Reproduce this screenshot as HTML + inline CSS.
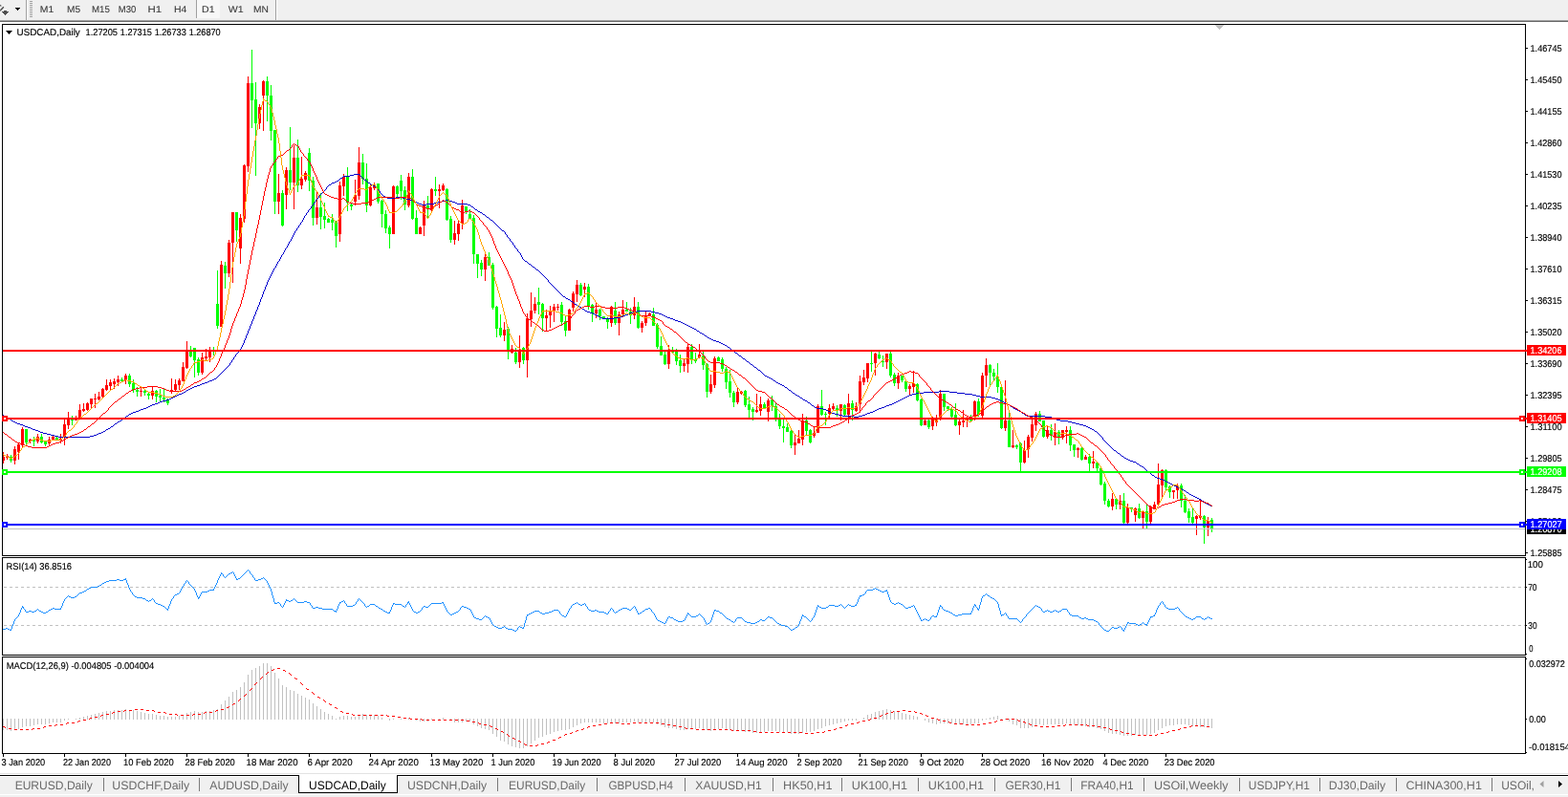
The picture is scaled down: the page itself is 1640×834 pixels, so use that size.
<!DOCTYPE html>
<html><head><meta charset="utf-8"><title>USDCAD,Daily</title>
<style>
html,body{margin:0;padding:0;background:#fff;overflow:hidden}
svg{display:block;font-family:"Liberation Sans", sans-serif;}
text{white-space:pre}
</style></head><body>
<svg width="1640" height="834" viewBox="0 0 1640 834" shape-rendering="crispEdges" text-rendering="geometricPrecision">
<rect x="0" y="0" width="1640" height="834" fill="#ffffff"/>
<rect x="0" y="0" width="1640" height="21" fill="#f0f0f0"/>
<rect x="0" y="21" width="1640" height="1" fill="#a0a0a0"/>
<rect x="0" y="22" width="1640" height="1" fill="#696969"/>
<rect x="27" y="0" width="1" height="21" fill="#a0a0a0"/>
<rect x="28" y="0" width="1" height="21" fill="#ffffff"/>
<rect x="288" y="0" width="1" height="21" fill="#a0a0a0"/>
<rect x="289" y="0" width="1" height="21" fill="#ffffff"/>
<rect x="31" y="1" width="3" height="1" fill="#a0a0a0"/>
<rect x="31" y="3" width="3" height="1" fill="#a0a0a0"/>
<rect x="31" y="5" width="3" height="1" fill="#a0a0a0"/>
<rect x="31" y="7" width="3" height="1" fill="#a0a0a0"/>
<rect x="31" y="9" width="3" height="1" fill="#a0a0a0"/>
<rect x="31" y="11" width="3" height="1" fill="#a0a0a0"/>
<rect x="31" y="13" width="3" height="1" fill="#a0a0a0"/>
<rect x="31" y="15" width="3" height="1" fill="#a0a0a0"/>
<rect x="31" y="17" width="3" height="1" fill="#a0a0a0"/>
<rect x="206" y="0" width="24" height="19" fill="#f8f8f8"/>
<rect x="205" y="0" width="1" height="19" fill="#a0a0a0"/>
<text x="41.89" y="13" font-size="9.9" fill="#3a3a3a" stroke="#3a3a3a" stroke-width="0.1" textLength="14.42" lengthAdjust="spacingAndGlyphs">M1</text>
<text x="70.11" y="13" font-size="9.9" fill="#3a3a3a" stroke="#3a3a3a" stroke-width="0.1" textLength="14.03" lengthAdjust="spacingAndGlyphs">M5</text>
<text x="96.02" y="13" font-size="9.9" fill="#3a3a3a" stroke="#3a3a3a" stroke-width="0.1" textLength="18.85" lengthAdjust="spacingAndGlyphs">M15</text>
<text x="123.83" y="13" font-size="9.9" fill="#3a3a3a" stroke="#3a3a3a" stroke-width="0.1" textLength="18.46" lengthAdjust="spacingAndGlyphs">M30</text>
<text x="154.58" y="13" font-size="9.9" fill="#3a3a3a" stroke="#3a3a3a" stroke-width="0.1" textLength="14.63" lengthAdjust="spacingAndGlyphs">H1</text>
<text x="181.96" y="13" font-size="9.9" fill="#3a3a3a" stroke="#3a3a3a" stroke-width="0.1" textLength="13.32" lengthAdjust="spacingAndGlyphs">H4</text>
<text x="211.05" y="13" font-size="9.9" fill="#3a3a3a" stroke="#3a3a3a" stroke-width="0.1" textLength="13.43" lengthAdjust="spacingAndGlyphs">D1</text>
<text x="238.69" y="13" font-size="9.9" fill="#3a3a3a" stroke="#3a3a3a" stroke-width="0.1" textLength="15.91" lengthAdjust="spacingAndGlyphs">W1</text>
<text x="265.03" y="13" font-size="9.9" fill="#3a3a3a" stroke="#3a3a3a" stroke-width="0.1" textLength="15.89" lengthAdjust="spacingAndGlyphs">MN</text>
<rect x="16" y="8" width="5" height="1" fill="#000"/>
<rect x="17" y="9" width="3" height="1" fill="#000"/>
<rect x="18" y="10" width="1" height="1" fill="#000"/>
<path d="M3.8 7.2 L0 11.2" fill="none" stroke="#484848" stroke-width="1.4" shape-rendering="auto"/>
<path d="M0 4.8 L2 6.2 L0 6.6z" fill="#484848" shape-rendering="auto"/>
<rect x="4" y="11" width="3" height="1" fill="#505050"/>
<rect x="2" y="12" width="7" height="1" fill="#505050"/>
<rect x="3" y="13" width="5" height="1" fill="#505050"/>
<rect x="4" y="14" width="3" height="1" fill="#505050"/>
<rect x="5" y="15" width="1" height="1" fill="#505050"/>
<rect x="1596" y="50" width="2" height="1" fill="#000"/>
<rect x="1596" y="83" width="2" height="1" fill="#000"/>
<rect x="1596" y="116" width="2" height="1" fill="#000"/>
<rect x="1596" y="149" width="2" height="1" fill="#000"/>
<rect x="1596" y="182" width="2" height="1" fill="#000"/>
<rect x="1596" y="215" width="2" height="1" fill="#000"/>
<rect x="1596" y="248" width="2" height="1" fill="#000"/>
<rect x="1596" y="281" width="2" height="1" fill="#000"/>
<rect x="1596" y="314" width="2" height="1" fill="#000"/>
<rect x="1596" y="347" width="2" height="1" fill="#000"/>
<rect x="1596" y="380" width="2" height="1" fill="#000"/>
<rect x="1596" y="413" width="2" height="1" fill="#000"/>
<rect x="1596" y="446" width="2" height="1" fill="#000"/>
<rect x="1596" y="479" width="2" height="1" fill="#000"/>
<rect x="1596" y="512" width="2" height="1" fill="#000"/>
<rect x="1596" y="545" width="2" height="1" fill="#000"/>
<rect x="1596" y="578" width="2" height="1" fill="#000"/>
<text x="1600.53" y="54" font-size="9.9" fill="#000" stroke="#000" stroke-width="0.15" textLength="33.11" lengthAdjust="spacingAndGlyphs">1.46745</text>
<text x="1600.54" y="87" font-size="9.9" fill="#000" stroke="#000" stroke-width="0.15" textLength="32.98" lengthAdjust="spacingAndGlyphs">1.45450</text>
<text x="1600.53" y="120" font-size="9.9" fill="#000" stroke="#000" stroke-width="0.15" textLength="33.11" lengthAdjust="spacingAndGlyphs">1.44155</text>
<text x="1600.54" y="153" font-size="9.9" fill="#000" stroke="#000" stroke-width="0.15" textLength="32.98" lengthAdjust="spacingAndGlyphs">1.42860</text>
<text x="1600.54" y="186" font-size="9.9" fill="#000" stroke="#000" stroke-width="0.15" textLength="32.98" lengthAdjust="spacingAndGlyphs">1.41530</text>
<text x="1600.53" y="219" font-size="9.9" fill="#000" stroke="#000" stroke-width="0.15" textLength="33.11" lengthAdjust="spacingAndGlyphs">1.40235</text>
<text x="1600.54" y="252" font-size="9.9" fill="#000" stroke="#000" stroke-width="0.15" textLength="32.98" lengthAdjust="spacingAndGlyphs">1.38940</text>
<text x="1600.54" y="285" font-size="9.9" fill="#000" stroke="#000" stroke-width="0.15" textLength="32.98" lengthAdjust="spacingAndGlyphs">1.37610</text>
<text x="1600.53" y="318" font-size="9.9" fill="#000" stroke="#000" stroke-width="0.15" textLength="33.11" lengthAdjust="spacingAndGlyphs">1.36315</text>
<text x="1600.54" y="351" font-size="9.9" fill="#000" stroke="#000" stroke-width="0.15" textLength="32.98" lengthAdjust="spacingAndGlyphs">1.35020</text>
<text x="1600.54" y="384" font-size="9.9" fill="#000" stroke="#000" stroke-width="0.15" textLength="32.98" lengthAdjust="spacingAndGlyphs">1.33690</text>
<text x="1600.53" y="417" font-size="9.9" fill="#000" stroke="#000" stroke-width="0.15" textLength="33.11" lengthAdjust="spacingAndGlyphs">1.32395</text>
<text x="1600.50" y="450" font-size="9.9" fill="#000" stroke="#000" stroke-width="0.15" textLength="33.29" lengthAdjust="spacingAndGlyphs">1.31100</text>
<text x="1600.53" y="483" font-size="9.9" fill="#000" stroke="#000" stroke-width="0.15" textLength="33.11" lengthAdjust="spacingAndGlyphs">1.29805</text>
<text x="1600.53" y="516" font-size="9.9" fill="#000" stroke="#000" stroke-width="0.15" textLength="33.11" lengthAdjust="spacingAndGlyphs">1.28475</text>
<text x="1600.54" y="549" font-size="9.9" fill="#000" stroke="#000" stroke-width="0.15" textLength="32.98" lengthAdjust="spacingAndGlyphs">1.27180</text>
<text x="1600.53" y="582" font-size="9.9" fill="#000" stroke="#000" stroke-width="0.15" textLength="33.11" lengthAdjust="spacingAndGlyphs">1.25885</text>
<path fill="#c0c0c0" d="M4 614h3v1h-3zM10 614h3v1h-3zM16 614h3v1h-3zM22 614h3v1h-3zM28 614h3v1h-3zM34 614h3v1h-3zM40 614h3v1h-3zM46 614h3v1h-3zM52 614h3v1h-3zM58 614h3v1h-3zM64 614h3v1h-3zM70 614h3v1h-3zM76 614h3v1h-3zM82 614h3v1h-3zM88 614h3v1h-3zM94 614h3v1h-3zM100 614h3v1h-3zM106 614h3v1h-3zM112 614h3v1h-3zM118 614h3v1h-3zM124 614h3v1h-3zM130 614h3v1h-3zM136 614h3v1h-3zM142 614h3v1h-3zM148 614h3v1h-3zM154 614h3v1h-3zM160 614h3v1h-3zM166 614h3v1h-3zM172 614h3v1h-3zM178 614h3v1h-3zM184 614h3v1h-3zM190 614h3v1h-3zM196 614h3v1h-3zM202 614h3v1h-3zM208 614h3v1h-3zM214 614h3v1h-3zM220 614h3v1h-3zM226 614h3v1h-3zM232 614h3v1h-3zM238 614h3v1h-3zM244 614h3v1h-3zM250 614h3v1h-3zM256 614h3v1h-3zM262 614h3v1h-3zM268 614h3v1h-3zM274 614h3v1h-3zM280 614h3v1h-3zM286 614h3v1h-3zM292 614h3v1h-3zM298 614h3v1h-3zM304 614h3v1h-3zM310 614h3v1h-3zM316 614h3v1h-3zM322 614h3v1h-3zM328 614h3v1h-3zM334 614h3v1h-3zM340 614h3v1h-3zM346 614h3v1h-3zM352 614h3v1h-3zM358 614h3v1h-3zM364 614h3v1h-3zM370 614h3v1h-3zM376 614h3v1h-3zM382 614h3v1h-3zM388 614h3v1h-3zM394 614h3v1h-3zM400 614h3v1h-3zM406 614h3v1h-3zM412 614h3v1h-3zM418 614h3v1h-3zM424 614h3v1h-3zM430 614h3v1h-3zM436 614h3v1h-3zM442 614h3v1h-3zM448 614h3v1h-3zM454 614h3v1h-3zM460 614h3v1h-3zM466 614h3v1h-3zM472 614h3v1h-3zM478 614h3v1h-3zM484 614h3v1h-3zM490 614h3v1h-3zM496 614h3v1h-3zM502 614h3v1h-3zM508 614h3v1h-3zM514 614h3v1h-3zM520 614h3v1h-3zM526 614h3v1h-3zM532 614h3v1h-3zM538 614h3v1h-3zM544 614h3v1h-3zM550 614h3v1h-3zM556 614h3v1h-3zM562 614h3v1h-3zM568 614h3v1h-3zM574 614h3v1h-3zM580 614h3v1h-3zM586 614h3v1h-3zM592 614h3v1h-3zM598 614h3v1h-3zM604 614h3v1h-3zM610 614h3v1h-3zM616 614h3v1h-3zM622 614h3v1h-3zM628 614h3v1h-3zM634 614h3v1h-3zM640 614h3v1h-3zM646 614h3v1h-3zM652 614h3v1h-3zM658 614h3v1h-3zM664 614h3v1h-3zM670 614h3v1h-3zM676 614h3v1h-3zM682 614h3v1h-3zM688 614h3v1h-3zM694 614h3v1h-3zM700 614h3v1h-3zM706 614h3v1h-3zM712 614h3v1h-3zM718 614h3v1h-3zM724 614h3v1h-3zM730 614h3v1h-3zM736 614h3v1h-3zM742 614h3v1h-3zM748 614h3v1h-3zM754 614h3v1h-3zM760 614h3v1h-3zM766 614h3v1h-3zM772 614h3v1h-3zM778 614h3v1h-3zM784 614h3v1h-3zM790 614h3v1h-3zM796 614h3v1h-3zM802 614h3v1h-3zM808 614h3v1h-3zM814 614h3v1h-3zM820 614h3v1h-3zM826 614h3v1h-3zM832 614h3v1h-3zM838 614h3v1h-3zM844 614h3v1h-3zM850 614h3v1h-3zM856 614h3v1h-3zM862 614h3v1h-3zM868 614h3v1h-3zM874 614h3v1h-3zM880 614h3v1h-3zM886 614h3v1h-3zM892 614h3v1h-3zM898 614h3v1h-3zM904 614h3v1h-3zM910 614h3v1h-3zM916 614h3v1h-3zM922 614h3v1h-3zM928 614h3v1h-3zM934 614h3v1h-3zM940 614h3v1h-3zM946 614h3v1h-3zM952 614h3v1h-3zM958 614h3v1h-3zM964 614h3v1h-3zM970 614h3v1h-3zM976 614h3v1h-3zM982 614h3v1h-3zM988 614h3v1h-3zM994 614h3v1h-3zM1000 614h3v1h-3zM1006 614h3v1h-3zM1012 614h3v1h-3zM1018 614h3v1h-3zM1024 614h3v1h-3zM1030 614h3v1h-3zM1036 614h3v1h-3zM1042 614h3v1h-3zM1048 614h3v1h-3zM1054 614h3v1h-3zM1060 614h3v1h-3zM1066 614h3v1h-3zM1072 614h3v1h-3zM1078 614h3v1h-3zM1084 614h3v1h-3zM1090 614h3v1h-3zM1096 614h3v1h-3zM1102 614h3v1h-3zM1108 614h3v1h-3zM1114 614h3v1h-3zM1120 614h3v1h-3zM1126 614h3v1h-3zM1132 614h3v1h-3zM1138 614h3v1h-3zM1144 614h3v1h-3zM1150 614h3v1h-3zM1156 614h3v1h-3zM1162 614h3v1h-3zM1168 614h3v1h-3zM1174 614h3v1h-3zM1180 614h3v1h-3zM1186 614h3v1h-3zM1192 614h3v1h-3zM1198 614h3v1h-3zM1204 614h3v1h-3zM1210 614h3v1h-3zM1216 614h3v1h-3zM1222 614h3v1h-3zM1228 614h3v1h-3zM1234 614h3v1h-3zM1240 614h3v1h-3zM1246 614h3v1h-3zM1252 614h3v1h-3zM1258 614h3v1h-3zM1264 614h3v1h-3zM1270 614h3v1h-3zM1276 614h3v1h-3zM1282 614h3v1h-3zM1288 614h3v1h-3zM1294 614h3v1h-3zM1300 614h3v1h-3zM1306 614h3v1h-3zM1312 614h3v1h-3zM1318 614h3v1h-3zM1324 614h3v1h-3zM1330 614h3v1h-3zM1336 614h3v1h-3zM1342 614h3v1h-3zM1348 614h3v1h-3zM1354 614h3v1h-3zM1360 614h3v1h-3zM1366 614h3v1h-3zM1372 614h3v1h-3zM1378 614h3v1h-3zM1384 614h3v1h-3zM1390 614h3v1h-3zM1396 614h3v1h-3zM1402 614h3v1h-3zM1408 614h3v1h-3zM1414 614h3v1h-3zM1420 614h3v1h-3zM1426 614h3v1h-3zM1432 614h3v1h-3zM1438 614h3v1h-3zM1444 614h3v1h-3zM1450 614h3v1h-3zM1456 614h3v1h-3zM1462 614h3v1h-3zM1468 614h3v1h-3zM1474 614h3v1h-3zM1480 614h3v1h-3zM1486 614h3v1h-3zM1492 614h3v1h-3zM1498 614h3v1h-3zM1504 614h3v1h-3zM1510 614h3v1h-3zM1516 614h3v1h-3zM1522 614h3v1h-3zM1528 614h3v1h-3zM1534 614h3v1h-3zM1540 614h3v1h-3zM1546 614h3v1h-3zM1552 614h3v1h-3zM1558 614h3v1h-3zM1564 614h3v1h-3zM1570 614h3v1h-3zM1576 614h3v1h-3zM1582 614h3v1h-3zM1588 614h3v1h-3zM1594 614h3v1h-3z"/>
<path fill="#c0c0c0" d="M4 654h3v1h-3zM10 654h3v1h-3zM16 654h3v1h-3zM22 654h3v1h-3zM28 654h3v1h-3zM34 654h3v1h-3zM40 654h3v1h-3zM46 654h3v1h-3zM52 654h3v1h-3zM58 654h3v1h-3zM64 654h3v1h-3zM70 654h3v1h-3zM76 654h3v1h-3zM82 654h3v1h-3zM88 654h3v1h-3zM94 654h3v1h-3zM100 654h3v1h-3zM106 654h3v1h-3zM112 654h3v1h-3zM118 654h3v1h-3zM124 654h3v1h-3zM130 654h3v1h-3zM136 654h3v1h-3zM142 654h3v1h-3zM148 654h3v1h-3zM154 654h3v1h-3zM160 654h3v1h-3zM166 654h3v1h-3zM172 654h3v1h-3zM178 654h3v1h-3zM184 654h3v1h-3zM190 654h3v1h-3zM196 654h3v1h-3zM202 654h3v1h-3zM208 654h3v1h-3zM214 654h3v1h-3zM220 654h3v1h-3zM226 654h3v1h-3zM232 654h3v1h-3zM238 654h3v1h-3zM244 654h3v1h-3zM250 654h3v1h-3zM256 654h3v1h-3zM262 654h3v1h-3zM268 654h3v1h-3zM274 654h3v1h-3zM280 654h3v1h-3zM286 654h3v1h-3zM292 654h3v1h-3zM298 654h3v1h-3zM304 654h3v1h-3zM310 654h3v1h-3zM316 654h3v1h-3zM322 654h3v1h-3zM328 654h3v1h-3zM334 654h3v1h-3zM340 654h3v1h-3zM346 654h3v1h-3zM352 654h3v1h-3zM358 654h3v1h-3zM364 654h3v1h-3zM370 654h3v1h-3zM376 654h3v1h-3zM382 654h3v1h-3zM388 654h3v1h-3zM394 654h3v1h-3zM400 654h3v1h-3zM406 654h3v1h-3zM412 654h3v1h-3zM418 654h3v1h-3zM424 654h3v1h-3zM430 654h3v1h-3zM436 654h3v1h-3zM442 654h3v1h-3zM448 654h3v1h-3zM454 654h3v1h-3zM460 654h3v1h-3zM466 654h3v1h-3zM472 654h3v1h-3zM478 654h3v1h-3zM484 654h3v1h-3zM490 654h3v1h-3zM496 654h3v1h-3zM502 654h3v1h-3zM508 654h3v1h-3zM514 654h3v1h-3zM520 654h3v1h-3zM526 654h3v1h-3zM532 654h3v1h-3zM538 654h3v1h-3zM544 654h3v1h-3zM550 654h3v1h-3zM556 654h3v1h-3zM562 654h3v1h-3zM568 654h3v1h-3zM574 654h3v1h-3zM580 654h3v1h-3zM586 654h3v1h-3zM592 654h3v1h-3zM598 654h3v1h-3zM604 654h3v1h-3zM610 654h3v1h-3zM616 654h3v1h-3zM622 654h3v1h-3zM628 654h3v1h-3zM634 654h3v1h-3zM640 654h3v1h-3zM646 654h3v1h-3zM652 654h3v1h-3zM658 654h3v1h-3zM664 654h3v1h-3zM670 654h3v1h-3zM676 654h3v1h-3zM682 654h3v1h-3zM688 654h3v1h-3zM694 654h3v1h-3zM700 654h3v1h-3zM706 654h3v1h-3zM712 654h3v1h-3zM718 654h3v1h-3zM724 654h3v1h-3zM730 654h3v1h-3zM736 654h3v1h-3zM742 654h3v1h-3zM748 654h3v1h-3zM754 654h3v1h-3zM760 654h3v1h-3zM766 654h3v1h-3zM772 654h3v1h-3zM778 654h3v1h-3zM784 654h3v1h-3zM790 654h3v1h-3zM796 654h3v1h-3zM802 654h3v1h-3zM808 654h3v1h-3zM814 654h3v1h-3zM820 654h3v1h-3zM826 654h3v1h-3zM832 654h3v1h-3zM838 654h3v1h-3zM844 654h3v1h-3zM850 654h3v1h-3zM856 654h3v1h-3zM862 654h3v1h-3zM868 654h3v1h-3zM874 654h3v1h-3zM880 654h3v1h-3zM886 654h3v1h-3zM892 654h3v1h-3zM898 654h3v1h-3zM904 654h3v1h-3zM910 654h3v1h-3zM916 654h3v1h-3zM922 654h3v1h-3zM928 654h3v1h-3zM934 654h3v1h-3zM940 654h3v1h-3zM946 654h3v1h-3zM952 654h3v1h-3zM958 654h3v1h-3zM964 654h3v1h-3zM970 654h3v1h-3zM976 654h3v1h-3zM982 654h3v1h-3zM988 654h3v1h-3zM994 654h3v1h-3zM1000 654h3v1h-3zM1006 654h3v1h-3zM1012 654h3v1h-3zM1018 654h3v1h-3zM1024 654h3v1h-3zM1030 654h3v1h-3zM1036 654h3v1h-3zM1042 654h3v1h-3zM1048 654h3v1h-3zM1054 654h3v1h-3zM1060 654h3v1h-3zM1066 654h3v1h-3zM1072 654h3v1h-3zM1078 654h3v1h-3zM1084 654h3v1h-3zM1090 654h3v1h-3zM1096 654h3v1h-3zM1102 654h3v1h-3zM1108 654h3v1h-3zM1114 654h3v1h-3zM1120 654h3v1h-3zM1126 654h3v1h-3zM1132 654h3v1h-3zM1138 654h3v1h-3zM1144 654h3v1h-3zM1150 654h3v1h-3zM1156 654h3v1h-3zM1162 654h3v1h-3zM1168 654h3v1h-3zM1174 654h3v1h-3zM1180 654h3v1h-3zM1186 654h3v1h-3zM1192 654h3v1h-3zM1198 654h3v1h-3zM1204 654h3v1h-3zM1210 654h3v1h-3zM1216 654h3v1h-3zM1222 654h3v1h-3zM1228 654h3v1h-3zM1234 654h3v1h-3zM1240 654h3v1h-3zM1246 654h3v1h-3zM1252 654h3v1h-3zM1258 654h3v1h-3zM1264 654h3v1h-3zM1270 654h3v1h-3zM1276 654h3v1h-3zM1282 654h3v1h-3zM1288 654h3v1h-3zM1294 654h3v1h-3zM1300 654h3v1h-3zM1306 654h3v1h-3zM1312 654h3v1h-3zM1318 654h3v1h-3zM1324 654h3v1h-3zM1330 654h3v1h-3zM1336 654h3v1h-3zM1342 654h3v1h-3zM1348 654h3v1h-3zM1354 654h3v1h-3zM1360 654h3v1h-3zM1366 654h3v1h-3zM1372 654h3v1h-3zM1378 654h3v1h-3zM1384 654h3v1h-3zM1390 654h3v1h-3zM1396 654h3v1h-3zM1402 654h3v1h-3zM1408 654h3v1h-3zM1414 654h3v1h-3zM1420 654h3v1h-3zM1426 654h3v1h-3zM1432 654h3v1h-3zM1438 654h3v1h-3zM1444 654h3v1h-3zM1450 654h3v1h-3zM1456 654h3v1h-3zM1462 654h3v1h-3zM1468 654h3v1h-3zM1474 654h3v1h-3zM1480 654h3v1h-3zM1486 654h3v1h-3zM1492 654h3v1h-3zM1498 654h3v1h-3zM1504 654h3v1h-3zM1510 654h3v1h-3zM1516 654h3v1h-3zM1522 654h3v1h-3zM1528 654h3v1h-3zM1534 654h3v1h-3zM1540 654h3v1h-3zM1546 654h3v1h-3zM1552 654h3v1h-3zM1558 654h3v1h-3zM1564 654h3v1h-3zM1570 654h3v1h-3zM1576 654h3v1h-3zM1582 654h3v1h-3zM1588 654h3v1h-3zM1594 654h3v1h-3z"/>
<rect x="1596" y="585" width="1" height="1" fill="#000"/>
<rect x="1596" y="614" width="1" height="1" fill="#000"/>
<rect x="1596" y="654" width="1" height="1" fill="#000"/>
<rect x="1596" y="684" width="1" height="1" fill="#000"/>
<rect x="1596" y="689" width="1" height="1" fill="#000"/>
<rect x="1596" y="752" width="1" height="1" fill="#000"/>
<rect x="1596" y="787" width="1" height="1" fill="#000"/>
<text x="1597.73" y="594" font-size="9.9" fill="#000" stroke="#000" stroke-width="0.15" textLength="16.22" lengthAdjust="spacingAndGlyphs">100</text>
<text x="1598.18" y="618" font-size="9.9" fill="#000" stroke="#000" stroke-width="0.15" textLength="9.32" lengthAdjust="spacingAndGlyphs">70</text>
<text x="1598.32" y="658" font-size="9.9" fill="#000" stroke="#000" stroke-width="0.15" textLength="9.17" lengthAdjust="spacingAndGlyphs">30</text>
<text x="1599.29" y="682" font-size="9.9" fill="#000" stroke="#000" stroke-width="0.15" textLength="4.24" lengthAdjust="spacingAndGlyphs">0</text>
<text x="1599.25" y="698" font-size="9.9" fill="#000" stroke="#000" stroke-width="0.15" textLength="37.51" lengthAdjust="spacingAndGlyphs">0.032972</text>
<text x="1599.25" y="756" font-size="9.9" fill="#000" stroke="#000" stroke-width="0.15" textLength="17.65" lengthAdjust="spacingAndGlyphs">0.00</text>
<text x="1599.04" y="785" font-size="9.9" fill="#000" stroke="#000" stroke-width="0.15" textLength="43.02" lengthAdjust="spacingAndGlyphs">-0.018154</text>
<rect x="1271" y="26" width="9" height="1" fill="#c0c0c0"/>
<rect x="1272" y="27" width="7" height="1" fill="#c0c0c0"/>
<rect x="1273" y="28" width="5" height="1" fill="#c0c0c0"/>
<rect x="1274" y="29" width="3" height="1" fill="#c0c0c0"/>
<rect x="1275" y="30" width="1" height="1" fill="#c0c0c0"/>
<path fill="#00ff00" d="M11 476h1v8h-1zM10 478h3v4h-3zM27 449h1v18h-1zM26 449h3v14h-3zM35 457h1v10h-1zM34 460h3v2h-3zM43 454h1v10h-1zM42 457h3v6h-3zM47 461h1v6h-1zM46 462h3v3h-3zM59 457h1v4h-1zM58 458h3v2h-3zM75 435h1v10h-1zM74 439h3v1h-3zM127 395h1v4h-1zM126 397h3v2h-3zM135 391h1v14h-1zM134 393h3v9h-3zM139 397h1v14h-1zM138 401h3v7h-3zM143 405h1v10h-1zM142 408h3v2h-3zM151 408h1v6h-1zM150 409h3v2h-3zM155 410h1v8h-1zM154 412h3v2h-3zM163 408h1v13h-1zM162 409h3v6h-3zM167 407h1v13h-1zM166 414h3v2h-3zM171 406h1v15h-1zM170 416h3v2h-3zM175 417h1v7h-1zM174 418h3v4h-3zM199 362h1v12h-1zM198 367h3v6h-3zM203 364h1v31h-1zM202 364h3v13h-3zM207 374h1v19h-1zM206 376h3v14h-3zM223 363h1v9h-1zM222 367h3v1h-3zM227 283h1v61h-1zM226 318h3v23h-3zM235 274h1v28h-1zM234 278h3v8h-3zM247 222h1v31h-1zM246 222h3v19h-3zM263 52h1v82h-1zM262 87h3v18h-3zM267 86h1v98h-1zM266 104h3v25h-3zM279 80h1v47h-1zM278 85h3v15h-3zM283 89h1v58h-1zM282 100h3v37h-3zM287 136h1v88h-1zM286 136h3v75h-3zM295 199h1v38h-1zM294 202h3v34h-3zM303 133h1v66h-1zM302 178h3v13h-3zM311 146h1v55h-1zM310 165h3v29h-3zM323 155h1v45h-1zM322 160h3v29h-3zM327 185h1v51h-1zM326 189h3v39h-3zM335 202h1v38h-1zM334 217h3v10h-3zM339 212h1v27h-1zM338 226h3v4h-3zM343 228h1v5h-1zM342 229h3v4h-3zM347 224h1v17h-1zM346 230h3v3h-3zM351 231h1v28h-1zM350 233h3v14h-3zM363 175h1v46h-1zM362 185h3v27h-3zM367 212h1v8h-1zM366 214h3v2h-3zM379 161h1v32h-1zM378 170h3v17h-3zM383 171h1v51h-1zM382 187h3v28h-3zM395 192h1v21h-1zM394 192h3v19h-3zM399 209h1v29h-1zM398 210h3v14h-3zM403 220h1v24h-1zM402 224h3v15h-3zM407 236h1v24h-1zM406 238h3v7h-3zM415 194h1v13h-1zM414 195h3v8h-3zM419 183h1v26h-1zM418 189h3v11h-3zM423 195h1v25h-1zM422 199h3v15h-3zM431 177h1v53h-1zM430 185h3v44h-3zM435 220h1v25h-1zM434 228h3v17h-3zM447 205h1v24h-1zM446 215h3v3h-3zM455 185h1v20h-1zM454 198h3v2h-3zM467 197h1v34h-1zM466 198h3v32h-3zM471 226h1v28h-1zM470 229h3v22h-3zM487 216h1v8h-1zM486 216h3v5h-3zM491 219h1v10h-1zM490 224h3v5h-3zM495 225h1v51h-1zM494 228h3v38h-3zM499 266h1v25h-1zM498 266h3v10h-3zM503 272h1v17h-1zM502 275h3v7h-3zM511 264h1v14h-1zM510 269h3v9h-3zM515 275h1v49h-1zM514 277h3v45h-3zM519 320h1v33h-1zM518 321h3v23h-3zM523 329h1v24h-1zM522 343h3v8h-3zM531 342h1v34h-1zM530 344h3v22h-3zM539 364h1v17h-1zM538 369h3v10h-3zM547 363h1v18h-1zM546 364h3v13h-3zM563 301h1v28h-1zM562 316h3v3h-3zM567 317h1v30h-1zM566 318h3v15h-3zM587 316h1v25h-1zM586 319h3v18h-3zM591 330h1v22h-1zM590 336h3v10h-3zM607 296h1v14h-1zM606 298h3v11h-3zM615 297h1v27h-1zM614 300h3v20h-3zM619 318h1v19h-1zM618 319h3v9h-3zM627 323h1v12h-1zM626 324h3v7h-3zM631 331h1v3h-1zM630 331h3v2h-3zM635 332h1v12h-1zM634 334h3v3h-3zM643 316h1v24h-1zM642 325h3v13h-3zM655 316h1v10h-1zM654 324h3v2h-3zM659 322h1v17h-1zM658 326h3v4h-3zM667 316h1v28h-1zM666 321h3v22h-3zM683 322h1v19h-1zM682 329h3v12h-3zM687 338h1v27h-1zM686 340h3v23h-3zM691 352h1v20h-1zM690 362h3v10h-3zM695 368h1v14h-1zM694 371h3v10h-3zM703 363h1v7h-1zM702 366h3v3h-3zM707 365h1v17h-1zM706 368h3v10h-3zM711 371h1v19h-1zM710 377h3v6h-3zM723 360h1v21h-1zM722 363h3v14h-3zM727 369h1v11h-1zM726 376h3v2h-3zM735 368h1v19h-1zM734 372h3v10h-3zM739 380h1v36h-1zM738 381h3v29h-3zM751 373h1v5h-1zM750 374h3v4h-3zM755 374h1v15h-1zM754 376h3v10h-3zM759 384h1v23h-1zM758 386h3v14h-3zM763 387h1v29h-1zM762 399h3v12h-3zM767 409h1v17h-1zM766 411h3v10h-3zM779 408h1v18h-1zM778 409h3v15h-3zM783 415h1v24h-1zM782 423h3v6h-3zM787 426h1v14h-1zM786 428h3v3h-3zM799 421h1v6h-1zM798 423h3v4h-3zM807 414h1v16h-1zM806 418h3v7h-3zM811 422h1v19h-1zM810 425h3v12h-3zM815 433h1v16h-1zM814 439h3v7h-3zM819 439h1v24h-1zM818 446h3v2h-3zM823 443h1v9h-1zM822 447h3v5h-3zM827 448h1v21h-1zM826 451h3v15h-3zM843 436h1v19h-1zM842 440h3v11h-3zM847 449h1v15h-1zM846 450h3v13h-3zM859 408h1v27h-1zM858 425h3v9h-3zM863 431h1v14h-1zM862 433h3v1h-3zM875 424h1v12h-1zM874 427h3v2h-3zM883 423h1v12h-1zM882 424h3v10h-3zM891 419h1v21h-1zM890 422h3v7h-3zM911 368h1v21h-1zM910 380h3v1h-3zM919 368h1v8h-1zM918 371h3v4h-3zM923 372h1v12h-1zM922 378h3v1h-3zM931 368h1v27h-1zM930 370h3v23h-3zM935 390h1v14h-1zM934 392h3v9h-3zM943 393h1v7h-1zM942 393h3v5h-3zM947 399h1v11h-1zM946 399h3v8h-3zM959 401h1v19h-1zM958 402h3v17h-3zM963 417h1v29h-1zM962 418h3v27h-3zM971 439h1v10h-1zM970 440h3v7h-3zM987 412h1v18h-1zM986 412h3v14h-3zM991 425h1v5h-1zM990 425h3v3h-3zM995 426h1v11h-1zM994 428h3v8h-3zM999 422h1v24h-1zM998 434h3v11h-3zM1015 434h1v7h-1zM1014 436h3v4h-3zM1023 417h1v19h-1zM1022 420h3v14h-3zM1035 381h1v23h-1zM1034 382h3v8h-3zM1039 386h1v12h-1zM1038 390h3v4h-3zM1043 380h1v31h-1zM1042 394h3v11h-3zM1047 404h1v45h-1zM1046 405h3v43h-3zM1055 432h1v36h-1zM1054 440h3v28h-3zM1063 465h1v5h-1zM1062 466h3v2h-3zM1067 463h1v31h-1zM1066 464h3v20h-3zM1087 430h1v11h-1zM1086 433h3v8h-3zM1091 440h1v18h-1zM1090 440h3v17h-3zM1099 444h1v17h-1zM1098 450h3v6h-3zM1107 450h1v15h-1zM1106 452h3v5h-3zM1119 446h1v26h-1zM1118 450h3v16h-3zM1123 465h1v13h-1zM1122 465h3v6h-3zM1131 468h1v14h-1zM1130 469h3v12h-3zM1139 475h1v18h-1zM1138 478h3v7h-3zM1147 484h1v11h-1zM1146 484h3v6h-3zM1151 489h1v19h-1zM1150 490h3v17h-3zM1155 504h1v24h-1zM1154 506h3v18h-3zM1159 522h1v9h-1zM1158 524h3v6h-3zM1167 522h1v11h-1zM1166 522h3v6h-3zM1175 516h1v32h-1zM1174 524h3v23h-3zM1183 531h1v5h-1zM1182 531h3v2h-3zM1191 527h1v16h-1zM1190 532h3v10h-3zM1199 528h1v26h-1zM1198 535h3v11h-3zM1219 491h1v22h-1zM1218 492h3v18h-3zM1223 508h1v13h-1zM1222 509h3v6h-3zM1235 506h1v25h-1zM1234 508h3v16h-3zM1239 518h1v19h-1zM1238 524h3v12h-3zM1243 532h1v15h-1zM1242 535h3v7h-3zM1247 532h1v16h-1zM1246 541h3v6h-3zM1259 539h1v30h-1zM1258 540h3v12h-3zM1267 542h1v15h-1zM1266 544h3v9h-3z"/>
<path fill="#ff0000" d="M3 473h1v12h-1zM2 478h3v4h-3zM7 475h1v6h-1zM6 477h3v2h-3zM15 467h1v19h-1zM14 470h3v12h-3zM19 463h1v18h-1zM18 465h3v8h-3zM23 447h1v22h-1zM22 449h3v17h-3zM31 459h1v5h-1zM30 460h3v2h-3zM39 454h1v10h-1zM38 457h3v5h-3zM51 457h1v9h-1zM50 460h3v4h-3zM55 455h1v5h-1zM54 457h3v3h-3zM63 454h1v10h-1zM62 459h3v2h-3zM67 439h1v27h-1zM66 444h3v14h-3zM71 431h1v18h-1zM70 437h3v8h-3zM79 435h1v5h-1zM78 438h3v2h-3zM83 423h1v15h-1zM82 429h3v9h-3zM87 422h1v9h-1zM86 428h3v2h-3zM91 421h1v9h-1zM90 422h3v7h-3zM95 417h1v10h-1zM94 417h3v6h-3zM99 412h1v15h-1zM98 417h3v1h-3zM103 410h1v9h-1zM102 415h3v3h-3zM107 406h1v10h-1zM106 407h3v8h-3zM111 397h1v12h-1zM110 403h3v5h-3zM115 397h1v11h-1zM114 400h3v4h-3zM119 396h1v11h-1zM118 399h3v3h-3zM123 393h1v11h-1zM122 397h3v3h-3zM131 391h1v11h-1zM130 393h3v5h-3zM147 405h1v10h-1zM146 409h3v1h-3zM159 404h1v14h-1zM158 409h3v5h-3zM179 396h1v16h-1zM178 408h3v2h-3zM183 397h1v13h-1zM182 402h3v6h-3zM187 396h1v12h-1zM186 398h3v5h-3zM191 379h1v20h-1zM190 384h3v15h-3zM195 357h1v29h-1zM194 367h3v18h-3zM211 369h1v23h-1zM210 374h3v16h-3zM215 365h1v12h-1zM214 373h3v2h-3zM219 363h1v16h-1zM218 368h3v6h-3zM231 273h1v69h-1zM230 277h3v65h-3zM239 251h1v39h-1zM238 254h3v32h-3zM243 222h1v74h-1zM242 222h3v32h-3zM251 224h1v52h-1zM250 228h3v32h-3zM255 172h1v61h-1zM254 173h3v56h-3zM259 80h1v100h-1zM258 87h3v87h-3zM271 109h1v26h-1zM270 112h3v17h-3zM275 84h1v53h-1zM274 85h3v15h-3zM291 182h1v42h-1zM290 202h3v9h-3zM299 175h1v44h-1zM298 178h3v26h-3zM307 152h1v67h-1zM306 165h3v26h-3zM315 164h1v34h-1zM314 187h3v7h-3zM319 179h1v11h-1zM318 181h3v7h-3zM331 200h1v35h-1zM330 217h3v11h-3zM355 190h1v63h-1zM354 194h3v51h-3zM359 182h1v23h-1zM358 185h3v10h-3zM371 188h1v27h-1zM370 204h3v7h-3zM375 154h1v55h-1zM374 170h3v35h-3zM387 192h1v24h-1zM386 196h3v19h-3zM391 191h1v8h-1zM390 194h3v3h-3zM411 194h1v51h-1zM410 195h3v50h-3zM427 181h1v36h-1zM426 185h3v30h-3zM439 237h1v8h-1zM438 238h3v7h-3zM443 210h1v37h-1zM442 214h3v22h-3zM451 197h1v24h-1zM450 198h3v22h-3zM459 193h1v25h-1zM458 198h3v2h-3zM463 192h1v8h-1zM462 194h3v5h-3zM475 231h1v25h-1zM474 244h3v7h-3zM479 230h1v22h-1zM478 234h3v11h-3zM483 209h1v31h-1zM482 215h3v19h-3zM507 266h1v28h-1zM506 269h3v13h-3zM527 337h1v20h-1zM526 345h3v6h-3zM535 361h1v9h-1zM534 365h3v4h-3zM543 351h1v34h-1zM542 366h3v13h-3zM551 328h1v67h-1zM550 333h3v44h-3zM555 306h1v36h-1zM554 325h3v9h-3zM559 311h1v17h-1zM558 318h3v7h-3zM571 324h1v22h-1zM570 330h3v3h-3zM575 320h1v23h-1zM574 325h3v5h-3zM579 318h1v19h-1zM578 321h3v4h-3zM583 318h1v7h-1zM582 321h3v1h-3zM595 323h1v23h-1zM594 324h3v22h-3zM599 305h1v21h-1zM598 307h3v15h-3zM603 293h1v23h-1zM602 298h3v10h-3zM611 296h1v15h-1zM610 300h3v3h-3zM623 317h1v16h-1zM622 324h3v4h-3zM639 320h1v22h-1zM638 321h3v17h-3zM647 326h1v25h-1zM646 329h3v9h-3zM651 314h1v18h-1zM650 324h3v5h-3zM663 311h1v23h-1zM662 321h3v9h-3zM671 336h1v12h-1zM670 338h3v5h-3zM675 326h1v15h-1zM674 330h3v8h-3zM679 327h1v4h-1zM678 328h3v2h-3zM699 361h1v25h-1zM698 366h3v15h-3zM715 376h1v13h-1zM714 380h3v3h-3zM719 359h1v31h-1zM718 363h3v18h-3zM731 360h1v15h-1zM730 371h3v3h-3zM743 392h1v20h-1zM742 402h3v8h-3zM747 373h1v33h-1zM746 375h3v28h-3zM771 406h1v17h-1zM770 410h3v11h-3zM775 409h1v4h-1zM774 410h3v2h-3zM791 412h1v20h-1zM790 429h3v2h-3zM795 415h1v20h-1zM794 423h3v7h-3zM803 417h1v24h-1zM802 419h3v12h-3zM831 455h1v21h-1zM830 463h3v3h-3zM835 450h1v14h-1zM834 459h3v5h-3zM839 433h1v33h-1zM838 440h3v20h-3zM851 446h1v12h-1zM850 453h3v3h-3zM855 423h1v30h-1zM854 425h3v28h-3zM867 423h1v14h-1zM866 427h3v6h-3zM871 422h1v7h-1zM870 425h3v3h-3zM879 423h1v17h-1zM878 423h3v7h-3zM887 412h1v31h-1zM886 422h3v12h-3zM895 421h1v10h-1zM894 425h3v5h-3zM899 393h1v39h-1zM898 399h3v24h-3zM903 387h1v16h-1zM902 395h3v5h-3zM907 380h1v20h-1zM906 380h3v16h-3zM915 369h1v24h-1zM914 370h3v10h-3zM927 370h1v16h-1zM926 370h3v9h-3zM939 390h1v17h-1zM938 393h3v8h-3zM951 402h1v12h-1zM950 404h3v3h-3zM955 388h1v23h-1zM954 401h3v4h-3zM967 439h1v6h-1zM966 440h3v5h-3zM975 436h1v14h-1zM974 437h3v9h-3zM979 434h1v12h-1zM978 438h3v4h-3zM983 408h1v32h-1zM982 412h3v27h-3zM1003 439h1v16h-1zM1002 441h3v4h-3zM1007 429h1v18h-1zM1006 440h3v2h-3zM1011 435h1v12h-1zM1010 439h3v1h-3zM1019 419h1v21h-1zM1018 420h3v16h-3zM1027 390h1v47h-1zM1026 393h3v42h-3zM1031 375h1v30h-1zM1030 382h3v11h-3zM1051 398h1v53h-1zM1050 440h3v8h-3zM1059 450h1v19h-1zM1058 466h3v2h-3zM1071 461h1v24h-1zM1070 471h3v13h-3zM1075 455h1v24h-1zM1074 457h3v13h-3zM1079 439h1v23h-1zM1078 444h3v14h-3zM1083 431h1v20h-1zM1082 433h3v12h-3zM1095 446h1v13h-1zM1094 450h3v7h-3zM1103 443h1v23h-1zM1102 452h3v6h-3zM1111 450h1v10h-1zM1110 450h3v8h-3zM1115 446h1v18h-1zM1114 450h3v2h-3zM1127 468h1v11h-1zM1126 469h3v2h-3zM1135 476h1v5h-1zM1134 478h3v3h-3zM1143 472h1v18h-1zM1142 483h3v2h-3zM1163 516h1v18h-1zM1162 522h3v8h-3zM1171 518h1v15h-1zM1170 524h3v4h-3zM1179 527h1v21h-1zM1178 531h3v16h-3zM1187 531h1v15h-1zM1186 532h3v7h-3zM1195 534h1v20h-1zM1194 535h3v7h-3zM1203 529h1v19h-1zM1202 530h3v16h-3zM1207 525h1v8h-1zM1206 528h3v4h-3zM1211 485h1v43h-1zM1210 507h3v21h-3zM1215 491h1v29h-1zM1214 492h3v16h-3zM1227 513h1v9h-1zM1226 513h3v2h-3zM1231 506h1v16h-1zM1230 508h3v5h-3zM1251 539h1v21h-1zM1250 540h3v3h-3zM1255 524h1v20h-1zM1254 540h3v2h-3zM1263 541h1v20h-1zM1262 545h3v7h-3z"/>
<path fill="#0000cd" d="M3 434h1v1h-1zM4 435h1v1h-1zM5 435h1v1h-1zM6 436h1v1h-1zM7 436h1v1h-1zM8 437h1v1h-1zM9 438h1v1h-1zM10 438h1v1h-1zM11 439h1v1h-1zM12 440h1v1h-1zM13 440h1v1h-1zM14 441h1v1h-1zM15 441h1v1h-1zM16 442h1v1h-1zM17 442h1v1h-1zM18 443h1v1h-1zM19 443h1v1h-1zM20 443h1v1h-1zM21 444h1v1h-1zM22 444h1v1h-1zM23 444h1v1h-1zM24 445h1v1h-1zM25 445h1v1h-1zM26 446h1v1h-1zM27 446h1v1h-1zM28 446h1v1h-1zM29 447h1v1h-1zM30 447h1v1h-1zM31 447h1v1h-1zM32 448h1v1h-1zM33 448h1v1h-1zM34 449h1v1h-1zM35 449h1v1h-1zM36 449h1v1h-1zM37 450h1v1h-1zM38 450h1v1h-1zM39 450h1v1h-1zM40 451h1v1h-1zM41 451h1v1h-1zM42 452h1v1h-1zM43 452h1v1h-1zM44 452h1v1h-1zM45 453h1v1h-1zM46 453h1v1h-1zM47 453h1v1h-1zM48 453h1v1h-1zM49 454h1v1h-1zM50 454h1v1h-1zM51 454h1v1h-1zM52 454h1v1h-1zM53 455h1v1h-1zM54 455h1v1h-1zM55 455h1v1h-1zM56 455h1v1h-1zM57 456h1v1h-1zM58 456h1v1h-1zM59 456h1v1h-1zM60 456h1v1h-1zM61 457h1v1h-1zM62 457h1v1h-1zM63 457h1v1h-1zM64 457h1v1h-1zM65 457h1v1h-1zM66 457h1v1h-1zM67 457h1v1h-1zM68 457h1v1h-1zM69 457h1v1h-1zM70 457h1v1h-1zM71 457h1v1h-1zM72 457h1v1h-1zM73 457h1v1h-1zM74 457h1v1h-1zM75 457h1v1h-1zM76 457h1v1h-1zM77 457h1v1h-1zM78 457h1v1h-1zM79 457h1v1h-1zM80 457h1v1h-1zM81 457h1v1h-1zM82 457h1v1h-1zM83 457h1v1h-1zM84 457h1v1h-1zM85 457h1v1h-1zM86 457h1v1h-1zM87 457h1v1h-1zM88 457h1v1h-1zM89 457h1v1h-1zM90 457h1v1h-1zM91 457h1v1h-1zM92 457h1v1h-1zM93 457h1v1h-1zM94 456h1v1h-1zM95 456h1v1h-1zM96 456h1v1h-1zM97 456h1v1h-1zM98 455h1v1h-1zM99 455h1v1h-1zM100 455h1v1h-1zM101 454h1v1h-1zM102 454h1v1h-1zM103 453h1v1h-1zM104 453h1v1h-1zM105 453h1v1h-1zM106 452h1v1h-1zM107 452h1v1h-1zM108 451h1v1h-1zM109 451h1v1h-1zM110 450h1v1h-1zM111 449h1v1h-1zM112 449h1v1h-1zM113 448h1v1h-1zM114 448h1v1h-1zM115 447h1v1h-1zM116 446h1v1h-1zM117 446h1v1h-1zM118 445h1v1h-1zM119 444h1v1h-1zM120 443h1v1h-1zM121 443h1v1h-1zM122 442h1v1h-1zM123 441h1v1h-1zM124 441h1v1h-1zM125 440h1v1h-1zM126 440h1v1h-1zM127 439h1v1h-1zM128 438h1v1h-1zM129 438h1v1h-1zM130 437h1v1h-1zM131 436h1v1h-1zM132 435h1v1h-1zM133 435h1v1h-1zM134 434h1v1h-1zM135 433h1v1h-1zM136 433h1v1h-1zM137 432h1v1h-1zM138 432h1v1h-1zM139 431h1v1h-1zM140 431h1v1h-1zM141 431h1v1h-1zM142 430h1v1h-1zM143 430h1v1h-1zM144 430h1v1h-1zM145 429h1v1h-1zM146 429h1v1h-1zM147 428h1v1h-1zM148 428h1v1h-1zM149 428h1v1h-1zM150 427h1v1h-1zM151 427h1v1h-1zM152 427h1v1h-1zM153 426h1v1h-1zM154 426h1v1h-1zM155 425h1v1h-1zM156 425h1v1h-1zM157 424h1v1h-1zM158 424h1v1h-1zM159 423h1v1h-1zM160 423h1v1h-1zM161 423h1v1h-1zM162 422h1v1h-1zM163 422h1v1h-1zM164 422h1v1h-1zM165 421h1v1h-1zM166 421h1v1h-1zM167 420h1v1h-1zM168 420h1v1h-1zM169 420h1v1h-1zM170 419h1v1h-1zM171 419h1v1h-1zM172 419h1v1h-1zM173 419h1v1h-1zM174 418h1v1h-1zM175 418h1v1h-1zM176 418h1v1h-1zM177 417h1v1h-1zM178 417h1v1h-1zM179 416h1v1h-1zM180 416h1v1h-1zM181 415h1v1h-1zM182 415h1v1h-1zM183 414h1v1h-1zM184 414h1v1h-1zM185 413h1v1h-1zM186 413h1v1h-1zM187 412h1v1h-1zM188 412h1v1h-1zM189 412h1v1h-1zM190 411h1v1h-1zM191 411h1v1h-1zM192 410h1v1h-1zM193 410h1v1h-1zM194 409h1v1h-1zM195 408h1v1h-1zM196 408h1v1h-1zM197 407h1v1h-1zM198 407h1v1h-1zM199 406h1v1h-1zM200 406h1v1h-1zM201 405h1v1h-1zM202 405h1v1h-1zM203 404h1v1h-1zM204 404h1v1h-1zM205 404h1v1h-1zM206 403h1v1h-1zM207 403h1v1h-1zM208 403h1v1h-1zM209 402h1v1h-1zM210 402h1v1h-1zM211 401h1v1h-1zM212 401h1v1h-1zM213 401h1v1h-1zM214 400h1v1h-1zM215 400h1v1h-1zM216 400h1v1h-1zM217 399h1v1h-1zM218 399h1v1h-1zM219 398h1v1h-1zM220 398h1v1h-1zM221 398h1v1h-1zM222 397h1v1h-1zM223 397h1v1h-1zM224 396h1v1h-1zM225 396h1v1h-1zM226 395h1v1h-1zM227 394h1v1h-1zM228 393h1v1h-1zM229 392h1v1h-1zM230 391h1v1h-1zM231 390h1v1h-1zM232 389h1v1h-1zM233 388h1v1h-1zM234 387h1v1h-1zM235 386h1v1h-1zM236 385h1v1h-1zM237 384h1v1h-1zM238 383h1v1h-1zM239 382h1v1h-1zM240 380h1v2h-1zM241 379h1v1h-1zM242 377h1v2h-1zM243 376h1v1h-1zM244 374h1v2h-1zM245 373h1v1h-1zM246 371h1v2h-1zM247 370h1v1h-1zM248 369h1v1h-1zM249 367h1v2h-1zM250 366h1v1h-1zM251 365h1v1h-1zM252 363h1v2h-1zM253 361h1v2h-1zM254 359h1v2h-1zM255 356h1v3h-1zM256 354h1v2h-1zM257 351h1v3h-1zM258 349h1v2h-1zM259 346h1v3h-1zM260 344h1v2h-1zM261 341h1v3h-1zM262 339h1v2h-1zM263 336h1v3h-1zM264 334h1v2h-1zM265 331h1v3h-1zM266 329h1v2h-1zM267 326h1v3h-1zM268 324h1v2h-1zM269 321h1v3h-1zM270 319h1v2h-1zM271 316h1v3h-1zM272 313h1v3h-1zM273 311h1v2h-1zM274 308h1v3h-1zM275 305h1v3h-1zM276 303h1v2h-1zM277 300h1v3h-1zM278 298h1v2h-1zM279 295h1v3h-1zM280 293h1v2h-1zM281 291h1v2h-1zM282 289h1v2h-1zM283 287h1v2h-1zM284 285h1v2h-1zM285 283h1v2h-1zM286 281h1v2h-1zM287 280h1v1h-1zM288 278h1v2h-1zM289 276h1v2h-1zM290 274h1v2h-1zM291 273h1v1h-1zM292 271h1v2h-1zM293 269h1v2h-1zM294 267h1v2h-1zM295 266h1v1h-1zM296 264h1v2h-1zM297 262h1v2h-1zM298 260h1v2h-1zM299 259h1v1h-1zM300 257h1v2h-1zM301 255h1v2h-1zM302 253h1v2h-1zM303 252h1v1h-1zM304 250h1v2h-1zM305 248h1v2h-1zM306 246h1v2h-1zM307 244h1v2h-1zM308 242h1v2h-1zM309 241h1v1h-1zM310 239h1v2h-1zM311 238h1v1h-1zM312 236h1v2h-1zM313 235h1v1h-1zM314 233h1v2h-1zM315 232h1v1h-1zM316 230h1v2h-1zM317 228h1v2h-1zM318 226h1v2h-1zM319 225h1v1h-1zM320 223h1v2h-1zM321 222h1v1h-1zM322 220h1v2h-1zM323 219h1v1h-1zM324 218h1v1h-1zM325 216h1v2h-1zM326 215h1v1h-1zM327 214h1v1h-1zM328 212h1v2h-1zM329 211h1v1h-1zM330 209h1v2h-1zM331 208h1v1h-1zM332 207h1v1h-1zM333 205h1v2h-1zM334 204h1v1h-1zM335 203h1v1h-1zM336 202h1v1h-1zM337 201h1v1h-1zM338 200h1v1h-1zM339 199h1v1h-1zM340 198h1v1h-1zM341 196h1v2h-1zM342 195h1v1h-1zM343 194h1v1h-1zM344 193h1v1h-1zM345 193h1v1h-1zM346 192h1v1h-1zM347 191h1v1h-1zM348 191h1v1h-1zM349 191h1v1h-1zM350 190h1v1h-1zM351 190h1v1h-1zM352 189h1v1h-1zM353 189h1v1h-1zM354 188h1v1h-1zM355 187h1v1h-1zM356 186h1v1h-1zM357 186h1v1h-1zM358 185h1v1h-1zM359 184h1v1h-1zM360 184h1v1h-1zM361 184h1v1h-1zM362 184h1v1h-1zM363 184h1v1h-1zM364 184h1v1h-1zM365 184h1v1h-1zM366 183h1v1h-1zM367 183h1v1h-1zM368 183h1v1h-1zM369 183h1v1h-1zM370 182h1v1h-1zM371 182h1v1h-1zM372 182h1v1h-1zM373 182h1v1h-1zM374 182h1v1h-1zM375 182h1v1h-1zM376 183h1v1h-1zM377 184h1v1h-1zM378 185h1v1h-1zM379 186h1v1h-1zM380 187h1v1h-1zM381 188h1v1h-1zM382 188h1v1h-1zM383 189h1v1h-1zM384 190h1v1h-1zM385 191h1v1h-1zM386 191h1v1h-1zM387 192h1v1h-1zM388 193h1v1h-1zM389 193h1v1h-1zM390 194h1v1h-1zM391 194h1v1h-1zM392 195h1v1h-1zM393 196h1v1h-1zM394 197h1v1h-1zM395 198h1v1h-1zM396 199h1v1h-1zM397 200h1v2h-1zM398 202h1v1h-1zM399 203h1v1h-1zM400 204h1v1h-1zM401 205h1v1h-1zM402 205h1v1h-1zM403 206h1v1h-1zM404 206h1v1h-1zM405 207h1v1h-1zM406 207h1v1h-1zM407 207h1v1h-1zM408 207h1v1h-1zM409 207h1v1h-1zM410 207h1v1h-1zM411 207h1v1h-1zM412 207h1v1h-1zM413 207h1v1h-1zM414 206h1v1h-1zM415 206h1v1h-1zM416 206h1v1h-1zM417 206h1v1h-1zM418 206h1v1h-1zM419 206h1v1h-1zM420 206h1v1h-1zM421 207h1v1h-1zM422 207h1v1h-1zM423 207h1v1h-1zM424 207h1v1h-1zM425 208h1v1h-1zM426 208h1v1h-1zM427 208h1v1h-1zM428 208h1v1h-1zM429 209h1v1h-1zM430 209h1v1h-1zM431 209h1v1h-1zM432 210h1v1h-1zM433 210h1v1h-1zM434 211h1v1h-1zM435 211h1v1h-1zM436 212h1v1h-1zM437 212h1v1h-1zM438 213h1v1h-1zM439 213h1v1h-1zM440 213h1v1h-1zM441 214h1v1h-1zM442 214h1v1h-1zM443 214h1v1h-1zM444 214h1v1h-1zM445 214h1v1h-1zM446 213h1v1h-1zM447 213h1v1h-1zM448 213h1v1h-1zM449 213h1v1h-1zM450 213h1v1h-1zM451 213h1v1h-1zM452 213h1v1h-1zM453 213h1v1h-1zM454 212h1v1h-1zM455 212h1v1h-1zM456 212h1v1h-1zM457 212h1v1h-1zM458 211h1v1h-1zM459 211h1v1h-1zM460 211h1v1h-1zM461 211h1v1h-1zM462 210h1v1h-1zM463 210h1v1h-1zM464 210h1v1h-1zM465 210h1v1h-1zM466 209h1v1h-1zM467 209h1v1h-1zM468 209h1v1h-1zM469 210h1v1h-1zM470 210h1v1h-1zM471 210h1v1h-1zM472 210h1v1h-1zM473 211h1v1h-1zM474 211h1v1h-1zM475 211h1v1h-1zM476 212h1v1h-1zM477 212h1v1h-1zM478 213h1v1h-1zM479 213h1v1h-1zM480 213h1v1h-1zM481 213h1v1h-1zM482 213h1v1h-1zM483 213h1v1h-1zM484 213h1v1h-1zM485 213h1v1h-1zM486 213h1v1h-1zM487 213h1v1h-1zM488 213h1v1h-1zM489 214h1v1h-1zM490 214h1v1h-1zM491 214h1v1h-1zM492 215h1v1h-1zM493 216h1v1h-1zM494 216h1v1h-1zM495 217h1v1h-1zM496 218h1v1h-1zM497 219h1v1h-1zM498 219h1v1h-1zM499 220h1v1h-1zM500 221h1v1h-1zM501 221h1v1h-1zM502 222h1v1h-1zM503 222h1v1h-1zM504 223h1v1h-1zM505 224h1v1h-1zM506 224h1v1h-1zM507 225h1v1h-1zM508 226h1v1h-1zM509 227h1v1h-1zM510 227h1v1h-1zM511 228h1v1h-1zM512 229h1v1h-1zM513 230h1v1h-1zM514 230h1v1h-1zM515 231h1v1h-1zM516 232h1v1h-1zM517 233h1v1h-1zM518 234h1v1h-1zM519 235h1v1h-1zM520 236h1v1h-1zM521 237h1v1h-1zM522 238h1v1h-1zM523 239h1v1h-1zM524 240h1v1h-1zM525 241h1v1h-1zM526 241h1v1h-1zM527 242h1v1h-1zM528 243h1v2h-1zM529 245h1v1h-1zM530 246h1v2h-1zM531 248h1v1h-1zM532 249h1v1h-1zM533 250h1v2h-1zM534 252h1v1h-1zM535 253h1v1h-1zM536 254h1v2h-1zM537 256h1v1h-1zM538 257h1v2h-1zM539 259h1v1h-1zM540 260h1v1h-1zM541 261h1v2h-1zM542 263h1v1h-1zM543 264h1v1h-1zM544 265h1v2h-1zM545 267h1v2h-1zM546 269h1v2h-1zM547 271h1v1h-1zM548 272h1v1h-1zM549 273h1v1h-1zM550 273h1v1h-1zM551 274h1v1h-1zM552 275h1v1h-1zM553 276h1v1h-1zM554 276h1v1h-1zM555 277h1v1h-1zM556 278h1v1h-1zM557 279h1v1h-1zM558 279h1v1h-1zM559 280h1v1h-1zM560 281h1v1h-1zM561 282h1v1h-1zM562 282h1v1h-1zM563 283h1v1h-1zM564 284h1v1h-1zM565 285h1v1h-1zM566 286h1v1h-1zM567 287h1v1h-1zM568 288h1v1h-1zM569 289h1v1h-1zM570 290h1v1h-1zM571 291h1v1h-1zM572 292h1v1h-1zM573 293h1v2h-1zM574 295h1v1h-1zM575 296h1v1h-1zM576 297h1v1h-1zM577 298h1v1h-1zM578 299h1v1h-1zM579 300h1v1h-1zM580 301h1v1h-1zM581 302h1v1h-1zM582 303h1v1h-1zM583 304h1v1h-1zM584 305h1v1h-1zM585 306h1v1h-1zM586 307h1v1h-1zM587 308h1v1h-1zM588 309h1v1h-1zM589 310h1v1h-1zM590 310h1v1h-1zM591 311h1v1h-1zM592 312h1v1h-1zM593 312h1v1h-1zM594 313h1v1h-1zM595 313h1v1h-1zM596 314h1v1h-1zM597 315h1v1h-1zM598 315h1v1h-1zM599 316h1v1h-1zM600 317h1v1h-1zM601 318h1v1h-1zM602 318h1v1h-1zM603 319h1v1h-1zM604 320h1v1h-1zM605 320h1v1h-1zM606 321h1v1h-1zM607 321h1v1h-1zM608 322h1v1h-1zM609 323h1v1h-1zM610 323h1v1h-1zM611 324h1v1h-1zM612 325h1v1h-1zM613 325h1v1h-1zM614 326h1v1h-1zM615 326h1v1h-1zM616 326h1v1h-1zM617 327h1v1h-1zM618 327h1v1h-1zM619 327h1v1h-1zM620 328h1v1h-1zM621 328h1v1h-1zM622 329h1v1h-1zM623 329h1v1h-1zM624 330h1v1h-1zM625 330h1v1h-1zM626 331h1v1h-1zM627 331h1v1h-1zM628 332h1v1h-1zM629 332h1v1h-1zM630 333h1v1h-1zM631 333h1v1h-1zM632 333h1v1h-1zM633 333h1v1h-1zM634 333h1v1h-1zM635 333h1v1h-1zM636 333h1v1h-1zM637 333h1v1h-1zM638 333h1v1h-1zM639 333h1v1h-1zM640 333h1v1h-1zM641 333h1v1h-1zM642 332h1v1h-1zM643 332h1v1h-1zM644 332h1v1h-1zM645 332h1v1h-1zM646 332h1v1h-1zM647 332h1v1h-1zM648 332h1v1h-1zM649 331h1v1h-1zM650 331h1v1h-1zM651 330h1v1h-1zM652 330h1v1h-1zM653 330h1v1h-1zM654 329h1v1h-1zM655 329h1v1h-1zM656 329h1v1h-1zM657 328h1v1h-1zM658 328h1v1h-1zM659 327h1v1h-1zM660 327h1v1h-1zM661 327h1v1h-1zM662 326h1v1h-1zM663 326h1v1h-1zM664 326h1v1h-1zM665 326h1v1h-1zM666 325h1v1h-1zM667 325h1v1h-1zM668 325h1v1h-1zM669 325h1v1h-1zM670 325h1v1h-1zM671 325h1v1h-1zM672 325h1v1h-1zM673 325h1v1h-1zM674 325h1v1h-1zM675 325h1v1h-1zM676 325h1v1h-1zM677 325h1v1h-1zM678 325h1v1h-1zM679 325h1v1h-1zM680 325h1v1h-1zM681 326h1v1h-1zM682 326h1v1h-1zM683 326h1v1h-1zM684 326h1v1h-1zM685 327h1v1h-1zM686 327h1v1h-1zM687 327h1v1h-1zM688 327h1v1h-1zM689 328h1v1h-1zM690 328h1v1h-1zM691 328h1v1h-1zM692 329h1v1h-1zM693 329h1v1h-1zM694 330h1v1h-1zM695 330h1v1h-1zM696 331h1v1h-1zM697 331h1v1h-1zM698 332h1v1h-1zM699 332h1v1h-1zM700 332h1v1h-1zM701 333h1v1h-1zM702 333h1v1h-1zM703 333h1v1h-1zM704 334h1v1h-1zM705 334h1v1h-1zM706 335h1v1h-1zM707 335h1v1h-1zM708 335h1v1h-1zM709 336h1v1h-1zM710 336h1v1h-1zM711 336h1v1h-1zM712 337h1v1h-1zM713 337h1v1h-1zM714 338h1v1h-1zM715 338h1v1h-1zM716 339h1v1h-1zM717 339h1v1h-1zM718 340h1v1h-1zM719 340h1v1h-1zM720 341h1v1h-1zM721 341h1v1h-1zM722 342h1v1h-1zM723 342h1v1h-1zM724 343h1v1h-1zM725 343h1v1h-1zM726 344h1v1h-1zM727 344h1v1h-1zM728 345h1v1h-1zM729 346h1v1h-1zM730 346h1v1h-1zM731 347h1v1h-1zM732 348h1v1h-1zM733 348h1v1h-1zM734 349h1v1h-1zM735 349h1v1h-1zM736 350h1v1h-1zM737 351h1v1h-1zM738 351h1v1h-1zM739 352h1v1h-1zM740 353h1v1h-1zM741 353h1v1h-1zM742 354h1v1h-1zM743 354h1v1h-1zM744 355h1v1h-1zM745 355h1v1h-1zM746 356h1v1h-1zM747 356h1v1h-1zM748 356h1v1h-1zM749 357h1v1h-1zM750 357h1v1h-1zM751 357h1v1h-1zM752 358h1v1h-1zM753 358h1v1h-1zM754 359h1v1h-1zM755 359h1v1h-1zM756 360h1v1h-1zM757 360h1v1h-1zM758 361h1v1h-1zM759 361h1v1h-1zM760 362h1v1h-1zM761 363h1v1h-1zM762 363h1v1h-1zM763 364h1v1h-1zM764 365h1v1h-1zM765 366h1v1h-1zM766 366h1v1h-1zM767 367h1v1h-1zM768 368h1v1h-1zM769 369h1v1h-1zM770 369h1v1h-1zM771 370h1v1h-1zM772 371h1v1h-1zM773 372h1v1h-1zM774 372h1v1h-1zM775 373h1v1h-1zM776 374h1v1h-1zM777 375h1v1h-1zM778 375h1v1h-1zM779 376h1v1h-1zM780 377h1v1h-1zM781 378h1v1h-1zM782 378h1v1h-1zM783 379h1v1h-1zM784 380h1v1h-1zM785 381h1v1h-1zM786 381h1v1h-1zM787 382h1v1h-1zM788 383h1v1h-1zM789 384h1v1h-1zM790 384h1v1h-1zM791 385h1v1h-1zM792 386h1v1h-1zM793 387h1v1h-1zM794 387h1v1h-1zM795 388h1v1h-1zM796 389h1v1h-1zM797 390h1v1h-1zM798 391h1v1h-1zM799 392h1v1h-1zM800 393h1v1h-1zM801 393h1v1h-1zM802 394h1v1h-1zM803 394h1v1h-1zM804 395h1v1h-1zM805 395h1v1h-1zM806 396h1v1h-1zM807 396h1v1h-1zM808 397h1v1h-1zM809 398h1v1h-1zM810 398h1v1h-1zM811 399h1v1h-1zM812 400h1v1h-1zM813 400h1v1h-1zM814 401h1v1h-1zM815 401h1v1h-1zM816 402h1v1h-1zM817 402h1v1h-1zM818 403h1v1h-1zM819 403h1v1h-1zM820 404h1v1h-1zM821 405h1v1h-1zM822 405h1v1h-1zM823 406h1v1h-1zM824 407h1v1h-1zM825 408h1v1h-1zM826 408h1v1h-1zM827 409h1v1h-1zM828 410h1v1h-1zM829 411h1v1h-1zM830 411h1v1h-1zM831 412h1v1h-1zM832 413h1v1h-1zM833 413h1v1h-1zM834 414h1v1h-1zM835 414h1v1h-1zM836 415h1v1h-1zM837 416h1v1h-1zM838 416h1v1h-1zM839 417h1v1h-1zM840 418h1v1h-1zM841 418h1v1h-1zM842 419h1v1h-1zM843 419h1v1h-1zM844 420h1v1h-1zM845 421h1v1h-1zM846 421h1v1h-1zM847 422h1v1h-1zM848 423h1v1h-1zM849 424h1v1h-1zM850 424h1v1h-1zM851 425h1v1h-1zM852 426h1v1h-1zM853 426h1v1h-1zM854 427h1v1h-1zM855 427h1v1h-1zM856 427h1v1h-1zM857 427h1v1h-1zM858 427h1v1h-1zM859 427h1v1h-1zM860 427h1v1h-1zM861 428h1v1h-1zM862 428h1v1h-1zM863 428h1v1h-1zM864 429h1v1h-1zM865 429h1v1h-1zM866 430h1v1h-1zM867 430h1v1h-1zM868 431h1v1h-1zM869 431h1v1h-1zM870 432h1v1h-1zM871 432h1v1h-1zM872 432h1v1h-1zM873 433h1v1h-1zM874 433h1v1h-1zM875 433h1v1h-1zM876 433h1v1h-1zM877 434h1v1h-1zM878 434h1v1h-1zM879 434h1v1h-1zM880 434h1v1h-1zM881 435h1v1h-1zM882 435h1v1h-1zM883 435h1v1h-1zM884 435h1v1h-1zM885 435h1v1h-1zM886 435h1v1h-1zM887 435h1v1h-1zM888 435h1v1h-1zM889 435h1v1h-1zM890 435h1v1h-1zM891 435h1v1h-1zM892 435h1v1h-1zM893 436h1v1h-1zM894 436h1v1h-1zM895 436h1v1h-1zM896 436h1v1h-1zM897 436h1v1h-1zM898 435h1v1h-1zM899 435h1v1h-1zM900 435h1v1h-1zM901 435h1v1h-1zM902 434h1v1h-1zM903 434h1v1h-1zM904 434h1v1h-1zM905 433h1v1h-1zM906 433h1v1h-1zM907 432h1v1h-1zM908 432h1v1h-1zM909 432h1v1h-1zM910 431h1v1h-1zM911 431h1v1h-1zM912 431h1v1h-1zM913 430h1v1h-1zM914 430h1v1h-1zM915 429h1v1h-1zM916 429h1v1h-1zM917 428h1v1h-1zM918 428h1v1h-1zM919 427h1v1h-1zM920 427h1v1h-1zM921 427h1v1h-1zM922 426h1v1h-1zM923 426h1v1h-1zM924 426h1v1h-1zM925 425h1v1h-1zM926 425h1v1h-1zM927 424h1v1h-1zM928 424h1v1h-1zM929 424h1v1h-1zM930 423h1v1h-1zM931 423h1v1h-1zM932 423h1v1h-1zM933 422h1v1h-1zM934 422h1v1h-1zM935 421h1v1h-1zM936 421h1v1h-1zM937 420h1v1h-1zM938 420h1v1h-1zM939 419h1v1h-1zM940 419h1v1h-1zM941 418h1v1h-1zM942 418h1v1h-1zM943 417h1v1h-1zM944 417h1v1h-1zM945 416h1v1h-1zM946 416h1v1h-1zM947 415h1v1h-1zM948 415h1v1h-1zM949 414h1v1h-1zM950 414h1v1h-1zM951 413h1v1h-1zM952 413h1v1h-1zM953 413h1v1h-1zM954 412h1v1h-1zM955 412h1v1h-1zM956 412h1v1h-1zM957 412h1v1h-1zM958 411h1v1h-1zM959 411h1v1h-1zM960 411h1v1h-1zM961 411h1v1h-1zM962 411h1v1h-1zM963 411h1v1h-1zM964 411h1v1h-1zM965 411h1v1h-1zM966 410h1v1h-1zM967 410h1v1h-1zM968 410h1v1h-1zM969 410h1v1h-1zM970 410h1v1h-1zM971 410h1v1h-1zM972 410h1v1h-1zM973 410h1v1h-1zM974 410h1v1h-1zM975 410h1v1h-1zM976 410h1v1h-1zM977 410h1v1h-1zM978 410h1v1h-1zM979 410h1v1h-1zM980 410h1v1h-1zM981 410h1v1h-1zM982 409h1v1h-1zM983 409h1v1h-1zM984 409h1v1h-1zM985 409h1v1h-1zM986 409h1v1h-1zM987 409h1v1h-1zM988 409h1v1h-1zM989 409h1v1h-1zM990 409h1v1h-1zM991 409h1v1h-1zM992 409h1v1h-1zM993 410h1v1h-1zM994 410h1v1h-1zM995 410h1v1h-1zM996 410h1v1h-1zM997 410h1v1h-1zM998 410h1v1h-1zM999 410h1v1h-1zM1000 410h1v1h-1zM1001 411h1v1h-1zM1002 411h1v1h-1zM1003 411h1v1h-1zM1004 411h1v1h-1zM1005 411h1v1h-1zM1006 411h1v1h-1zM1007 411h1v1h-1zM1008 411h1v1h-1zM1009 412h1v1h-1zM1010 412h1v1h-1zM1011 412h1v1h-1zM1012 412h1v1h-1zM1013 412h1v1h-1zM1014 412h1v1h-1zM1015 412h1v1h-1zM1016 412h1v1h-1zM1017 413h1v1h-1zM1018 413h1v1h-1zM1019 413h1v1h-1zM1020 413h1v1h-1zM1021 414h1v1h-1zM1022 414h1v1h-1zM1023 414h1v1h-1zM1024 414h1v1h-1zM1025 415h1v1h-1zM1026 415h1v1h-1zM1027 415h1v1h-1zM1028 415h1v1h-1zM1029 415h1v1h-1zM1030 415h1v1h-1zM1031 415h1v1h-1zM1032 415h1v1h-1zM1033 415h1v1h-1zM1034 415h1v1h-1zM1035 415h1v1h-1zM1036 415h1v1h-1zM1037 416h1v1h-1zM1038 416h1v1h-1zM1039 416h1v1h-1zM1040 416h1v1h-1zM1041 417h1v1h-1zM1042 417h1v1h-1zM1043 417h1v1h-1zM1044 418h1v1h-1zM1045 418h1v1h-1zM1046 419h1v1h-1zM1047 419h1v1h-1zM1048 420h1v1h-1zM1049 420h1v1h-1zM1050 421h1v1h-1zM1051 421h1v1h-1zM1052 422h1v1h-1zM1053 422h1v1h-1zM1054 423h1v1h-1zM1055 423h1v1h-1zM1056 424h1v1h-1zM1057 425h1v1h-1zM1058 425h1v1h-1zM1059 426h1v1h-1zM1060 427h1v1h-1zM1061 427h1v1h-1zM1062 428h1v1h-1zM1063 428h1v1h-1zM1064 429h1v1h-1zM1065 429h1v1h-1zM1066 430h1v1h-1zM1067 430h1v1h-1zM1068 431h1v1h-1zM1069 432h1v1h-1zM1070 432h1v1h-1zM1071 433h1v1h-1zM1072 434h1v1h-1zM1073 434h1v1h-1zM1074 435h1v1h-1zM1075 435h1v1h-1zM1076 435h1v1h-1zM1077 435h1v1h-1zM1078 435h1v1h-1zM1079 435h1v1h-1zM1080 435h1v1h-1zM1081 435h1v1h-1zM1082 435h1v1h-1zM1083 435h1v1h-1zM1084 435h1v1h-1zM1085 435h1v1h-1zM1086 435h1v1h-1zM1087 435h1v1h-1zM1088 435h1v1h-1zM1089 435h1v1h-1zM1090 435h1v1h-1zM1091 435h1v1h-1zM1092 435h1v1h-1zM1093 436h1v1h-1zM1094 436h1v1h-1zM1095 436h1v1h-1zM1096 436h1v1h-1zM1097 436h1v1h-1zM1098 436h1v1h-1zM1099 436h1v1h-1zM1100 437h1v1h-1zM1101 437h1v1h-1zM1102 438h1v1h-1zM1103 438h1v1h-1zM1104 438h1v1h-1zM1105 439h1v1h-1zM1106 439h1v1h-1zM1107 439h1v1h-1zM1108 439h1v1h-1zM1109 440h1v1h-1zM1110 440h1v1h-1zM1111 440h1v1h-1zM1112 440h1v1h-1zM1113 440h1v1h-1zM1114 440h1v1h-1zM1115 440h1v1h-1zM1116 440h1v1h-1zM1117 441h1v1h-1zM1118 441h1v1h-1zM1119 441h1v1h-1zM1120 441h1v1h-1zM1121 442h1v1h-1zM1122 442h1v1h-1zM1123 442h1v1h-1zM1124 442h1v1h-1zM1125 443h1v1h-1zM1126 443h1v1h-1zM1127 443h1v1h-1zM1128 443h1v1h-1zM1129 444h1v1h-1zM1130 444h1v1h-1zM1131 444h1v1h-1zM1132 444h1v1h-1zM1133 445h1v1h-1zM1134 445h1v1h-1zM1135 445h1v1h-1zM1136 446h1v1h-1zM1137 446h1v1h-1zM1138 447h1v1h-1zM1139 447h1v1h-1zM1140 448h1v1h-1zM1141 448h1v1h-1zM1142 449h1v1h-1zM1143 449h1v1h-1zM1144 450h1v1h-1zM1145 451h1v1h-1zM1146 451h1v1h-1zM1147 452h1v1h-1zM1148 453h1v1h-1zM1149 454h1v1h-1zM1150 455h1v1h-1zM1151 456h1v1h-1zM1152 457h1v1h-1zM1153 458h1v2h-1zM1154 460h1v1h-1zM1155 461h1v1h-1zM1156 462h1v1h-1zM1157 463h1v1h-1zM1158 464h1v1h-1zM1159 465h1v1h-1zM1160 466h1v1h-1zM1161 467h1v1h-1zM1162 468h1v1h-1zM1163 469h1v1h-1zM1164 470h1v1h-1zM1165 471h1v1h-1zM1166 471h1v1h-1zM1167 472h1v1h-1zM1168 473h1v1h-1zM1169 474h1v1h-1zM1170 474h1v1h-1zM1171 475h1v1h-1zM1172 476h1v1h-1zM1173 477h1v1h-1zM1174 477h1v1h-1zM1175 478h1v1h-1zM1176 479h1v1h-1zM1177 479h1v1h-1zM1178 480h1v1h-1zM1179 480h1v1h-1zM1180 481h1v1h-1zM1181 481h1v1h-1zM1182 482h1v1h-1zM1183 482h1v1h-1zM1184 482h1v1h-1zM1185 483h1v1h-1zM1186 483h1v1h-1zM1187 483h1v1h-1zM1188 484h1v1h-1zM1189 485h1v1h-1zM1190 485h1v1h-1zM1191 486h1v1h-1zM1192 487h1v1h-1zM1193 487h1v1h-1zM1194 488h1v1h-1zM1195 488h1v1h-1zM1196 489h1v1h-1zM1197 490h1v1h-1zM1198 491h1v1h-1zM1199 492h1v1h-1zM1200 493h1v1h-1zM1201 494h1v1h-1zM1202 494h1v1h-1zM1203 495h1v1h-1zM1204 496h1v1h-1zM1205 497h1v1h-1zM1206 497h1v1h-1zM1207 498h1v1h-1zM1208 499h1v1h-1zM1209 499h1v1h-1zM1210 500h1v1h-1zM1211 500h1v1h-1zM1212 500h1v1h-1zM1213 501h1v1h-1zM1214 501h1v1h-1zM1215 501h1v1h-1zM1216 502h1v1h-1zM1217 502h1v1h-1zM1218 503h1v1h-1zM1219 503h1v1h-1zM1220 504h1v1h-1zM1221 504h1v1h-1zM1222 505h1v1h-1zM1223 505h1v1h-1zM1224 506h1v1h-1zM1225 506h1v1h-1zM1226 507h1v1h-1zM1227 507h1v1h-1zM1228 508h1v1h-1zM1229 508h1v1h-1zM1230 509h1v1h-1zM1231 509h1v1h-1zM1232 510h1v1h-1zM1233 510h1v1h-1zM1234 511h1v1h-1zM1235 511h1v1h-1zM1236 512h1v1h-1zM1237 512h1v1h-1zM1238 513h1v1h-1zM1239 513h1v1h-1zM1240 514h1v1h-1zM1241 515h1v1h-1zM1242 515h1v1h-1zM1243 516h1v1h-1zM1244 517h1v1h-1zM1245 517h1v1h-1zM1246 518h1v1h-1zM1247 518h1v1h-1zM1248 519h1v1h-1zM1249 519h1v1h-1zM1250 520h1v1h-1zM1251 520h1v1h-1zM1252 521h1v1h-1zM1253 521h1v1h-1zM1254 522h1v1h-1zM1255 522h1v1h-1zM1256 523h1v1h-1zM1257 524h1v1h-1zM1258 524h1v1h-1zM1259 525h1v1h-1zM1260 526h1v1h-1zM1261 526h1v1h-1zM1262 527h1v1h-1zM1263 527h1v1h-1zM1264 528h1v1h-1zM1265 528h1v1h-1zM1266 529h1v1h-1zM1267 529h1v1h-1z"/>
<path fill="#ff0000" d="M3 452h1v1h-1zM4 453h1v1h-1zM5 454h1v1h-1zM6 454h1v1h-1zM7 455h1v1h-1zM8 456h1v1h-1zM9 457h1v1h-1zM10 457h1v1h-1zM11 458h1v1h-1zM12 459h1v1h-1zM13 460h1v1h-1zM14 460h1v1h-1zM15 461h1v1h-1zM16 462h1v1h-1zM17 462h1v1h-1zM18 463h1v1h-1zM19 463h1v1h-1zM20 463h1v1h-1zM21 464h1v1h-1zM22 464h1v1h-1zM23 464h1v1h-1zM24 465h1v1h-1zM25 465h1v1h-1zM26 466h1v1h-1zM27 466h1v1h-1zM28 466h1v1h-1zM29 467h1v1h-1zM30 467h1v1h-1zM31 467h1v1h-1zM32 467h1v1h-1zM33 468h1v1h-1zM34 468h1v1h-1zM35 468h1v1h-1zM36 468h1v1h-1zM37 468h1v1h-1zM38 468h1v1h-1zM39 468h1v1h-1zM40 468h1v1h-1zM41 468h1v1h-1zM42 468h1v1h-1zM43 468h1v1h-1zM44 468h1v1h-1zM45 468h1v1h-1zM46 468h1v1h-1zM47 468h1v1h-1zM48 468h1v1h-1zM49 467h1v1h-1zM50 467h1v1h-1zM51 466h1v1h-1zM52 466h1v1h-1zM53 465h1v1h-1zM54 465h1v1h-1zM55 464h1v1h-1zM56 464h1v1h-1zM57 464h1v1h-1zM58 463h1v1h-1zM59 463h1v1h-1zM60 463h1v1h-1zM61 463h1v1h-1zM62 462h1v1h-1zM63 462h1v1h-1zM64 461h1v1h-1zM65 461h1v1h-1zM66 460h1v1h-1zM67 459h1v1h-1zM68 459h1v1h-1zM69 458h1v1h-1zM70 458h1v1h-1zM71 457h1v1h-1zM72 457h1v1h-1zM73 456h1v1h-1zM74 456h1v1h-1zM75 455h1v1h-1zM76 455h1v1h-1zM77 455h1v1h-1zM78 454h1v1h-1zM79 454h1v1h-1zM80 454h1v1h-1zM81 453h1v1h-1zM82 453h1v1h-1zM83 452h1v1h-1zM84 452h1v1h-1zM85 451h1v1h-1zM86 451h1v1h-1zM87 450h1v1h-1zM88 449h1v1h-1zM89 449h1v1h-1zM90 448h1v1h-1zM91 447h1v1h-1zM92 446h1v1h-1zM93 446h1v1h-1zM94 445h1v1h-1zM95 444h1v1h-1zM96 443h1v1h-1zM97 443h1v1h-1zM98 442h1v1h-1zM99 441h1v1h-1zM100 440h1v1h-1zM101 439h1v1h-1zM102 438h1v1h-1zM103 437h1v1h-1zM104 436h1v1h-1zM105 435h1v1h-1zM106 434h1v1h-1zM107 433h1v1h-1zM108 432h1v1h-1zM109 432h1v1h-1zM110 431h1v1h-1zM111 430h1v1h-1zM112 429h1v1h-1zM113 427h1v2h-1zM114 426h1v1h-1zM115 425h1v1h-1zM116 424h1v1h-1zM117 423h1v1h-1zM118 422h1v1h-1zM119 421h1v1h-1zM120 420h1v1h-1zM121 420h1v1h-1zM122 419h1v1h-1zM123 418h1v1h-1zM124 417h1v1h-1zM125 417h1v1h-1zM126 416h1v1h-1zM127 415h1v1h-1zM128 414h1v1h-1zM129 414h1v1h-1zM130 413h1v1h-1zM131 412h1v1h-1zM132 411h1v1h-1zM133 411h1v1h-1zM134 410h1v1h-1zM135 409h1v1h-1zM136 409h1v1h-1zM137 408h1v1h-1zM138 408h1v1h-1zM139 407h1v1h-1zM140 407h1v1h-1zM141 407h1v1h-1zM142 406h1v1h-1zM143 406h1v1h-1zM144 406h1v1h-1zM145 406h1v1h-1zM146 405h1v1h-1zM147 405h1v1h-1zM148 405h1v1h-1zM149 405h1v1h-1zM150 405h1v1h-1zM151 405h1v1h-1zM152 405h1v1h-1zM153 405h1v1h-1zM154 404h1v1h-1zM155 404h1v1h-1zM156 404h1v1h-1zM157 404h1v1h-1zM158 404h1v1h-1zM159 404h1v1h-1zM160 404h1v1h-1zM161 404h1v1h-1zM162 404h1v1h-1zM163 404h1v1h-1zM164 404h1v1h-1zM165 405h1v1h-1zM166 405h1v1h-1zM167 405h1v1h-1zM168 405h1v1h-1zM169 406h1v1h-1zM170 406h1v1h-1zM171 406h1v1h-1zM172 407h1v1h-1zM173 407h1v1h-1zM174 408h1v1h-1zM175 408h1v1h-1zM176 408h1v1h-1zM177 409h1v1h-1zM178 409h1v1h-1zM179 409h1v1h-1zM180 409h1v1h-1zM181 409h1v1h-1zM182 409h1v1h-1zM183 409h1v1h-1zM184 409h1v1h-1zM185 409h1v1h-1zM186 409h1v1h-1zM187 409h1v1h-1zM188 409h1v1h-1zM189 409h1v1h-1zM190 408h1v1h-1zM191 408h1v1h-1zM192 407h1v1h-1zM193 407h1v1h-1zM194 406h1v1h-1zM195 405h1v1h-1zM196 405h1v1h-1zM197 404h1v1h-1zM198 404h1v1h-1zM199 403h1v1h-1zM200 402h1v1h-1zM201 402h1v1h-1zM202 401h1v1h-1zM203 400h1v1h-1zM204 400h1v1h-1zM205 400h1v1h-1zM206 399h1v1h-1zM207 399h1v1h-1zM208 398h1v1h-1zM209 398h1v1h-1zM210 397h1v1h-1zM211 396h1v1h-1zM212 396h1v1h-1zM213 395h1v1h-1zM214 395h1v1h-1zM215 394h1v1h-1zM216 393h1v1h-1zM217 392h1v1h-1zM218 391h1v1h-1zM219 390h1v1h-1zM220 389h1v1h-1zM221 389h1v1h-1zM222 388h1v1h-1zM223 387h1v1h-1zM224 385h1v2h-1zM225 384h1v1h-1zM226 382h1v2h-1zM227 380h1v2h-1zM228 378h1v2h-1zM229 375h1v3h-1zM230 373h1v2h-1zM231 370h1v3h-1zM232 368h1v2h-1zM233 366h1v2h-1zM234 364h1v2h-1zM235 361h1v3h-1zM236 359h1v2h-1zM237 356h1v3h-1zM238 354h1v2h-1zM239 351h1v3h-1zM240 348h1v3h-1zM241 344h1v4h-1zM242 341h1v3h-1zM243 338h1v3h-1zM244 336h1v2h-1zM245 333h1v3h-1zM246 331h1v2h-1zM247 328h1v3h-1zM248 326h1v2h-1zM249 323h1v3h-1zM250 321h1v2h-1zM251 318h1v3h-1zM252 314h1v4h-1zM253 311h1v3h-1zM254 307h1v4h-1zM255 303h1v4h-1zM256 298h1v5h-1zM257 292h1v6h-1zM258 287h1v5h-1zM259 282h1v5h-1zM260 277h1v5h-1zM261 272h1v5h-1zM262 267h1v5h-1zM263 262h1v5h-1zM264 258h1v4h-1zM265 253h1v5h-1zM266 249h1v4h-1zM267 244h1v5h-1zM268 239h1v5h-1zM269 235h1v4h-1zM270 230h1v5h-1zM271 225h1v5h-1zM272 220h1v5h-1zM273 215h1v5h-1zM274 210h1v5h-1zM275 205h1v5h-1zM276 200h1v5h-1zM277 196h1v4h-1zM278 191h1v5h-1zM279 187h1v4h-1zM280 183h1v4h-1zM281 180h1v3h-1zM282 176h1v4h-1zM283 174h1v2h-1zM284 173h1v1h-1zM285 171h1v2h-1zM286 170h1v1h-1zM287 169h1v1h-1zM288 167h1v2h-1zM289 166h1v1h-1zM290 164h1v2h-1zM291 163h1v1h-1zM292 163h1v1h-1zM293 163h1v1h-1zM294 162h1v1h-1zM295 162h1v1h-1zM296 161h1v1h-1zM297 160h1v1h-1zM298 159h1v1h-1zM299 158h1v1h-1zM300 157h1v1h-1zM301 157h1v1h-1zM302 156h1v1h-1zM303 155h1v1h-1zM304 154h1v1h-1zM305 152h1v2h-1zM306 151h1v1h-1zM307 150h1v1h-1zM308 151h1v1h-1zM309 151h1v1h-1zM310 152h1v1h-1zM311 152h1v1h-1zM312 153h1v2h-1zM313 155h1v2h-1zM314 157h1v2h-1zM315 159h1v1h-1zM316 160h1v1h-1zM317 161h1v2h-1zM318 163h1v1h-1zM319 164h1v1h-1zM320 165h1v1h-1zM321 166h1v2h-1zM322 168h1v1h-1zM323 169h1v1h-1zM324 170h1v2h-1zM325 172h1v2h-1zM326 174h1v2h-1zM327 176h1v3h-1zM328 179h1v2h-1zM329 181h1v2h-1zM330 183h1v2h-1zM331 185h1v3h-1zM332 188h1v2h-1zM333 190h1v2h-1zM334 192h1v2h-1zM335 194h1v2h-1zM336 196h1v2h-1zM337 198h1v2h-1zM338 200h1v2h-1zM339 202h1v1h-1zM340 203h1v1h-1zM341 203h1v1h-1zM342 204h1v1h-1zM343 204h1v1h-1zM344 205h1v1h-1zM345 205h1v1h-1zM346 206h1v1h-1zM347 206h1v1h-1zM348 206h1v1h-1zM349 207h1v1h-1zM350 207h1v1h-1zM351 207h1v1h-1zM352 207h1v1h-1zM353 208h1v1h-1zM354 208h1v1h-1zM355 208h1v1h-1zM356 208h1v1h-1zM357 208h1v1h-1zM358 207h1v1h-1zM359 207h1v1h-1zM360 208h1v1h-1zM361 209h1v1h-1zM362 210h1v1h-1zM363 211h1v1h-1zM364 211h1v1h-1zM365 212h1v1h-1zM366 212h1v1h-1zM367 212h1v1h-1zM368 212h1v1h-1zM369 213h1v1h-1zM370 213h1v1h-1zM371 213h1v1h-1zM372 213h1v1h-1zM373 213h1v1h-1zM374 213h1v1h-1zM375 213h1v1h-1zM376 213h1v1h-1zM377 213h1v1h-1zM378 212h1v1h-1zM379 212h1v1h-1zM380 212h1v1h-1zM381 212h1v1h-1zM382 212h1v1h-1zM383 212h1v1h-1zM384 212h1v1h-1zM385 211h1v1h-1zM386 211h1v1h-1zM387 210h1v1h-1zM388 210h1v1h-1zM389 209h1v1h-1zM390 209h1v1h-1zM391 208h1v1h-1zM392 208h1v1h-1zM393 207h1v1h-1zM394 207h1v1h-1zM395 206h1v1h-1zM396 206h1v1h-1zM397 206h1v1h-1zM398 206h1v1h-1zM399 206h1v1h-1zM400 206h1v1h-1zM401 206h1v1h-1zM402 206h1v1h-1zM403 206h1v1h-1zM404 206h1v1h-1zM405 206h1v1h-1zM406 206h1v1h-1zM407 206h1v1h-1zM408 206h1v1h-1zM409 206h1v1h-1zM410 206h1v1h-1zM411 206h1v1h-1zM412 206h1v1h-1zM413 207h1v1h-1zM414 207h1v1h-1zM415 207h1v1h-1zM416 207h1v1h-1zM417 207h1v1h-1zM418 206h1v1h-1zM419 206h1v1h-1zM420 206h1v1h-1zM421 206h1v1h-1zM422 206h1v1h-1zM423 206h1v1h-1zM424 206h1v1h-1zM425 206h1v1h-1zM426 205h1v1h-1zM427 205h1v1h-1zM428 206h1v1h-1zM429 207h1v1h-1zM430 208h1v1h-1zM431 209h1v1h-1zM432 210h1v1h-1zM433 211h1v1h-1zM434 212h1v1h-1zM435 213h1v1h-1zM436 214h1v1h-1zM437 214h1v1h-1zM438 215h1v1h-1zM439 215h1v1h-1zM440 215h1v1h-1zM441 216h1v1h-1zM442 216h1v1h-1zM443 216h1v1h-1zM444 217h1v1h-1zM445 217h1v1h-1zM446 218h1v1h-1zM447 218h1v1h-1zM448 218h1v1h-1zM449 218h1v1h-1zM450 217h1v1h-1zM451 217h1v1h-1zM452 217h1v1h-1zM453 216h1v1h-1zM454 216h1v1h-1zM455 215h1v1h-1zM456 214h1v1h-1zM457 214h1v1h-1zM458 213h1v1h-1zM459 212h1v1h-1zM460 211h1v1h-1zM461 211h1v1h-1zM462 210h1v1h-1zM463 209h1v1h-1zM464 210h1v1h-1zM465 210h1v1h-1zM466 211h1v1h-1zM467 211h1v1h-1zM468 212h1v1h-1zM469 213h1v1h-1zM470 214h1v1h-1zM471 215h1v1h-1zM472 216h1v1h-1zM473 217h1v1h-1zM474 217h1v1h-1zM475 218h1v1h-1zM476 218h1v1h-1zM477 219h1v1h-1zM478 219h1v1h-1zM479 219h1v1h-1zM480 220h1v1h-1zM481 221h1v1h-1zM482 221h1v1h-1zM483 222h1v1h-1zM484 222h1v1h-1zM485 222h1v1h-1zM486 221h1v1h-1zM487 221h1v1h-1zM488 221h1v1h-1zM489 221h1v1h-1zM490 220h1v1h-1zM491 220h1v1h-1zM492 221h1v1h-1zM493 221h1v1h-1zM494 222h1v1h-1zM495 222h1v1h-1zM496 223h1v1h-1zM497 224h1v1h-1zM498 225h1v1h-1zM499 226h1v1h-1zM500 227h1v1h-1zM501 228h1v2h-1zM502 230h1v1h-1zM503 231h1v1h-1zM504 232h1v1h-1zM505 233h1v2h-1zM506 235h1v1h-1zM507 236h1v1h-1zM508 237h1v1h-1zM509 238h1v2h-1zM510 240h1v1h-1zM511 241h1v2h-1zM512 243h1v2h-1zM513 245h1v2h-1zM514 247h1v2h-1zM515 249h1v3h-1zM516 252h1v3h-1zM517 255h1v2h-1zM518 257h1v3h-1zM519 260h1v2h-1zM520 262h1v2h-1zM521 264h1v2h-1zM522 266h1v2h-1zM523 268h1v2h-1zM524 270h1v2h-1zM525 272h1v2h-1zM526 274h1v2h-1zM527 276h1v2h-1zM528 278h1v2h-1zM529 280h1v2h-1zM530 282h1v2h-1zM531 284h1v3h-1zM532 287h1v2h-1zM533 289h1v2h-1zM534 291h1v2h-1zM535 293h1v3h-1zM536 296h1v3h-1zM537 299h1v3h-1zM538 302h1v3h-1zM539 305h1v3h-1zM540 308h1v2h-1zM541 310h1v3h-1zM542 313h1v2h-1zM543 315h1v3h-1zM544 318h1v3h-1zM545 321h1v2h-1zM546 323h1v3h-1zM547 326h1v2h-1zM548 328h1v1h-1zM549 329h1v2h-1zM550 331h1v1h-1zM551 332h1v1h-1zM552 333h1v1h-1zM553 334h1v1h-1zM554 334h1v1h-1zM555 335h1v1h-1zM556 336h1v1h-1zM557 337h1v1h-1zM558 337h1v1h-1zM559 338h1v1h-1zM560 339h1v1h-1zM561 340h1v1h-1zM562 340h1v1h-1zM563 341h1v1h-1zM564 342h1v1h-1zM565 343h1v1h-1zM566 344h1v1h-1zM567 345h1v1h-1zM568 345h1v1h-1zM569 346h1v1h-1zM570 346h1v1h-1zM571 346h1v1h-1zM572 346h1v1h-1zM573 346h1v1h-1zM574 345h1v1h-1zM575 345h1v1h-1zM576 345h1v1h-1zM577 344h1v1h-1zM578 344h1v1h-1zM579 343h1v1h-1zM580 343h1v1h-1zM581 342h1v1h-1zM582 342h1v1h-1zM583 341h1v1h-1zM584 341h1v1h-1zM585 340h1v1h-1zM586 340h1v1h-1zM587 339h1v1h-1zM588 339h1v1h-1zM589 338h1v1h-1zM590 338h1v1h-1zM591 337h1v1h-1zM592 336h1v1h-1zM593 336h1v1h-1zM594 335h1v1h-1zM595 334h1v1h-1zM596 333h1v1h-1zM597 331h1v2h-1zM598 330h1v1h-1zM599 329h1v1h-1zM600 328h1v1h-1zM601 326h1v2h-1zM602 325h1v1h-1zM603 324h1v1h-1zM604 324h1v1h-1zM605 323h1v1h-1zM606 323h1v1h-1zM607 322h1v1h-1zM608 322h1v1h-1zM609 321h1v1h-1zM610 321h1v1h-1zM611 320h1v1h-1zM612 320h1v1h-1zM613 320h1v1h-1zM614 320h1v1h-1zM615 320h1v1h-1zM616 320h1v1h-1zM617 321h1v1h-1zM618 321h1v1h-1zM619 321h1v1h-1zM620 321h1v1h-1zM621 321h1v1h-1zM622 320h1v1h-1zM623 320h1v1h-1zM624 320h1v1h-1zM625 320h1v1h-1zM626 320h1v1h-1zM627 320h1v1h-1zM628 320h1v1h-1zM629 321h1v1h-1zM630 321h1v1h-1zM631 321h1v1h-1zM632 321h1v1h-1zM633 322h1v1h-1zM634 322h1v1h-1zM635 322h1v1h-1zM636 322h1v1h-1zM637 322h1v1h-1zM638 322h1v1h-1zM639 322h1v1h-1zM640 322h1v1h-1zM641 322h1v1h-1zM642 322h1v1h-1zM643 322h1v1h-1zM644 322h1v1h-1zM645 322h1v1h-1zM646 321h1v1h-1zM647 321h1v1h-1zM648 321h1v1h-1zM649 321h1v1h-1zM650 321h1v1h-1zM651 321h1v1h-1zM652 321h1v1h-1zM653 322h1v1h-1zM654 322h1v1h-1zM655 322h1v1h-1zM656 323h1v1h-1zM657 323h1v1h-1zM658 324h1v1h-1zM659 324h1v1h-1zM660 324h1v1h-1zM661 325h1v1h-1zM662 325h1v1h-1zM663 325h1v1h-1zM664 326h1v1h-1zM665 327h1v1h-1zM666 327h1v1h-1zM667 328h1v1h-1zM668 329h1v1h-1zM669 329h1v1h-1zM670 330h1v1h-1zM671 330h1v1h-1zM672 330h1v1h-1zM673 330h1v1h-1zM674 330h1v1h-1zM675 330h1v1h-1zM676 330h1v1h-1zM677 330h1v1h-1zM678 330h1v1h-1zM679 330h1v1h-1zM680 330h1v1h-1zM681 331h1v1h-1zM682 331h1v1h-1zM683 331h1v1h-1zM684 332h1v1h-1zM685 332h1v1h-1zM686 333h1v1h-1zM687 333h1v1h-1zM688 334h1v1h-1zM689 334h1v1h-1zM690 335h1v1h-1zM691 335h1v1h-1zM692 336h1v1h-1zM693 337h1v2h-1zM694 339h1v1h-1zM695 340h1v1h-1zM696 341h1v1h-1zM697 341h1v1h-1zM698 342h1v1h-1zM699 342h1v1h-1zM700 343h1v1h-1zM701 344h1v1h-1zM702 344h1v1h-1zM703 345h1v1h-1zM704 346h1v1h-1zM705 347h1v1h-1zM706 347h1v1h-1zM707 348h1v1h-1zM708 349h1v1h-1zM709 350h1v1h-1zM710 351h1v1h-1zM711 352h1v1h-1zM712 353h1v1h-1zM713 354h1v1h-1zM714 355h1v1h-1zM715 356h1v1h-1zM716 357h1v1h-1zM717 358h1v1h-1zM718 358h1v1h-1zM719 359h1v1h-1zM720 360h1v1h-1zM721 360h1v1h-1zM722 361h1v1h-1zM723 361h1v1h-1zM724 362h1v1h-1zM725 363h1v1h-1zM726 363h1v1h-1zM727 364h1v1h-1zM728 365h1v1h-1zM729 366h1v1h-1zM730 366h1v1h-1zM731 367h1v1h-1zM732 368h1v1h-1zM733 369h1v1h-1zM734 370h1v1h-1zM735 371h1v1h-1zM736 372h1v1h-1zM737 373h1v2h-1zM738 375h1v1h-1zM739 376h1v1h-1zM740 377h1v1h-1zM741 378h1v1h-1zM742 378h1v1h-1zM743 379h1v1h-1zM744 379h1v1h-1zM745 379h1v1h-1zM746 379h1v1h-1zM747 379h1v1h-1zM748 379h1v1h-1zM749 379h1v1h-1zM750 379h1v1h-1zM751 379h1v1h-1zM752 379h1v1h-1zM753 380h1v1h-1zM754 380h1v1h-1zM755 380h1v1h-1zM756 381h1v1h-1zM757 381h1v1h-1zM758 382h1v1h-1zM759 382h1v1h-1zM760 383h1v1h-1zM761 384h1v1h-1zM762 384h1v1h-1zM763 385h1v1h-1zM764 386h1v1h-1zM765 386h1v1h-1zM766 387h1v1h-1zM767 387h1v1h-1zM768 388h1v1h-1zM769 389h1v1h-1zM770 389h1v1h-1zM771 390h1v1h-1zM772 391h1v1h-1zM773 392h1v1h-1zM774 392h1v1h-1zM775 393h1v1h-1zM776 394h1v1h-1zM777 395h1v1h-1zM778 395h1v1h-1zM779 396h1v1h-1zM780 397h1v1h-1zM781 398h1v1h-1zM782 399h1v1h-1zM783 400h1v1h-1zM784 401h1v1h-1zM785 402h1v1h-1zM786 403h1v1h-1zM787 404h1v1h-1zM788 405h1v1h-1zM789 406h1v1h-1zM790 407h1v1h-1zM791 408h1v1h-1zM792 408h1v1h-1zM793 409h1v1h-1zM794 409h1v1h-1zM795 409h1v1h-1zM796 409h1v1h-1zM797 410h1v1h-1zM798 410h1v1h-1zM799 410h1v1h-1zM800 411h1v1h-1zM801 412h1v1h-1zM802 413h1v1h-1zM803 414h1v1h-1zM804 415h1v1h-1zM805 416h1v1h-1zM806 416h1v1h-1zM807 417h1v1h-1zM808 418h1v1h-1zM809 419h1v1h-1zM810 420h1v1h-1zM811 421h1v1h-1zM812 422h1v1h-1zM813 423h1v1h-1zM814 423h1v1h-1zM815 424h1v1h-1zM816 425h1v1h-1zM817 425h1v1h-1zM818 426h1v1h-1zM819 426h1v1h-1zM820 427h1v1h-1zM821 428h1v1h-1zM822 428h1v1h-1zM823 429h1v1h-1zM824 430h1v1h-1zM825 431h1v1h-1zM826 432h1v1h-1zM827 433h1v1h-1zM828 434h1v1h-1zM829 435h1v1h-1zM830 435h1v1h-1zM831 436h1v1h-1zM832 437h1v1h-1zM833 438h1v1h-1zM834 438h1v1h-1zM835 439h1v1h-1zM836 439h1v1h-1zM837 440h1v1h-1zM838 440h1v1h-1zM839 440h1v1h-1zM840 440h1v1h-1zM841 441h1v1h-1zM842 441h1v1h-1zM843 441h1v1h-1zM844 442h1v1h-1zM845 443h1v1h-1zM846 443h1v1h-1zM847 444h1v1h-1zM848 445h1v1h-1zM849 445h1v1h-1zM850 446h1v1h-1zM851 446h1v1h-1zM852 446h1v1h-1zM853 446h1v1h-1zM854 446h1v1h-1zM855 446h1v1h-1zM856 446h1v1h-1zM857 447h1v1h-1zM858 447h1v1h-1zM859 447h1v1h-1zM860 447h1v1h-1zM861 447h1v1h-1zM862 447h1v1h-1zM863 447h1v1h-1zM864 447h1v1h-1zM865 447h1v1h-1zM866 447h1v1h-1zM867 447h1v1h-1zM868 447h1v1h-1zM869 446h1v1h-1zM870 446h1v1h-1zM871 445h1v1h-1zM872 445h1v1h-1zM873 445h1v1h-1zM874 444h1v1h-1zM875 444h1v1h-1zM876 444h1v1h-1zM877 443h1v1h-1zM878 443h1v1h-1zM879 442h1v1h-1zM880 442h1v1h-1zM881 441h1v1h-1zM882 441h1v1h-1zM883 440h1v1h-1zM884 439h1v1h-1zM885 439h1v1h-1zM886 438h1v1h-1zM887 437h1v1h-1zM888 436h1v1h-1zM889 436h1v1h-1zM890 435h1v1h-1zM891 434h1v1h-1zM892 434h1v1h-1zM893 434h1v1h-1zM894 433h1v1h-1zM895 433h1v1h-1zM896 432h1v1h-1zM897 432h1v1h-1zM898 431h1v1h-1zM899 430h1v1h-1zM900 429h1v1h-1zM901 427h1v2h-1zM902 426h1v1h-1zM903 425h1v1h-1zM904 424h1v1h-1zM905 422h1v2h-1zM906 421h1v1h-1zM907 420h1v1h-1zM908 419h1v1h-1zM909 419h1v1h-1zM910 418h1v1h-1zM911 417h1v1h-1zM912 416h1v1h-1zM913 414h1v2h-1zM914 413h1v1h-1zM915 412h1v1h-1zM916 411h1v1h-1zM917 410h1v1h-1zM918 409h1v1h-1zM919 408h1v1h-1zM920 407h1v1h-1zM921 406h1v1h-1zM922 405h1v1h-1zM923 404h1v1h-1zM924 403h1v1h-1zM925 402h1v1h-1zM926 401h1v1h-1zM927 400h1v1h-1zM928 400h1v1h-1zM929 399h1v1h-1zM930 399h1v1h-1zM931 398h1v1h-1zM932 398h1v1h-1zM933 397h1v1h-1zM934 397h1v1h-1zM935 396h1v1h-1zM936 395h1v1h-1zM937 395h1v1h-1zM938 394h1v1h-1zM939 393h1v1h-1zM940 393h1v1h-1zM941 392h1v1h-1zM942 392h1v1h-1zM943 391h1v1h-1zM944 391h1v1h-1zM945 391h1v1h-1zM946 390h1v1h-1zM947 390h1v1h-1zM948 390h1v1h-1zM949 389h1v1h-1zM950 389h1v1h-1zM951 388h1v1h-1zM952 388h1v1h-1zM953 389h1v1h-1zM954 389h1v1h-1zM955 389h1v1h-1zM956 389h1v1h-1zM957 390h1v1h-1zM958 390h1v1h-1zM959 390h1v1h-1zM960 391h1v1h-1zM961 392h1v2h-1zM962 394h1v1h-1zM963 395h1v1h-1zM964 396h1v1h-1zM965 397h1v1h-1zM966 398h1v1h-1zM967 399h1v1h-1zM968 400h1v1h-1zM969 401h1v2h-1zM970 403h1v1h-1zM971 404h1v1h-1zM972 405h1v1h-1zM973 406h1v2h-1zM974 408h1v1h-1zM975 409h1v1h-1zM976 410h1v1h-1zM977 411h1v1h-1zM978 412h1v1h-1zM979 413h1v1h-1zM980 414h1v1h-1zM981 415h1v1h-1zM982 415h1v1h-1zM983 416h1v1h-1zM984 417h1v1h-1zM985 418h1v1h-1zM986 418h1v1h-1zM987 419h1v1h-1zM988 420h1v1h-1zM989 420h1v1h-1zM990 421h1v1h-1zM991 421h1v1h-1zM992 422h1v1h-1zM993 423h1v1h-1zM994 423h1v1h-1zM995 424h1v1h-1zM996 425h1v1h-1zM997 426h1v1h-1zM998 426h1v1h-1zM999 427h1v1h-1zM1000 428h1v1h-1zM1001 428h1v1h-1zM1002 429h1v1h-1zM1003 429h1v1h-1zM1004 430h1v1h-1zM1005 431h1v1h-1zM1006 431h1v1h-1zM1007 432h1v1h-1zM1008 433h1v1h-1zM1009 434h1v1h-1zM1010 434h1v1h-1zM1011 435h1v1h-1zM1012 435h1v1h-1zM1013 436h1v1h-1zM1014 436h1v1h-1zM1015 436h1v1h-1zM1016 436h1v1h-1zM1017 435h1v1h-1zM1018 435h1v1h-1zM1019 434h1v1h-1zM1020 434h1v1h-1zM1021 434h1v1h-1zM1022 434h1v1h-1zM1023 434h1v1h-1zM1024 433h1v1h-1zM1025 432h1v1h-1zM1026 431h1v1h-1zM1027 430h1v1h-1zM1028 429h1v1h-1zM1029 428h1v1h-1zM1030 427h1v1h-1zM1031 426h1v1h-1zM1032 425h1v1h-1zM1033 425h1v1h-1zM1034 424h1v1h-1zM1035 423h1v1h-1zM1036 423h1v1h-1zM1037 422h1v1h-1zM1038 422h1v1h-1zM1039 421h1v1h-1zM1040 421h1v1h-1zM1041 421h1v1h-1zM1042 420h1v1h-1zM1043 420h1v1h-1zM1044 420h1v1h-1zM1045 421h1v1h-1zM1046 421h1v1h-1zM1047 421h1v1h-1zM1048 421h1v1h-1zM1049 422h1v1h-1zM1050 422h1v1h-1zM1051 422h1v1h-1zM1052 422h1v1h-1zM1053 423h1v1h-1zM1054 423h1v1h-1zM1055 423h1v1h-1zM1056 424h1v1h-1zM1057 424h1v1h-1zM1058 425h1v1h-1zM1059 425h1v1h-1zM1060 426h1v1h-1zM1061 426h1v1h-1zM1062 427h1v1h-1zM1063 427h1v1h-1zM1064 428h1v1h-1zM1065 429h1v1h-1zM1066 429h1v1h-1zM1067 430h1v1h-1zM1068 431h1v1h-1zM1069 431h1v1h-1zM1070 432h1v1h-1zM1071 432h1v1h-1zM1072 433h1v1h-1zM1073 434h1v1h-1zM1074 434h1v1h-1zM1075 435h1v1h-1zM1076 435h1v1h-1zM1077 436h1v1h-1zM1078 436h1v1h-1zM1079 436h1v1h-1zM1080 437h1v1h-1zM1081 438h1v1h-1zM1082 438h1v1h-1zM1083 439h1v1h-1zM1084 440h1v1h-1zM1085 441h1v1h-1zM1086 442h1v1h-1zM1087 443h1v1h-1zM1088 444h1v1h-1zM1089 445h1v2h-1zM1090 447h1v1h-1zM1091 448h1v1h-1zM1092 449h1v1h-1zM1093 450h1v1h-1zM1094 451h1v1h-1zM1095 452h1v1h-1zM1096 453h1v1h-1zM1097 454h1v1h-1zM1098 454h1v1h-1zM1099 455h1v1h-1zM1100 455h1v1h-1zM1101 456h1v1h-1zM1102 456h1v1h-1zM1103 456h1v1h-1zM1104 456h1v1h-1zM1105 457h1v1h-1zM1106 457h1v1h-1zM1107 457h1v1h-1zM1108 457h1v1h-1zM1109 457h1v1h-1zM1110 456h1v1h-1zM1111 456h1v1h-1zM1112 456h1v1h-1zM1113 456h1v1h-1zM1114 455h1v1h-1zM1115 455h1v1h-1zM1116 455h1v1h-1zM1117 455h1v1h-1zM1118 454h1v1h-1zM1119 454h1v1h-1zM1120 454h1v1h-1zM1121 454h1v1h-1zM1122 454h1v1h-1zM1123 454h1v1h-1zM1124 454h1v1h-1zM1125 454h1v1h-1zM1126 453h1v1h-1zM1127 453h1v1h-1zM1128 454h1v1h-1zM1129 454h1v1h-1zM1130 455h1v1h-1zM1131 455h1v1h-1zM1132 456h1v1h-1zM1133 456h1v1h-1zM1134 457h1v1h-1zM1135 457h1v1h-1zM1136 458h1v1h-1zM1137 459h1v1h-1zM1138 460h1v1h-1zM1139 461h1v1h-1zM1140 462h1v1h-1zM1141 463h1v1h-1zM1142 463h1v1h-1zM1143 464h1v1h-1zM1144 465h1v1h-1zM1145 466h1v1h-1zM1146 466h1v1h-1zM1147 467h1v1h-1zM1148 468h1v1h-1zM1149 469h1v1h-1zM1150 470h1v1h-1zM1151 471h1v1h-1zM1152 472h1v1h-1zM1153 473h1v1h-1zM1154 474h1v1h-1zM1155 475h1v1h-1zM1156 476h1v2h-1zM1157 478h1v1h-1zM1158 479h1v2h-1zM1159 481h1v1h-1zM1160 482h1v1h-1zM1161 483h1v2h-1zM1162 485h1v1h-1zM1163 486h1v1h-1zM1164 487h1v1h-1zM1165 488h1v2h-1zM1166 490h1v1h-1zM1167 491h1v1h-1zM1168 492h1v1h-1zM1169 493h1v2h-1zM1170 495h1v1h-1zM1171 496h1v1h-1zM1172 497h1v2h-1zM1173 499h1v1h-1zM1174 500h1v2h-1zM1175 502h1v1h-1zM1176 503h1v1h-1zM1177 504h1v2h-1zM1178 506h1v1h-1zM1179 507h1v1h-1zM1180 508h1v1h-1zM1181 509h1v1h-1zM1182 510h1v1h-1zM1183 511h1v1h-1zM1184 512h1v1h-1zM1185 513h1v1h-1zM1186 514h1v1h-1zM1187 515h1v1h-1zM1188 516h1v1h-1zM1189 517h1v1h-1zM1190 518h1v1h-1zM1191 519h1v1h-1zM1192 520h1v1h-1zM1193 521h1v1h-1zM1194 522h1v1h-1zM1195 523h1v1h-1zM1196 524h1v1h-1zM1197 525h1v1h-1zM1198 526h1v1h-1zM1199 527h1v1h-1zM1200 528h1v1h-1zM1201 529h1v1h-1zM1202 529h1v1h-1zM1203 530h1v1h-1zM1204 531h1v1h-1zM1205 531h1v1h-1zM1206 532h1v1h-1zM1207 532h1v1h-1zM1208 532h1v1h-1zM1209 532h1v1h-1zM1210 531h1v1h-1zM1211 531h1v1h-1zM1212 530h1v1h-1zM1213 530h1v1h-1zM1214 529h1v1h-1zM1215 528h1v1h-1zM1216 528h1v1h-1zM1217 528h1v1h-1zM1218 527h1v1h-1zM1219 527h1v1h-1zM1220 527h1v1h-1zM1221 527h1v1h-1zM1222 526h1v1h-1zM1223 526h1v1h-1zM1224 526h1v1h-1zM1225 526h1v1h-1zM1226 525h1v1h-1zM1227 525h1v1h-1zM1228 525h1v1h-1zM1229 524h1v1h-1zM1230 524h1v1h-1zM1231 523h1v1h-1zM1232 523h1v1h-1zM1233 523h1v1h-1zM1234 522h1v1h-1zM1235 522h1v1h-1zM1236 522h1v1h-1zM1237 522h1v1h-1zM1238 522h1v1h-1zM1239 522h1v1h-1zM1240 522h1v1h-1zM1241 523h1v1h-1zM1242 523h1v1h-1zM1243 523h1v1h-1zM1244 523h1v1h-1zM1245 523h1v1h-1zM1246 523h1v1h-1zM1247 523h1v1h-1zM1248 523h1v1h-1zM1249 524h1v1h-1zM1250 524h1v1h-1zM1251 524h1v1h-1zM1252 524h1v1h-1zM1253 524h1v1h-1zM1254 523h1v1h-1zM1255 523h1v1h-1zM1256 524h1v1h-1zM1257 524h1v1h-1zM1258 525h1v1h-1zM1259 525h1v1h-1zM1260 525h1v1h-1zM1261 526h1v1h-1zM1262 526h1v1h-1zM1263 526h1v1h-1zM1264 527h1v1h-1zM1265 528h1v1h-1zM1266 528h1v1h-1zM1267 529h1v1h-1z"/>
<path fill="#ffa500" d="M3 475h1v1h-1zM4 476h1v1h-1zM5 476h1v1h-1zM6 477h1v1h-1zM7 477h1v1h-1zM8 478h1v1h-1zM9 478h1v1h-1zM10 479h1v1h-1zM11 479h1v1h-1zM12 479h1v1h-1zM13 478h1v1h-1zM14 478h1v1h-1zM15 477h1v1h-1zM16 476h1v1h-1zM17 476h1v1h-1zM18 475h1v1h-1zM19 474h1v1h-1zM20 472h1v2h-1zM21 471h1v1h-1zM22 469h1v2h-1zM23 468h1v1h-1zM24 467h1v1h-1zM25 467h1v1h-1zM26 466h1v1h-1zM27 465h1v1h-1zM28 464h1v1h-1zM29 463h1v1h-1zM30 462h1v1h-1zM31 461h1v1h-1zM32 461h1v1h-1zM33 460h1v1h-1zM34 460h1v1h-1zM35 459h1v1h-1zM36 459h1v1h-1zM37 459h1v1h-1zM38 458h1v1h-1zM39 458h1v1h-1zM40 459h1v1h-1zM41 459h1v1h-1zM42 460h1v1h-1zM43 460h1v1h-1zM44 460h1v1h-1zM45 461h1v1h-1zM46 461h1v1h-1zM47 461h1v1h-1zM48 461h1v1h-1zM49 461h1v1h-1zM50 461h1v1h-1zM51 461h1v1h-1zM52 461h1v1h-1zM53 461h1v1h-1zM54 460h1v1h-1zM55 460h1v1h-1zM56 460h1v1h-1zM57 460h1v1h-1zM58 460h1v1h-1zM59 460h1v1h-1zM60 460h1v1h-1zM61 460h1v1h-1zM62 460h1v1h-1zM63 460h1v1h-1zM64 459h1v1h-1zM65 458h1v1h-1zM66 457h1v1h-1zM67 456h1v1h-1zM68 455h1v1h-1zM69 453h1v2h-1zM70 452h1v1h-1zM71 451h1v1h-1zM72 450h1v1h-1zM73 450h1v1h-1zM74 449h1v1h-1zM75 448h1v1h-1zM76 447h1v1h-1zM77 445h1v2h-1zM78 444h1v1h-1zM79 443h1v1h-1zM80 441h1v2h-1zM81 440h1v1h-1zM82 438h1v2h-1zM83 437h1v1h-1zM84 436h1v1h-1zM85 436h1v1h-1zM86 435h1v1h-1zM87 434h1v1h-1zM88 433h1v1h-1zM89 433h1v1h-1zM90 432h1v1h-1zM91 431h1v1h-1zM92 430h1v1h-1zM93 429h1v1h-1zM94 428h1v1h-1zM95 427h1v1h-1zM96 426h1v1h-1zM97 425h1v1h-1zM98 424h1v1h-1zM99 423h1v1h-1zM100 422h1v1h-1zM101 422h1v1h-1zM102 421h1v1h-1zM103 420h1v1h-1zM104 419h1v1h-1zM105 418h1v1h-1zM106 417h1v1h-1zM107 416h1v1h-1zM108 415h1v1h-1zM109 414h1v1h-1zM110 413h1v1h-1zM111 412h1v1h-1zM112 411h1v1h-1zM113 410h1v1h-1zM114 409h1v1h-1zM115 408h1v1h-1zM116 407h1v1h-1zM117 407h1v1h-1zM118 406h1v1h-1zM119 405h1v1h-1zM120 404h1v1h-1zM121 403h1v1h-1zM122 402h1v1h-1zM123 401h1v1h-1zM124 401h1v1h-1zM125 400h1v1h-1zM126 400h1v1h-1zM127 399h1v1h-1zM128 399h1v1h-1zM129 398h1v1h-1zM130 398h1v1h-1zM131 397h1v1h-1zM132 397h1v1h-1zM133 398h1v1h-1zM134 398h1v1h-1zM135 398h1v1h-1zM136 398h1v1h-1zM137 399h1v1h-1zM138 399h1v1h-1zM139 399h1v1h-1zM140 400h1v1h-1zM141 401h1v1h-1zM142 401h1v1h-1zM143 402h1v1h-1zM144 403h1v1h-1zM145 403h1v1h-1zM146 404h1v1h-1zM147 404h1v1h-1zM148 405h1v1h-1zM149 406h1v1h-1zM150 406h1v1h-1zM151 407h1v1h-1zM152 408h1v1h-1zM153 409h1v1h-1zM154 409h1v1h-1zM155 410h1v1h-1zM156 410h1v1h-1zM157 410h1v1h-1zM158 410h1v1h-1zM159 410h1v1h-1zM160 410h1v1h-1zM161 411h1v1h-1zM162 411h1v1h-1zM163 411h1v1h-1zM164 411h1v1h-1zM165 412h1v1h-1zM166 412h1v1h-1zM167 412h1v1h-1zM168 413h1v1h-1zM169 413h1v1h-1zM170 414h1v1h-1zM171 414h1v1h-1zM172 414h1v1h-1zM173 415h1v1h-1zM174 415h1v1h-1zM175 415h1v1h-1zM176 415h1v1h-1zM177 415h1v1h-1zM178 415h1v1h-1zM179 415h1v1h-1zM180 415h1v1h-1zM181 414h1v1h-1zM182 414h1v1h-1zM183 413h1v1h-1zM184 412h1v1h-1zM185 411h1v1h-1zM186 410h1v1h-1zM187 409h1v1h-1zM188 407h1v2h-1zM189 406h1v1h-1zM190 404h1v2h-1zM191 402h1v2h-1zM192 399h1v3h-1zM193 397h1v2h-1zM194 394h1v3h-1zM195 392h1v2h-1zM196 390h1v2h-1zM197 388h1v2h-1zM198 386h1v2h-1zM199 385h1v1h-1zM200 383h1v2h-1zM201 382h1v1h-1zM202 380h1v2h-1zM203 379h1v1h-1zM204 379h1v1h-1zM205 379h1v1h-1zM206 378h1v1h-1zM207 378h1v1h-1zM208 378h1v1h-1zM209 377h1v1h-1zM210 377h1v1h-1zM211 376h1v1h-1zM212 376h1v1h-1zM213 377h1v1h-1zM214 377h1v1h-1zM215 377h1v1h-1zM216 377h1v1h-1zM217 377h1v1h-1zM218 376h1v1h-1zM219 376h1v1h-1zM220 376h1v1h-1zM221 375h1v1h-1zM222 375h1v1h-1zM223 373h1v2h-1zM224 371h1v2h-1zM225 368h1v3h-1zM226 366h1v2h-1zM227 362h1v4h-1zM228 357h1v5h-1zM229 353h1v4h-1zM230 348h1v5h-1zM231 343h1v5h-1zM232 339h1v4h-1zM233 334h1v5h-1zM234 330h1v4h-1zM235 325h1v5h-1zM236 319h1v6h-1zM237 314h1v5h-1zM238 308h1v6h-1zM239 302h1v6h-1zM240 295h1v7h-1zM241 287h1v8h-1zM242 280h1v7h-1zM243 274h1v6h-1zM244 269h1v5h-1zM245 264h1v5h-1zM246 259h1v5h-1zM247 255h1v4h-1zM248 253h1v2h-1zM249 250h1v3h-1zM250 248h1v2h-1zM251 244h1v4h-1zM252 238h1v6h-1zM253 232h1v6h-1zM254 226h1v6h-1zM255 219h1v7h-1zM256 211h1v8h-1zM257 203h1v8h-1zM258 195h1v8h-1zM259 188h1v7h-1zM260 182h1v6h-1zM261 176h1v6h-1zM262 170h1v6h-1zM263 164h1v6h-1zM264 158h1v6h-1zM265 153h1v5h-1zM266 147h1v6h-1zM267 142h1v5h-1zM268 136h1v6h-1zM269 130h1v6h-1zM270 124h1v6h-1zM271 119h1v5h-1zM272 115h1v4h-1zM273 110h1v5h-1zM274 106h1v4h-1zM275 103h1v3h-1zM276 104h1v1h-1zM277 105h1v1h-1zM278 105h1v1h-1zM279 106h1v1h-1zM280 107h1v2h-1zM281 109h1v1h-1zM282 110h1v2h-1zM283 112h1v2h-1zM284 114h1v4h-1zM285 118h1v4h-1zM286 122h1v4h-1zM287 126h1v5h-1zM288 131h1v4h-1zM289 135h1v5h-1zM290 140h1v4h-1zM291 144h1v6h-1zM292 150h1v8h-1zM293 158h1v7h-1zM294 165h1v8h-1zM295 173h1v5h-1zM296 178h1v4h-1zM297 182h1v4h-1zM298 186h1v4h-1zM299 190h1v4h-1zM300 194h1v3h-1zM301 197h1v2h-1zM302 199h1v3h-1zM303 202h1v2h-1zM304 200h1v2h-1zM305 198h1v2h-1zM306 196h1v2h-1zM307 194h1v2h-1zM308 194h1v1h-1zM309 193h1v1h-1zM310 193h1v1h-1zM311 191h1v2h-1zM312 189h1v2h-1zM313 187h1v2h-1zM314 185h1v2h-1zM315 183h1v2h-1zM316 183h1v1h-1zM317 183h1v1h-1zM318 183h1v1h-1zM319 183h1v1h-1zM320 183h1v1h-1zM321 183h1v1h-1zM322 183h1v1h-1zM323 183h1v2h-1zM324 185h1v3h-1zM325 188h1v3h-1zM326 191h1v3h-1zM327 194h1v2h-1zM328 196h1v1h-1zM329 197h1v2h-1zM330 199h1v1h-1zM331 200h1v1h-1zM332 201h1v2h-1zM333 203h1v2h-1zM334 205h1v2h-1zM335 207h1v3h-1zM336 210h1v2h-1zM337 212h1v2h-1zM338 214h1v2h-1zM339 216h1v3h-1zM340 219h1v2h-1zM341 221h1v2h-1zM342 223h1v2h-1zM343 225h1v2h-1zM344 226h1v1h-1zM345 227h1v1h-1zM346 227h1v1h-1zM347 227h1v1h-1zM348 228h1v2h-1zM349 230h1v1h-1zM350 231h1v2h-1zM351 233h1v1h-1zM352 231h1v2h-1zM353 230h1v1h-1zM354 228h1v2h-1zM355 226h1v2h-1zM356 224h1v2h-1zM357 222h1v2h-1zM358 220h1v2h-1zM359 218h1v2h-1zM360 217h1v1h-1zM361 216h1v1h-1zM362 215h1v1h-1zM363 214h1v1h-1zM364 213h1v1h-1zM365 212h1v1h-1zM366 211h1v1h-1zM367 210h1v1h-1zM368 208h1v2h-1zM369 206h1v2h-1zM370 204h1v2h-1zM371 202h1v2h-1zM372 201h1v1h-1zM373 199h1v2h-1zM374 198h1v1h-1zM375 197h1v1h-1zM376 197h1v1h-1zM377 197h1v1h-1zM378 197h1v1h-1zM379 197h1v1h-1zM380 197h1v1h-1zM381 198h1v1h-1zM382 198h1v1h-1zM383 198h1v1h-1zM384 197h1v1h-1zM385 196h1v1h-1zM386 195h1v1h-1zM387 194h1v1h-1zM388 194h1v1h-1zM389 193h1v1h-1zM390 193h1v1h-1zM391 192h1v1h-1zM392 193h1v2h-1zM393 195h1v2h-1zM394 197h1v2h-1zM395 199h1v2h-1zM396 201h1v2h-1zM397 203h1v2h-1zM398 205h1v2h-1zM399 207h1v1h-1zM400 208h1v1h-1zM401 209h1v2h-1zM402 211h1v1h-1zM403 212h1v2h-1zM404 214h1v2h-1zM405 216h1v3h-1zM406 219h1v2h-1zM407 221h1v2h-1zM408 222h1v1h-1zM409 222h1v1h-1zM410 222h1v1h-1zM411 222h1v1h-1zM412 222h1v1h-1zM413 221h1v1h-1zM414 221h1v1h-1zM415 220h1v1h-1zM416 219h1v1h-1zM417 218h1v1h-1zM418 217h1v1h-1zM419 216h1v1h-1zM420 215h1v1h-1zM421 213h1v2h-1zM422 212h1v1h-1zM423 210h1v2h-1zM424 207h1v3h-1zM425 204h1v3h-1zM426 201h1v3h-1zM427 199h1v2h-1zM428 200h1v2h-1zM429 202h1v1h-1zM430 203h1v2h-1zM431 205h1v2h-1zM432 207h1v2h-1zM433 209h1v2h-1zM434 211h1v2h-1zM435 213h1v2h-1zM436 215h1v2h-1zM437 217h1v2h-1zM438 219h1v2h-1zM439 221h1v2h-1zM440 222h1v1h-1zM441 222h1v1h-1zM442 222h1v1h-1zM443 222h1v1h-1zM444 223h1v2h-1zM445 225h1v1h-1zM446 226h1v2h-1zM447 228h1v1h-1zM448 226h1v2h-1zM449 225h1v1h-1zM450 223h1v2h-1zM451 221h1v2h-1zM452 219h1v2h-1zM453 217h1v2h-1zM454 215h1v2h-1zM455 213h1v2h-1zM456 211h1v2h-1zM457 209h1v2h-1zM458 207h1v2h-1zM459 205h1v2h-1zM460 204h1v1h-1zM461 203h1v1h-1zM462 202h1v1h-1zM463 201h1v1h-1zM464 202h1v1h-1zM465 203h1v1h-1zM466 203h1v1h-1zM467 204h1v2h-1zM468 206h1v2h-1zM469 208h1v3h-1zM470 211h1v2h-1zM471 213h1v3h-1zM472 216h1v2h-1zM473 218h1v2h-1zM474 220h1v2h-1zM475 222h1v2h-1zM476 224h1v2h-1zM477 226h1v2h-1zM478 228h1v2h-1zM479 230h1v1h-1zM480 231h1v1h-1zM481 232h1v1h-1zM482 233h1v1h-1zM483 234h1v1h-1zM484 234h1v1h-1zM485 234h1v1h-1zM486 233h1v1h-1zM487 233h1v1h-1zM488 232h1v1h-1zM489 230h1v2h-1zM490 229h1v1h-1zM491 228h1v1h-1zM492 229h1v1h-1zM493 230h1v1h-1zM494 231h1v1h-1zM495 232h1v2h-1zM496 234h1v2h-1zM497 236h1v2h-1zM498 238h1v2h-1zM499 240h1v3h-1zM500 243h1v3h-1zM501 246h1v4h-1zM502 250h1v3h-1zM503 253h1v3h-1zM504 256h1v2h-1zM505 258h1v3h-1zM506 261h1v2h-1zM507 263h1v3h-1zM508 266h1v2h-1zM509 268h1v2h-1zM510 270h1v2h-1zM511 272h1v3h-1zM512 275h1v3h-1zM513 278h1v3h-1zM514 281h1v3h-1zM515 284h1v3h-1zM516 287h1v3h-1zM517 290h1v4h-1zM518 294h1v3h-1zM519 297h1v3h-1zM520 300h1v4h-1zM521 304h1v3h-1zM522 307h1v4h-1zM523 311h1v3h-1zM524 314h1v4h-1zM525 318h1v4h-1zM526 322h1v4h-1zM527 326h1v4h-1zM528 330h1v4h-1zM529 334h1v5h-1zM530 339h1v4h-1zM531 343h1v4h-1zM532 347h1v2h-1zM533 349h1v2h-1zM534 351h1v2h-1zM535 353h1v2h-1zM536 355h1v2h-1zM537 357h1v2h-1zM538 359h1v2h-1zM539 361h1v1h-1zM540 362h1v1h-1zM541 363h1v1h-1zM542 363h1v1h-1zM543 364h1v1h-1zM544 365h1v2h-1zM545 367h1v1h-1zM546 368h1v2h-1zM547 370h1v1h-1zM548 368h1v2h-1zM549 367h1v1h-1zM550 365h1v2h-1zM551 364h1v1h-1zM552 362h1v2h-1zM553 360h1v2h-1zM554 358h1v2h-1zM555 355h1v3h-1zM556 352h1v3h-1zM557 349h1v3h-1zM558 346h1v3h-1zM559 343h1v3h-1zM560 341h1v2h-1zM561 338h1v3h-1zM562 336h1v2h-1zM563 333h1v3h-1zM564 331h1v2h-1zM565 329h1v2h-1zM566 327h1v2h-1zM567 325h1v2h-1zM568 325h1v1h-1zM569 325h1v1h-1zM570 325h1v1h-1zM571 325h1v1h-1zM572 325h1v1h-1zM573 325h1v1h-1zM574 325h1v1h-1zM575 325h1v1h-1zM576 325h1v1h-1zM577 325h1v1h-1zM578 325h1v1h-1zM579 325h1v1h-1zM580 325h1v1h-1zM581 326h1v1h-1zM582 326h1v1h-1zM583 326h1v1h-1zM584 326h1v1h-1zM585 327h1v1h-1zM586 327h1v1h-1zM587 327h1v1h-1zM588 328h1v1h-1zM589 329h1v1h-1zM590 329h1v1h-1zM591 330h1v1h-1zM592 330h1v1h-1zM593 330h1v1h-1zM594 329h1v1h-1zM595 329h1v1h-1zM596 329h1v1h-1zM597 328h1v1h-1zM598 328h1v1h-1zM599 327h1v1h-1zM600 326h1v1h-1zM601 324h1v2h-1zM602 323h1v1h-1zM603 322h1v1h-1zM604 320h1v2h-1zM605 319h1v1h-1zM606 317h1v2h-1zM607 315h1v2h-1zM608 313h1v2h-1zM609 311h1v2h-1zM610 309h1v2h-1zM611 307h1v2h-1zM612 307h1v1h-1zM613 307h1v1h-1zM614 306h1v1h-1zM615 306h1v1h-1zM616 307h1v1h-1zM617 308h1v1h-1zM618 309h1v1h-1zM619 310h1v1h-1zM620 311h1v2h-1zM621 313h1v1h-1zM622 314h1v2h-1zM623 316h1v1h-1zM624 317h1v1h-1zM625 318h1v1h-1zM626 319h1v1h-1zM627 320h1v1h-1zM628 321h1v2h-1zM629 323h1v1h-1zM630 324h1v2h-1zM631 326h1v1h-1zM632 327h1v1h-1zM633 328h1v1h-1zM634 329h1v1h-1zM635 330h1v1h-1zM636 330h1v1h-1zM637 330h1v1h-1zM638 329h1v1h-1zM639 329h1v1h-1zM640 330h1v1h-1zM641 330h1v1h-1zM642 331h1v1h-1zM643 331h1v1h-1zM644 331h1v1h-1zM645 331h1v1h-1zM646 331h1v1h-1zM647 331h1v1h-1zM648 331h1v1h-1zM649 330h1v1h-1zM650 330h1v1h-1zM651 329h1v1h-1zM652 329h1v1h-1zM653 328h1v1h-1zM654 328h1v1h-1zM655 327h1v1h-1zM656 328h1v1h-1zM657 328h1v1h-1zM658 329h1v1h-1zM659 329h1v1h-1zM660 328h1v1h-1zM661 328h1v1h-1zM662 327h1v1h-1zM663 326h1v1h-1zM664 327h1v1h-1zM665 327h1v1h-1zM666 328h1v1h-1zM667 328h1v1h-1zM668 329h1v1h-1zM669 330h1v1h-1zM670 330h1v1h-1zM671 331h1v1h-1zM672 331h1v1h-1zM673 332h1v1h-1zM674 332h1v1h-1zM675 332h1v1h-1zM676 332h1v1h-1zM677 332h1v1h-1zM678 332h1v1h-1zM679 332h1v1h-1zM680 333h1v1h-1zM681 334h1v1h-1zM682 335h1v1h-1zM683 336h1v1h-1zM684 337h1v1h-1zM685 338h1v1h-1zM686 339h1v1h-1zM687 340h1v1h-1zM688 341h1v2h-1zM689 343h1v1h-1zM690 344h1v2h-1zM691 346h1v2h-1zM692 348h1v2h-1zM693 350h1v3h-1zM694 353h1v2h-1zM695 355h1v2h-1zM696 357h1v2h-1zM697 359h1v2h-1zM698 361h1v2h-1zM699 363h1v2h-1zM700 365h1v1h-1zM701 366h1v2h-1zM702 368h1v1h-1zM703 369h1v1h-1zM704 370h1v1h-1zM705 371h1v1h-1zM706 371h1v1h-1zM707 372h1v1h-1zM708 373h1v1h-1zM709 374h1v1h-1zM710 374h1v1h-1zM711 375h1v1h-1zM712 375h1v1h-1zM713 375h1v1h-1zM714 375h1v1h-1zM715 375h1v1h-1zM716 375h1v1h-1zM717 375h1v1h-1zM718 374h1v1h-1zM719 374h1v1h-1zM720 375h1v1h-1zM721 375h1v1h-1zM722 376h1v1h-1zM723 376h1v1h-1zM724 376h1v1h-1zM725 376h1v1h-1zM726 376h1v1h-1zM727 376h1v1h-1zM728 375h1v1h-1zM729 375h1v1h-1zM730 374h1v1h-1zM731 373h1v1h-1zM732 373h1v1h-1zM733 374h1v1h-1zM734 374h1v1h-1zM735 374h1v2h-1zM736 376h1v2h-1zM737 378h1v2h-1zM738 380h1v2h-1zM739 382h1v2h-1zM740 384h1v1h-1zM741 385h1v2h-1zM742 387h1v1h-1zM743 388h1v1h-1zM744 388h1v1h-1zM745 388h1v1h-1zM746 388h1v1h-1zM747 388h1v1h-1zM748 388h1v1h-1zM749 389h1v1h-1zM750 389h1v1h-1zM751 389h1v1h-1zM752 389h1v1h-1zM753 390h1v1h-1zM754 390h1v1h-1zM755 390h1v1h-1zM756 390h1v1h-1zM757 389h1v1h-1zM758 389h1v1h-1zM759 388h1v1h-1zM760 388h1v1h-1zM761 389h1v1h-1zM762 389h1v1h-1zM763 389h1v2h-1zM764 391h1v2h-1zM765 393h1v2h-1zM766 395h1v2h-1zM767 397h1v2h-1zM768 399h1v2h-1zM769 401h1v2h-1zM770 403h1v2h-1zM771 405h1v1h-1zM772 406h1v1h-1zM773 407h1v2h-1zM774 409h1v1h-1zM775 410h1v1h-1zM776 411h1v1h-1zM777 412h1v2h-1zM778 414h1v1h-1zM779 415h1v1h-1zM780 416h1v1h-1zM781 417h1v1h-1zM782 417h1v1h-1zM783 418h1v1h-1zM784 419h1v1h-1zM785 419h1v1h-1zM786 420h1v1h-1zM787 420h1v1h-1zM788 421h1v1h-1zM789 422h1v1h-1zM790 423h1v1h-1zM791 424h1v1h-1zM792 425h1v1h-1zM793 426h1v1h-1zM794 426h1v1h-1zM795 427h1v1h-1zM796 427h1v1h-1zM797 427h1v1h-1zM798 427h1v1h-1zM799 427h1v1h-1zM800 427h1v1h-1zM801 426h1v1h-1zM802 426h1v1h-1zM803 425h1v1h-1zM804 425h1v1h-1zM805 425h1v1h-1zM806 424h1v1h-1zM807 424h1v1h-1zM808 425h1v1h-1zM809 425h1v1h-1zM810 426h1v1h-1zM811 426h1v1h-1zM812 427h1v1h-1zM813 428h1v1h-1zM814 429h1v1h-1zM815 430h1v1h-1zM816 431h1v1h-1zM817 432h1v1h-1zM818 433h1v1h-1zM819 434h1v1h-1zM820 435h1v2h-1zM821 437h1v2h-1zM822 439h1v2h-1zM823 441h1v1h-1zM824 442h1v2h-1zM825 444h1v2h-1zM826 446h1v2h-1zM827 448h1v2h-1zM828 450h1v1h-1zM829 451h1v2h-1zM830 453h1v1h-1zM831 454h1v1h-1zM832 455h1v1h-1zM833 456h1v1h-1zM834 456h1v1h-1zM835 457h1v1h-1zM836 457h1v1h-1zM837 457h1v1h-1zM838 456h1v1h-1zM839 456h1v1h-1zM840 456h1v1h-1zM841 456h1v1h-1zM842 455h1v1h-1zM843 455h1v1h-1zM844 455h1v1h-1zM845 455h1v1h-1zM846 455h1v1h-1zM847 455h1v1h-1zM848 455h1v1h-1zM849 454h1v1h-1zM850 454h1v1h-1zM851 453h1v1h-1zM852 451h1v2h-1zM853 449h1v2h-1zM854 447h1v2h-1zM855 446h1v1h-1zM856 446h1v1h-1zM857 446h1v1h-1zM858 445h1v1h-1zM859 445h1v1h-1zM860 444h1v1h-1zM861 443h1v1h-1zM862 442h1v1h-1zM863 441h1v1h-1zM864 439h1v2h-1zM865 437h1v2h-1zM866 435h1v2h-1zM867 434h1v1h-1zM868 433h1v1h-1zM869 431h1v2h-1zM870 430h1v1h-1zM871 429h1v1h-1zM872 429h1v1h-1zM873 429h1v1h-1zM874 429h1v1h-1zM875 429h1v1h-1zM876 429h1v1h-1zM877 428h1v1h-1zM878 428h1v1h-1zM879 427h1v1h-1zM880 427h1v1h-1zM881 427h1v1h-1zM882 427h1v1h-1zM883 427h1v1h-1zM884 427h1v1h-1zM885 427h1v1h-1zM886 426h1v1h-1zM887 426h1v1h-1zM888 426h1v1h-1zM889 427h1v1h-1zM890 427h1v1h-1zM891 427h1v1h-1zM892 427h1v1h-1zM893 427h1v1h-1zM894 426h1v1h-1zM895 426h1v1h-1zM896 425h1v1h-1zM897 423h1v2h-1zM898 422h1v1h-1zM899 421h1v1h-1zM900 419h1v2h-1zM901 417h1v2h-1zM902 415h1v2h-1zM903 413h1v2h-1zM904 411h1v2h-1zM905 409h1v2h-1zM906 407h1v2h-1zM907 404h1v3h-1zM908 402h1v2h-1zM909 400h1v2h-1zM910 398h1v2h-1zM911 395h1v3h-1zM912 392h1v3h-1zM913 390h1v2h-1zM914 387h1v3h-1zM915 385h1v2h-1zM916 384h1v1h-1zM917 382h1v2h-1zM918 381h1v1h-1zM919 380h1v1h-1zM920 379h1v1h-1zM921 378h1v1h-1zM922 377h1v1h-1zM923 376h1v1h-1zM924 376h1v1h-1zM925 375h1v1h-1zM926 375h1v1h-1zM927 374h1v1h-1zM928 375h1v1h-1zM929 376h1v1h-1zM930 376h1v1h-1zM931 377h1v1h-1zM932 378h1v2h-1zM933 380h1v1h-1zM934 381h1v2h-1zM935 383h1v1h-1zM936 384h1v1h-1zM937 385h1v1h-1zM938 386h1v1h-1zM939 387h1v1h-1zM940 388h1v1h-1zM941 389h1v1h-1zM942 389h1v1h-1zM943 390h1v1h-1zM944 391h1v2h-1zM945 393h1v2h-1zM946 395h1v2h-1zM947 397h1v2h-1zM948 399h1v1h-1zM949 399h1v1h-1zM950 400h1v1h-1zM951 400h1v1h-1zM952 400h1v1h-1zM953 400h1v1h-1zM954 400h1v1h-1zM955 400h1v1h-1zM956 401h1v1h-1zM957 402h1v2h-1zM958 404h1v1h-1zM959 405h1v2h-1zM960 407h1v2h-1zM961 409h1v3h-1zM962 412h1v2h-1zM963 414h1v2h-1zM964 416h1v2h-1zM965 418h1v1h-1zM966 419h1v2h-1zM967 421h1v2h-1zM968 423h1v2h-1zM969 425h1v2h-1zM970 427h1v2h-1zM971 429h1v2h-1zM972 431h1v2h-1zM973 433h1v2h-1zM974 435h1v2h-1zM975 437h1v1h-1zM976 438h1v1h-1zM977 439h1v1h-1zM978 440h1v1h-1zM979 441h1v1h-1zM980 439h1v2h-1zM981 438h1v1h-1zM982 436h1v2h-1zM983 435h1v1h-1zM984 434h1v1h-1zM985 434h1v1h-1zM986 433h1v1h-1zM987 432h1v1h-1zM988 431h1v1h-1zM989 430h1v1h-1zM990 429h1v1h-1zM991 428h1v1h-1zM992 428h1v1h-1zM993 428h1v1h-1zM994 427h1v1h-1zM995 427h1v1h-1zM996 428h1v1h-1zM997 428h1v1h-1zM998 429h1v1h-1zM999 429h1v1h-1zM1000 430h1v1h-1zM1001 431h1v2h-1zM1002 433h1v1h-1zM1003 434h1v1h-1zM1004 435h1v1h-1zM1005 436h1v1h-1zM1006 436h1v1h-1zM1007 437h1v1h-1zM1008 438h1v1h-1zM1009 439h1v1h-1zM1010 439h1v1h-1zM1011 440h1v1h-1zM1012 440h1v1h-1zM1013 441h1v1h-1zM1014 441h1v1h-1zM1015 441h1v1h-1zM1016 440h1v1h-1zM1017 438h1v2h-1zM1018 437h1v1h-1zM1019 436h1v1h-1zM1020 436h1v1h-1zM1021 435h1v1h-1zM1022 435h1v1h-1zM1023 433h1v2h-1zM1024 431h1v2h-1zM1025 429h1v2h-1zM1026 427h1v2h-1zM1027 424h1v3h-1zM1028 421h1v3h-1zM1029 418h1v3h-1zM1030 415h1v3h-1zM1031 412h1v3h-1zM1032 410h1v2h-1zM1033 407h1v3h-1zM1034 405h1v2h-1zM1035 403h1v2h-1zM1036 402h1v1h-1zM1037 400h1v2h-1zM1038 399h1v1h-1zM1039 398h1v1h-1zM1040 396h1v2h-1zM1041 395h1v1h-1zM1042 393h1v2h-1zM1043 392h1v2h-1zM1044 394h1v3h-1zM1045 397h1v2h-1zM1046 399h1v3h-1zM1047 402h1v3h-1zM1048 405h1v3h-1zM1049 408h1v3h-1zM1050 411h1v3h-1zM1051 414h1v3h-1zM1052 417h1v4h-1zM1053 421h1v4h-1zM1054 425h1v4h-1zM1055 429h1v3h-1zM1056 432h1v4h-1zM1057 436h1v4h-1zM1058 440h1v4h-1zM1059 444h1v3h-1zM1060 447h1v3h-1zM1061 450h1v3h-1zM1062 453h1v3h-1zM1063 456h1v2h-1zM1064 458h1v2h-1zM1065 460h1v2h-1zM1066 462h1v2h-1zM1067 464h1v2h-1zM1068 466h1v2h-1zM1069 468h1v1h-1zM1070 469h1v2h-1zM1071 471h1v1h-1zM1072 471h1v1h-1zM1073 470h1v1h-1zM1074 470h1v1h-1zM1075 469h1v1h-1zM1076 468h1v1h-1zM1077 466h1v2h-1zM1078 465h1v1h-1zM1079 464h1v1h-1zM1080 462h1v2h-1zM1081 461h1v1h-1zM1082 459h1v2h-1zM1083 457h1v2h-1zM1084 455h1v2h-1zM1085 453h1v2h-1zM1086 451h1v2h-1zM1087 449h1v2h-1zM1088 448h1v1h-1zM1089 448h1v1h-1zM1090 447h1v1h-1zM1091 446h1v1h-1zM1092 446h1v1h-1zM1093 446h1v1h-1zM1094 445h1v1h-1zM1095 445h1v1h-1zM1096 446h1v1h-1zM1097 446h1v1h-1zM1098 447h1v1h-1zM1099 447h1v1h-1zM1100 448h1v1h-1zM1101 449h1v1h-1zM1102 450h1v1h-1zM1103 451h1v1h-1zM1104 452h1v1h-1zM1105 453h1v1h-1zM1106 453h1v1h-1zM1107 454h1v1h-1zM1108 454h1v1h-1zM1109 454h1v1h-1zM1110 453h1v1h-1zM1111 453h1v1h-1zM1112 453h1v1h-1zM1113 453h1v1h-1zM1114 453h1v1h-1zM1115 453h1v1h-1zM1116 454h1v1h-1zM1117 454h1v1h-1zM1118 455h1v1h-1zM1119 455h1v1h-1zM1120 456h1v1h-1zM1121 457h1v1h-1zM1122 457h1v1h-1zM1123 458h1v1h-1zM1124 459h1v1h-1zM1125 460h1v1h-1zM1126 460h1v1h-1zM1127 461h1v1h-1zM1128 462h1v2h-1zM1129 464h1v1h-1zM1130 465h1v2h-1zM1131 467h1v1h-1zM1132 468h1v1h-1zM1133 469h1v2h-1zM1134 471h1v1h-1zM1135 472h1v1h-1zM1136 473h1v1h-1zM1137 474h1v1h-1zM1138 475h1v1h-1zM1139 476h1v1h-1zM1140 477h1v1h-1zM1141 478h1v1h-1zM1142 478h1v1h-1zM1143 479h1v1h-1zM1144 480h1v1h-1zM1145 481h1v1h-1zM1146 482h1v1h-1zM1147 483h1v1h-1zM1148 484h1v1h-1zM1149 485h1v2h-1zM1150 487h1v1h-1zM1151 488h1v2h-1zM1152 490h1v2h-1zM1153 492h1v2h-1zM1154 494h1v2h-1zM1155 496h1v3h-1zM1156 499h1v2h-1zM1157 501h1v2h-1zM1158 503h1v2h-1zM1159 505h1v2h-1zM1160 507h1v2h-1zM1161 509h1v2h-1zM1162 511h1v2h-1zM1163 513h1v2h-1zM1164 515h1v2h-1zM1165 517h1v2h-1zM1166 519h1v2h-1zM1167 521h1v1h-1zM1168 522h1v1h-1zM1169 523h1v1h-1zM1170 524h1v1h-1zM1171 525h1v1h-1zM1172 526h1v1h-1zM1173 527h1v2h-1zM1174 529h1v1h-1zM1175 530h1v1h-1zM1176 530h1v1h-1zM1177 530h1v1h-1zM1178 530h1v1h-1zM1179 530h1v1h-1zM1180 531h1v1h-1zM1181 531h1v1h-1zM1182 532h1v1h-1zM1183 532h1v1h-1zM1184 532h1v1h-1zM1185 533h1v1h-1zM1186 533h1v1h-1zM1187 533h1v1h-1zM1188 534h1v1h-1zM1189 535h1v1h-1zM1190 535h1v1h-1zM1191 536h1v1h-1zM1192 536h1v1h-1zM1193 535h1v1h-1zM1194 535h1v1h-1zM1195 534h1v1h-1zM1196 535h1v1h-1zM1197 536h1v1h-1zM1198 536h1v1h-1zM1199 537h1v1h-1zM1200 537h1v1h-1zM1201 537h1v1h-1zM1202 537h1v1h-1zM1203 537h1v1h-1zM1204 537h1v1h-1zM1205 537h1v1h-1zM1206 536h1v1h-1zM1207 536h1v1h-1zM1208 534h1v2h-1zM1209 532h1v2h-1zM1210 530h1v2h-1zM1211 528h1v2h-1zM1212 526h1v2h-1zM1213 524h1v2h-1zM1214 522h1v2h-1zM1215 520h1v2h-1zM1216 518h1v2h-1zM1217 516h1v2h-1zM1218 514h1v2h-1zM1219 513h1v1h-1zM1220 512h1v1h-1zM1221 512h1v1h-1zM1222 511h1v1h-1zM1223 510h1v1h-1zM1224 509h1v1h-1zM1225 509h1v1h-1zM1226 508h1v1h-1zM1227 507h1v1h-1zM1228 507h1v1h-1zM1229 507h1v1h-1zM1230 507h1v1h-1zM1231 507h1v1h-1zM1232 508h1v2h-1zM1233 510h1v1h-1zM1234 511h1v2h-1zM1235 513h1v1h-1zM1236 514h1v2h-1zM1237 516h1v1h-1zM1238 517h1v2h-1zM1239 519h1v1h-1zM1240 520h1v1h-1zM1241 521h1v2h-1zM1242 523h1v1h-1zM1243 524h1v1h-1zM1244 525h1v2h-1zM1245 527h1v2h-1zM1246 529h1v2h-1zM1247 531h1v1h-1zM1248 532h1v2h-1zM1249 534h1v1h-1zM1250 535h1v2h-1zM1251 537h1v1h-1zM1252 538h1v1h-1zM1253 539h1v1h-1zM1254 539h1v1h-1zM1255 540h1v1h-1zM1256 541h1v1h-1zM1257 542h1v1h-1zM1258 543h1v1h-1zM1259 544h1v1h-1zM1260 544h1v1h-1zM1261 544h1v1h-1zM1262 544h1v1h-1zM1263 544h1v1h-1zM1264 545h1v1h-1zM1265 545h1v1h-1zM1266 546h1v1h-1zM1267 546h1v1h-1z"/>
<path fill="#1e90ff" d="M3 658h1v1h-1zM4 658h1v1h-1zM5 658h1v1h-1zM6 657h1v1h-1zM7 657h1v1h-1zM8 658h1v1h-1zM9 658h1v1h-1zM10 659h1v1h-1zM11 658h1v2h-1zM12 655h1v3h-1zM13 653h1v2h-1zM14 650h1v3h-1zM15 648h1v2h-1zM16 647h1v1h-1zM17 646h1v1h-1zM18 645h1v1h-1zM19 643h1v2h-1zM20 641h1v2h-1zM21 638h1v3h-1zM22 636h1v2h-1zM23 634h1v2h-1zM24 635h1v2h-1zM25 637h1v1h-1zM26 638h1v2h-1zM27 640h1v1h-1zM28 640h1v1h-1zM29 640h1v1h-1zM30 639h1v1h-1zM31 639h1v1h-1zM32 639h1v1h-1zM33 640h1v1h-1zM34 640h1v1h-1zM35 640h1v1h-1zM36 639h1v1h-1zM37 639h1v1h-1zM38 638h1v1h-1zM39 637h1v1h-1zM40 638h1v1h-1zM41 639h1v1h-1zM42 639h1v1h-1zM43 640h1v1h-1zM44 640h1v1h-1zM45 641h1v1h-1zM46 641h1v1h-1zM47 641h1v1h-1zM48 640h1v1h-1zM49 640h1v1h-1zM50 639h1v1h-1zM51 638h1v1h-1zM52 638h1v1h-1zM53 637h1v1h-1zM54 637h1v1h-1zM55 636h1v1h-1zM56 636h1v1h-1zM57 637h1v1h-1zM58 637h1v1h-1zM59 637h1v1h-1zM60 637h1v1h-1zM61 637h1v1h-1zM62 637h1v1h-1zM63 636h1v2h-1zM64 634h1v2h-1zM65 631h1v3h-1zM66 629h1v2h-1zM67 627h1v2h-1zM68 626h1v1h-1zM69 625h1v1h-1zM70 624h1v1h-1zM71 623h1v1h-1zM72 624h1v1h-1zM73 624h1v1h-1zM74 625h1v1h-1zM75 625h1v1h-1zM76 625h1v1h-1zM77 625h1v1h-1zM78 624h1v1h-1zM79 624h1v1h-1zM80 623h1v1h-1zM81 622h1v1h-1zM82 621h1v1h-1zM83 620h1v1h-1zM84 620h1v1h-1zM85 620h1v1h-1zM86 619h1v1h-1zM87 619h1v1h-1zM88 618h1v1h-1zM89 618h1v1h-1zM90 617h1v1h-1zM91 616h1v1h-1zM92 616h1v1h-1zM93 615h1v1h-1zM94 615h1v1h-1zM95 614h1v1h-1zM96 614h1v1h-1zM97 614h1v1h-1zM98 614h1v1h-1zM99 614h1v1h-1zM100 614h1v1h-1zM101 614h1v1h-1zM102 613h1v1h-1zM103 613h1v1h-1zM104 612h1v1h-1zM105 612h1v1h-1zM106 611h1v1h-1zM107 610h1v1h-1zM108 610h1v1h-1zM109 609h1v1h-1zM110 609h1v1h-1zM111 608h1v1h-1zM112 608h1v1h-1zM113 608h1v1h-1zM114 607h1v1h-1zM115 607h1v1h-1zM116 607h1v1h-1zM117 607h1v1h-1zM118 607h1v1h-1zM119 607h1v1h-1zM120 607h1v1h-1zM121 607h1v1h-1zM122 606h1v1h-1zM123 606h1v1h-1zM124 606h1v1h-1zM125 607h1v1h-1zM126 607h1v1h-1zM127 607h1v1h-1zM128 607h1v1h-1zM129 606h1v1h-1zM130 606h1v1h-1zM131 605h1v2h-1zM132 607h1v3h-1zM133 610h1v2h-1zM134 612h1v3h-1zM135 615h1v2h-1zM136 617h1v2h-1zM137 619h1v1h-1zM138 620h1v2h-1zM139 622h1v1h-1zM140 623h1v1h-1zM141 624h1v1h-1zM142 624h1v1h-1zM143 625h1v1h-1zM144 625h1v1h-1zM145 625h1v1h-1zM146 625h1v1h-1zM147 625h1v1h-1zM148 625h1v1h-1zM149 626h1v1h-1zM150 626h1v1h-1zM151 626h1v1h-1zM152 627h1v1h-1zM153 628h1v1h-1zM154 628h1v1h-1zM155 629h1v1h-1zM156 628h1v1h-1zM157 628h1v1h-1zM158 627h1v1h-1zM159 626h1v1h-1zM160 627h1v1h-1zM161 628h1v2h-1zM162 630h1v1h-1zM163 631h1v1h-1zM164 631h1v1h-1zM165 632h1v1h-1zM166 632h1v1h-1zM167 632h1v1h-1zM168 633h1v1h-1zM169 633h1v1h-1zM170 634h1v1h-1zM171 634h1v1h-1zM172 635h1v1h-1zM173 636h1v1h-1zM174 637h1v1h-1zM175 637h1v2h-1zM176 634h1v3h-1zM177 632h1v2h-1zM178 629h1v3h-1zM179 627h1v2h-1zM180 626h1v1h-1zM181 624h1v2h-1zM182 623h1v1h-1zM183 622h1v1h-1zM184 622h1v1h-1zM185 621h1v1h-1zM186 621h1v1h-1zM187 620h1v1h-1zM188 618h1v2h-1zM189 616h1v2h-1zM190 614h1v2h-1zM191 613h1v1h-1zM192 611h1v2h-1zM193 610h1v1h-1zM194 608h1v2h-1zM195 607h1v1h-1zM196 608h1v1h-1zM197 609h1v2h-1zM198 611h1v1h-1zM199 612h1v1h-1zM200 613h1v1h-1zM201 614h1v1h-1zM202 615h1v1h-1zM203 616h1v2h-1zM204 618h1v2h-1zM205 620h1v3h-1zM206 623h1v2h-1zM207 625h1v2h-1zM208 624h1v2h-1zM209 622h1v2h-1zM210 620h1v2h-1zM211 619h1v1h-1zM212 619h1v1h-1zM213 619h1v1h-1zM214 619h1v1h-1zM215 619h1v1h-1zM216 619h1v1h-1zM217 618h1v1h-1zM218 618h1v1h-1zM219 617h1v1h-1zM220 617h1v1h-1zM221 617h1v1h-1zM222 617h1v1h-1zM223 616h1v2h-1zM224 614h1v2h-1zM225 612h1v2h-1zM226 610h1v2h-1zM227 607h1v3h-1zM228 605h1v2h-1zM229 603h1v2h-1zM230 601h1v2h-1zM231 599h1v2h-1zM232 600h1v1h-1zM233 601h1v2h-1zM234 603h1v1h-1zM235 604h1v1h-1zM236 603h1v1h-1zM237 602h1v1h-1zM238 601h1v1h-1zM239 600h1v1h-1zM240 600h1v1h-1zM241 599h1v1h-1zM242 599h1v1h-1zM243 598h1v1h-1zM244 599h1v2h-1zM245 601h1v2h-1zM246 603h1v2h-1zM247 605h1v2h-1zM248 606h1v1h-1zM249 605h1v1h-1zM250 605h1v1h-1zM251 604h1v1h-1zM252 603h1v1h-1zM253 602h1v1h-1zM254 601h1v1h-1zM255 600h1v1h-1zM256 599h1v1h-1zM257 598h1v1h-1zM258 597h1v1h-1zM259 596h1v1h-1zM260 597h1v1h-1zM261 598h1v2h-1zM262 600h1v1h-1zM263 601h1v1h-1zM264 602h1v2h-1zM265 604h1v1h-1zM266 605h1v2h-1zM267 607h1v1h-1zM268 607h1v1h-1zM269 607h1v1h-1zM270 606h1v1h-1zM271 606h1v1h-1zM272 606h1v1h-1zM273 605h1v1h-1zM274 605h1v1h-1zM275 604h1v1h-1zM276 605h1v1h-1zM277 606h1v1h-1zM278 607h1v1h-1zM279 608h1v2h-1zM280 610h1v2h-1zM281 612h1v2h-1zM282 614h1v2h-1zM283 616h1v3h-1zM284 619h1v4h-1zM285 623h1v3h-1zM286 626h1v4h-1zM287 630h1v2h-1zM288 631h1v1h-1zM289 631h1v1h-1zM290 630h1v1h-1zM291 630h1v1h-1zM292 631h1v1h-1zM293 632h1v2h-1zM294 634h1v1h-1zM295 635h1v1h-1zM296 633h1v2h-1zM297 631h1v2h-1zM298 629h1v2h-1zM299 627h1v2h-1zM300 628h1v1h-1zM301 628h1v1h-1zM302 629h1v1h-1zM303 629h1v1h-1zM304 628h1v1h-1zM305 628h1v1h-1zM306 627h1v1h-1zM307 626h1v1h-1zM308 627h1v1h-1zM309 628h1v1h-1zM310 629h1v1h-1zM311 630h1v1h-1zM312 630h1v1h-1zM313 630h1v1h-1zM314 630h1v1h-1zM315 630h1v1h-1zM316 630h1v1h-1zM317 630h1v1h-1zM318 629h1v1h-1zM319 629h1v1h-1zM320 629h1v1h-1zM321 630h1v1h-1zM322 630h1v1h-1zM323 630h1v1h-1zM324 631h1v2h-1zM325 633h1v1h-1zM326 634h1v2h-1zM327 636h1v1h-1zM328 636h1v1h-1zM329 636h1v1h-1zM330 635h1v1h-1zM331 635h1v1h-1zM332 635h1v1h-1zM333 636h1v1h-1zM334 636h1v1h-1zM335 636h1v1h-1zM336 636h1v1h-1zM337 637h1v1h-1zM338 637h1v1h-1zM339 637h1v1h-1zM340 637h1v1h-1zM341 637h1v1h-1zM342 637h1v1h-1zM343 637h1v1h-1zM344 637h1v1h-1zM345 637h1v1h-1zM346 637h1v1h-1zM347 637h1v1h-1zM348 638h1v1h-1zM349 639h1v1h-1zM350 639h1v1h-1zM351 639h1v2h-1zM352 637h1v2h-1zM353 634h1v3h-1zM354 632h1v2h-1zM355 630h1v2h-1zM356 630h1v1h-1zM357 629h1v1h-1zM358 629h1v1h-1zM359 628h1v1h-1zM360 629h1v2h-1zM361 631h1v1h-1zM362 632h1v2h-1zM363 634h1v1h-1zM364 634h1v1h-1zM365 634h1v1h-1zM366 634h1v1h-1zM367 634h1v1h-1zM368 634h1v1h-1zM369 633h1v1h-1zM370 633h1v1h-1zM371 632h1v1h-1zM372 630h1v2h-1zM373 629h1v1h-1zM374 627h1v2h-1zM375 626h1v1h-1zM376 627h1v1h-1zM377 628h1v1h-1zM378 629h1v1h-1zM379 630h1v1h-1zM380 631h1v1h-1zM381 632h1v2h-1zM382 634h1v1h-1zM383 635h1v1h-1zM384 634h1v1h-1zM385 634h1v1h-1zM386 633h1v1h-1zM387 632h1v1h-1zM388 632h1v1h-1zM389 632h1v1h-1zM390 632h1v1h-1zM391 632h1v1h-1zM392 633h1v1h-1zM393 634h1v1h-1zM394 634h1v1h-1zM395 635h1v1h-1zM396 636h1v1h-1zM397 636h1v1h-1zM398 637h1v1h-1zM399 637h1v1h-1zM400 638h1v1h-1zM401 639h1v1h-1zM402 639h1v1h-1zM403 640h1v1h-1zM404 640h1v1h-1zM405 641h1v1h-1zM406 641h1v1h-1zM407 640h1v2h-1zM408 638h1v2h-1zM409 635h1v3h-1zM410 633h1v2h-1zM411 631h1v2h-1zM412 631h1v1h-1zM413 632h1v1h-1zM414 632h1v1h-1zM415 632h1v1h-1zM416 632h1v1h-1zM417 632h1v1h-1zM418 632h1v1h-1zM419 632h1v1h-1zM420 633h1v1h-1zM421 634h1v1h-1zM422 634h1v1h-1zM423 635h1v1h-1zM424 633h1v2h-1zM425 632h1v1h-1zM426 630h1v2h-1zM427 629h1v2h-1zM428 631h1v2h-1zM429 633h1v2h-1zM430 635h1v2h-1zM431 637h1v2h-1zM432 639h1v1h-1zM433 640h1v1h-1zM434 640h1v1h-1zM435 641h1v1h-1zM436 641h1v1h-1zM437 640h1v1h-1zM438 640h1v1h-1zM439 639h1v1h-1zM440 638h1v1h-1zM441 636h1v2h-1zM442 635h1v1h-1zM443 634h1v1h-1zM444 634h1v1h-1zM445 635h1v1h-1zM446 635h1v1h-1zM447 635h1v1h-1zM448 634h1v1h-1zM449 633h1v1h-1zM450 632h1v1h-1zM451 631h1v1h-1zM452 631h1v1h-1zM453 631h1v1h-1zM454 631h1v1h-1zM455 631h1v1h-1zM456 631h1v1h-1zM457 631h1v1h-1zM458 631h1v1h-1zM459 631h1v1h-1zM460 631h1v1h-1zM461 631h1v1h-1zM462 630h1v1h-1zM463 630h1v2h-1zM464 632h1v2h-1zM465 634h1v2h-1zM466 636h1v2h-1zM467 638h1v2h-1zM468 640h1v1h-1zM469 641h1v1h-1zM470 642h1v1h-1zM471 643h1v1h-1zM472 643h1v1h-1zM473 642h1v1h-1zM474 642h1v1h-1zM475 641h1v1h-1zM476 641h1v1h-1zM477 640h1v1h-1zM478 640h1v1h-1zM479 639h1v1h-1zM480 638h1v1h-1zM481 636h1v2h-1zM482 635h1v1h-1zM483 634h1v1h-1zM484 634h1v1h-1zM485 635h1v1h-1zM486 635h1v1h-1zM487 635h1v1h-1zM488 636h1v1h-1zM489 636h1v1h-1zM490 637h1v1h-1zM491 637h1v1h-1zM492 638h1v2h-1zM493 640h1v2h-1zM494 642h1v2h-1zM495 644h1v2h-1zM496 646h1v1h-1zM497 646h1v1h-1zM498 647h1v1h-1zM499 647h1v1h-1zM500 647h1v1h-1zM501 648h1v1h-1zM502 648h1v1h-1zM503 648h1v1h-1zM504 647h1v1h-1zM505 646h1v1h-1zM506 645h1v1h-1zM507 644h1v1h-1zM508 645h1v1h-1zM509 645h1v1h-1zM510 646h1v1h-1zM511 646h1v1h-1zM512 647h1v2h-1zM513 649h1v2h-1zM514 651h1v2h-1zM515 653h1v1h-1zM516 654h1v1h-1zM517 655h1v1h-1zM518 655h1v1h-1zM519 656h1v1h-1zM520 656h1v1h-1zM521 657h1v1h-1zM522 657h1v1h-1zM523 657h1v1h-1zM524 657h1v1h-1zM525 656h1v1h-1zM526 656h1v1h-1zM527 655h1v1h-1zM528 656h1v1h-1zM529 657h1v1h-1zM530 657h1v1h-1zM531 658h1v1h-1zM532 658h1v1h-1zM533 658h1v1h-1zM534 658h1v1h-1zM535 658h1v1h-1zM536 659h1v1h-1zM537 659h1v1h-1zM538 660h1v1h-1zM539 660h1v1h-1zM540 659h1v1h-1zM541 657h1v2h-1zM542 656h1v1h-1zM543 655h1v1h-1zM544 656h1v1h-1zM545 656h1v1h-1zM546 657h1v1h-1zM547 656h1v2h-1zM548 652h1v4h-1zM549 649h1v3h-1zM550 645h1v4h-1zM551 643h1v2h-1zM552 643h1v1h-1zM553 642h1v1h-1zM554 642h1v1h-1zM555 641h1v1h-1zM556 641h1v1h-1zM557 640h1v1h-1zM558 640h1v1h-1zM559 639h1v1h-1zM560 639h1v1h-1zM561 639h1v1h-1zM562 639h1v1h-1zM563 639h1v1h-1zM564 640h1v1h-1zM565 641h1v1h-1zM566 641h1v1h-1zM567 642h1v1h-1zM568 642h1v1h-1zM569 642h1v1h-1zM570 641h1v1h-1zM571 641h1v1h-1zM572 641h1v1h-1zM573 641h1v1h-1zM574 640h1v1h-1zM575 640h1v1h-1zM576 640h1v1h-1zM577 639h1v1h-1zM578 639h1v1h-1zM579 638h1v1h-1zM580 638h1v1h-1zM581 638h1v1h-1zM582 638h1v1h-1zM583 638h1v1h-1zM584 639h1v1h-1zM585 640h1v2h-1zM586 642h1v1h-1zM587 643h1v1h-1zM588 644h1v1h-1zM589 644h1v1h-1zM590 645h1v1h-1zM591 645h1v1h-1zM592 643h1v2h-1zM593 641h1v2h-1zM594 639h1v2h-1zM595 637h1v2h-1zM596 636h1v1h-1zM597 634h1v2h-1zM598 633h1v1h-1zM599 632h1v1h-1zM600 632h1v1h-1zM601 631h1v1h-1zM602 631h1v1h-1zM603 630h1v1h-1zM604 631h1v1h-1zM605 632h1v1h-1zM606 632h1v1h-1zM607 633h1v1h-1zM608 633h1v1h-1zM609 632h1v1h-1zM610 632h1v1h-1zM611 631h1v1h-1zM612 632h1v2h-1zM613 634h1v1h-1zM614 635h1v2h-1zM615 637h1v1h-1zM616 638h1v1h-1zM617 638h1v1h-1zM618 639h1v1h-1zM619 639h1v1h-1zM620 639h1v1h-1zM621 639h1v1h-1zM622 638h1v1h-1zM623 638h1v1h-1zM624 639h1v1h-1zM625 639h1v1h-1zM626 640h1v1h-1zM627 640h1v1h-1zM628 640h1v1h-1zM629 640h1v1h-1zM630 640h1v1h-1zM631 640h1v1h-1zM632 641h1v1h-1zM633 641h1v1h-1zM634 642h1v1h-1zM635 642h1v1h-1zM636 640h1v2h-1zM637 639h1v1h-1zM638 637h1v2h-1zM639 636h1v1h-1zM640 637h1v1h-1zM641 638h1v2h-1zM642 640h1v1h-1zM643 641h1v1h-1zM644 640h1v1h-1zM645 640h1v1h-1zM646 639h1v1h-1zM647 638h1v1h-1zM648 638h1v1h-1zM649 637h1v1h-1zM650 637h1v1h-1zM651 636h1v1h-1zM652 636h1v1h-1zM653 636h1v1h-1zM654 636h1v1h-1zM655 636h1v1h-1zM656 637h1v1h-1zM657 637h1v1h-1zM658 638h1v1h-1zM659 638h1v1h-1zM660 637h1v1h-1zM661 636h1v1h-1zM662 635h1v1h-1zM663 634h1v1h-1zM664 635h1v2h-1zM665 637h1v2h-1zM666 639h1v2h-1zM667 641h1v2h-1zM668 642h1v1h-1zM669 641h1v1h-1zM670 641h1v1h-1zM671 640h1v1h-1zM672 639h1v1h-1zM673 639h1v1h-1zM674 638h1v1h-1zM675 637h1v1h-1zM676 637h1v1h-1zM677 637h1v1h-1zM678 636h1v1h-1zM679 636h1v1h-1zM680 637h1v1h-1zM681 638h1v2h-1zM682 640h1v1h-1zM683 641h1v1h-1zM684 642h1v2h-1zM685 644h1v2h-1zM686 646h1v2h-1zM687 648h1v1h-1zM688 649h1v1h-1zM689 649h1v1h-1zM690 650h1v1h-1zM691 650h1v1h-1zM692 651h1v1h-1zM693 651h1v1h-1zM694 652h1v1h-1zM695 652h1v1h-1zM696 650h1v2h-1zM697 648h1v2h-1zM698 646h1v2h-1zM699 645h1v1h-1zM700 645h1v1h-1zM701 646h1v1h-1zM702 646h1v1h-1zM703 646h1v1h-1zM704 647h1v1h-1zM705 648h1v1h-1zM706 648h1v1h-1zM707 649h1v1h-1zM708 649h1v1h-1zM709 650h1v1h-1zM710 650h1v1h-1zM711 650h1v1h-1zM712 650h1v1h-1zM713 650h1v1h-1zM714 649h1v1h-1zM715 649h1v1h-1zM716 647h1v2h-1zM717 645h1v2h-1zM718 643h1v2h-1zM719 641h1v2h-1zM720 642h1v1h-1zM721 643h1v1h-1zM722 644h1v1h-1zM723 645h1v1h-1zM724 645h1v1h-1zM725 645h1v1h-1zM726 645h1v1h-1zM727 645h1v1h-1zM728 644h1v1h-1zM729 644h1v1h-1zM730 643h1v1h-1zM731 642h1v1h-1zM732 643h1v1h-1zM733 644h1v1h-1zM734 645h1v1h-1zM735 646h1v1h-1zM736 647h1v2h-1zM737 649h1v2h-1zM738 651h1v2h-1zM739 653h1v1h-1zM740 652h1v1h-1zM741 652h1v1h-1zM742 651h1v1h-1zM743 649h1v2h-1zM744 646h1v3h-1zM745 643h1v3h-1zM746 640h1v3h-1zM747 638h1v2h-1zM748 638h1v1h-1zM749 639h1v1h-1zM750 639h1v1h-1zM751 639h1v1h-1zM752 640h1v1h-1zM753 641h1v1h-1zM754 641h1v1h-1zM755 642h1v1h-1zM756 643h1v1h-1zM757 644h1v1h-1zM758 645h1v1h-1zM759 646h1v1h-1zM760 647h1v1h-1zM761 647h1v1h-1zM762 648h1v1h-1zM763 648h1v1h-1zM764 649h1v1h-1zM765 650h1v1h-1zM766 650h1v1h-1zM767 651h1v1h-1zM768 650h1v1h-1zM769 648h1v2h-1zM770 647h1v1h-1zM771 646h1v1h-1zM772 646h1v1h-1zM773 646h1v1h-1zM774 646h1v1h-1zM775 646h1v1h-1zM776 647h1v1h-1zM777 648h1v1h-1zM778 649h1v1h-1zM779 650h1v1h-1zM780 650h1v1h-1zM781 651h1v1h-1zM782 651h1v1h-1zM783 651h1v1h-1zM784 651h1v1h-1zM785 652h1v1h-1zM786 652h1v1h-1zM787 652h1v1h-1zM788 652h1v1h-1zM789 652h1v1h-1zM790 651h1v1h-1zM791 651h1v1h-1zM792 650h1v1h-1zM793 650h1v1h-1zM794 649h1v1h-1zM795 648h1v1h-1zM796 648h1v1h-1zM797 649h1v1h-1zM798 649h1v1h-1zM799 649h1v1h-1zM800 648h1v1h-1zM801 647h1v1h-1zM802 646h1v1h-1zM803 645h1v1h-1zM804 645h1v1h-1zM805 646h1v1h-1zM806 646h1v1h-1zM807 646h1v1h-1zM808 647h1v1h-1zM809 648h1v1h-1zM810 649h1v1h-1zM811 650h1v1h-1zM812 651h1v1h-1zM813 652h1v1h-1zM814 652h1v1h-1zM815 653h1v1h-1zM816 653h1v1h-1zM817 654h1v1h-1zM818 654h1v1h-1zM819 654h1v1h-1zM820 654h1v1h-1zM821 655h1v1h-1zM822 655h1v1h-1zM823 655h1v1h-1zM824 656h1v1h-1zM825 657h1v1h-1zM826 658h1v1h-1zM827 659h1v1h-1zM828 659h1v1h-1zM829 658h1v1h-1zM830 658h1v1h-1zM831 657h1v1h-1zM832 656h1v1h-1zM833 656h1v1h-1zM834 655h1v1h-1zM835 653h1v2h-1zM836 650h1v3h-1zM837 648h1v2h-1zM838 645h1v3h-1zM839 643h1v2h-1zM840 644h1v1h-1zM841 645h1v1h-1zM842 645h1v1h-1zM843 646h1v1h-1zM844 647h1v1h-1zM845 648h1v1h-1zM846 649h1v1h-1zM847 650h1v1h-1zM848 649h1v1h-1zM849 647h1v2h-1zM850 646h1v1h-1zM851 644h1v2h-1zM852 641h1v3h-1zM853 638h1v3h-1zM854 635h1v3h-1zM855 633h1v2h-1zM856 634h1v1h-1zM857 635h1v1h-1zM858 635h1v1h-1zM859 636h1v1h-1zM860 636h1v1h-1zM861 636h1v1h-1zM862 636h1v1h-1zM863 636h1v1h-1zM864 635h1v1h-1zM865 635h1v1h-1zM866 634h1v1h-1zM867 633h1v1h-1zM868 633h1v1h-1zM869 633h1v1h-1zM870 633h1v1h-1zM871 633h1v1h-1zM872 633h1v1h-1zM873 634h1v1h-1zM874 634h1v1h-1zM875 634h1v1h-1zM876 634h1v1h-1zM877 633h1v1h-1zM878 633h1v1h-1zM879 632h1v1h-1zM880 633h1v1h-1zM881 634h1v1h-1zM882 635h1v1h-1zM883 636h1v1h-1zM884 635h1v1h-1zM885 634h1v1h-1zM886 633h1v1h-1zM887 632h1v1h-1zM888 633h1v1h-1zM889 633h1v1h-1zM890 634h1v1h-1zM891 634h1v1h-1zM892 634h1v1h-1zM893 634h1v1h-1zM894 633h1v1h-1zM895 632h1v2h-1zM896 630h1v2h-1zM897 627h1v3h-1zM898 625h1v2h-1zM899 623h1v2h-1zM900 623h1v1h-1zM901 623h1v1h-1zM902 622h1v1h-1zM903 622h1v1h-1zM904 621h1v1h-1zM905 619h1v2h-1zM906 618h1v1h-1zM907 617h1v1h-1zM908 617h1v1h-1zM909 617h1v1h-1zM910 617h1v1h-1zM911 617h1v1h-1zM912 617h1v1h-1zM913 616h1v1h-1zM914 616h1v1h-1zM915 615h1v1h-1zM916 616h1v1h-1zM917 616h1v1h-1zM918 617h1v1h-1zM919 617h1v1h-1zM920 618h1v1h-1zM921 618h1v1h-1zM922 619h1v1h-1zM923 619h1v1h-1zM924 619h1v1h-1zM925 618h1v1h-1zM926 618h1v1h-1zM927 617h1v2h-1zM928 619h1v3h-1zM929 622h1v3h-1zM930 625h1v3h-1zM931 628h1v2h-1zM932 630h1v1h-1zM933 631h1v1h-1zM934 631h1v1h-1zM935 632h1v1h-1zM936 632h1v1h-1zM937 631h1v1h-1zM938 631h1v1h-1zM939 630h1v1h-1zM940 631h1v1h-1zM941 631h1v1h-1zM942 632h1v1h-1zM943 632h1v1h-1zM944 633h1v1h-1zM945 634h1v1h-1zM946 635h1v1h-1zM947 636h1v1h-1zM948 636h1v1h-1zM949 636h1v1h-1zM950 635h1v1h-1zM951 635h1v1h-1zM952 635h1v1h-1zM953 634h1v1h-1zM954 634h1v1h-1zM955 633h1v1h-1zM956 634h1v2h-1zM957 636h1v2h-1zM958 638h1v2h-1zM959 640h1v2h-1zM960 642h1v2h-1zM961 644h1v2h-1zM962 646h1v2h-1zM963 648h1v2h-1zM964 649h1v1h-1zM965 648h1v1h-1zM966 648h1v1h-1zM967 647h1v1h-1zM968 648h1v1h-1zM969 648h1v1h-1zM970 649h1v1h-1zM971 649h1v1h-1zM972 648h1v1h-1zM973 646h1v2h-1zM974 645h1v1h-1zM975 644h1v1h-1zM976 644h1v1h-1zM977 645h1v1h-1zM978 645h1v1h-1zM979 644h1v2h-1zM980 641h1v3h-1zM981 638h1v3h-1zM982 635h1v3h-1zM983 633h1v2h-1zM984 634h1v1h-1zM985 635h1v2h-1zM986 637h1v1h-1zM987 638h1v1h-1zM988 638h1v1h-1zM989 639h1v1h-1zM990 639h1v1h-1zM991 639h1v1h-1zM992 640h1v1h-1zM993 640h1v1h-1zM994 641h1v1h-1zM995 641h1v1h-1zM996 642h1v1h-1zM997 643h1v1h-1zM998 643h1v1h-1zM999 644h1v1h-1zM1000 644h1v1h-1zM1001 644h1v1h-1zM1002 643h1v1h-1zM1003 643h1v1h-1zM1004 643h1v1h-1zM1005 643h1v1h-1zM1006 642h1v1h-1zM1007 642h1v1h-1zM1008 642h1v1h-1zM1009 642h1v1h-1zM1010 642h1v1h-1zM1011 642h1v1h-1zM1012 642h1v1h-1zM1013 642h1v1h-1zM1014 642h1v1h-1zM1015 641h1v2h-1zM1016 639h1v2h-1zM1017 636h1v3h-1zM1018 634h1v2h-1zM1019 632h1v2h-1zM1020 633h1v2h-1zM1021 635h1v1h-1zM1022 636h1v2h-1zM1023 637h1v2h-1zM1024 633h1v4h-1zM1025 630h1v3h-1zM1026 626h1v4h-1zM1027 624h1v2h-1zM1028 623h1v1h-1zM1029 623h1v1h-1zM1030 622h1v1h-1zM1031 621h1v1h-1zM1032 622h1v1h-1zM1033 623h1v1h-1zM1034 623h1v1h-1zM1035 624h1v1h-1zM1036 625h1v1h-1zM1037 625h1v1h-1zM1038 626h1v1h-1zM1039 626h1v1h-1zM1040 627h1v1h-1zM1041 628h1v1h-1zM1042 629h1v1h-1zM1043 630h1v2h-1zM1044 632h1v4h-1zM1045 636h1v3h-1zM1046 639h1v4h-1zM1047 643h1v2h-1zM1048 643h1v1h-1zM1049 643h1v1h-1zM1050 642h1v1h-1zM1051 641h1v1h-1zM1052 642h1v2h-1zM1053 644h1v1h-1zM1054 645h1v2h-1zM1055 647h1v1h-1zM1056 647h1v1h-1zM1057 647h1v1h-1zM1058 647h1v1h-1zM1059 647h1v1h-1zM1060 647h1v1h-1zM1061 647h1v1h-1zM1062 647h1v1h-1zM1063 647h1v1h-1zM1064 648h1v1h-1zM1065 649h1v1h-1zM1066 650h1v1h-1zM1067 651h1v1h-1zM1068 650h1v1h-1zM1069 648h1v2h-1zM1070 647h1v1h-1zM1071 646h1v1h-1zM1072 645h1v1h-1zM1073 643h1v2h-1zM1074 642h1v1h-1zM1075 641h1v1h-1zM1076 640h1v1h-1zM1077 639h1v1h-1zM1078 638h1v1h-1zM1079 637h1v1h-1zM1080 636h1v1h-1zM1081 635h1v1h-1zM1082 634h1v1h-1zM1083 633h1v1h-1zM1084 634h1v1h-1zM1085 634h1v1h-1zM1086 635h1v1h-1zM1087 635h1v1h-1zM1088 636h1v1h-1zM1089 637h1v2h-1zM1090 639h1v1h-1zM1091 640h1v1h-1zM1092 640h1v1h-1zM1093 639h1v1h-1zM1094 639h1v1h-1zM1095 638h1v1h-1zM1096 639h1v1h-1zM1097 639h1v1h-1zM1098 640h1v1h-1zM1099 640h1v1h-1zM1100 640h1v1h-1zM1101 639h1v1h-1zM1102 639h1v1h-1zM1103 638h1v1h-1zM1104 639h1v1h-1zM1105 639h1v1h-1zM1106 640h1v1h-1zM1107 640h1v1h-1zM1108 639h1v1h-1zM1109 639h1v1h-1zM1110 638h1v1h-1zM1111 637h1v1h-1zM1112 637h1v1h-1zM1113 637h1v1h-1zM1114 637h1v1h-1zM1115 637h1v1h-1zM1116 638h1v2h-1zM1117 640h1v1h-1zM1118 641h1v2h-1zM1119 643h1v1h-1zM1120 643h1v1h-1zM1121 644h1v1h-1zM1122 644h1v1h-1zM1123 644h1v1h-1zM1124 644h1v1h-1zM1125 644h1v1h-1zM1126 644h1v1h-1zM1127 644h1v1h-1zM1128 645h1v1h-1zM1129 646h1v1h-1zM1130 646h1v1h-1zM1131 647h1v1h-1zM1132 647h1v1h-1zM1133 647h1v1h-1zM1134 646h1v1h-1zM1135 646h1v1h-1zM1136 647h1v1h-1zM1137 647h1v1h-1zM1138 648h1v1h-1zM1139 648h1v1h-1zM1140 648h1v1h-1zM1141 648h1v1h-1zM1142 648h1v1h-1zM1143 648h1v1h-1zM1144 649h1v1h-1zM1145 649h1v1h-1zM1146 650h1v1h-1zM1147 650h1v1h-1zM1148 651h1v1h-1zM1149 652h1v2h-1zM1150 654h1v1h-1zM1151 655h1v1h-1zM1152 656h1v1h-1zM1153 657h1v1h-1zM1154 658h1v1h-1zM1155 659h1v1h-1zM1156 659h1v1h-1zM1157 660h1v1h-1zM1158 660h1v1h-1zM1159 660h1v1h-1zM1160 659h1v1h-1zM1161 658h1v1h-1zM1162 657h1v1h-1zM1163 656h1v1h-1zM1164 656h1v1h-1zM1165 657h1v1h-1zM1166 657h1v1h-1zM1167 657h1v1h-1zM1168 657h1v1h-1zM1169 656h1v1h-1zM1170 656h1v1h-1zM1171 655h1v1h-1zM1172 656h1v1h-1zM1173 657h1v2h-1zM1174 659h1v1h-1zM1175 659h1v2h-1zM1176 657h1v2h-1zM1177 655h1v2h-1zM1178 653h1v2h-1zM1179 651h1v2h-1zM1180 651h1v1h-1zM1181 652h1v1h-1zM1182 652h1v1h-1zM1183 652h1v1h-1zM1184 652h1v1h-1zM1185 652h1v1h-1zM1186 652h1v1h-1zM1187 652h1v1h-1zM1188 653h1v1h-1zM1189 653h1v1h-1zM1190 654h1v1h-1zM1191 654h1v1h-1zM1192 653h1v1h-1zM1193 653h1v1h-1zM1194 652h1v1h-1zM1195 651h1v1h-1zM1196 652h1v1h-1zM1197 653h1v1h-1zM1198 653h1v1h-1zM1199 653h1v2h-1zM1200 651h1v2h-1zM1201 649h1v2h-1zM1202 647h1v2h-1zM1203 645h1v2h-1zM1204 645h1v1h-1zM1205 645h1v1h-1zM1206 644h1v1h-1zM1207 643h1v2h-1zM1208 641h1v2h-1zM1209 638h1v3h-1zM1210 636h1v2h-1zM1211 634h1v2h-1zM1212 633h1v1h-1zM1213 631h1v2h-1zM1214 630h1v1h-1zM1215 629h1v1h-1zM1216 630h1v2h-1zM1217 632h1v1h-1zM1218 633h1v2h-1zM1219 635h1v1h-1zM1220 636h1v1h-1zM1221 636h1v1h-1zM1222 637h1v1h-1zM1223 637h1v1h-1zM1224 637h1v1h-1zM1225 637h1v1h-1zM1226 637h1v1h-1zM1227 637h1v1h-1zM1228 637h1v1h-1zM1229 636h1v1h-1zM1230 636h1v1h-1zM1231 635h1v1h-1zM1232 636h1v1h-1zM1233 637h1v2h-1zM1234 639h1v1h-1zM1235 640h1v1h-1zM1236 641h1v1h-1zM1237 642h1v1h-1zM1238 643h1v1h-1zM1239 644h1v1h-1zM1240 645h1v1h-1zM1241 645h1v1h-1zM1242 646h1v1h-1zM1243 646h1v1h-1zM1244 647h1v1h-1zM1245 647h1v1h-1zM1246 648h1v1h-1zM1247 648h1v1h-1zM1248 647h1v1h-1zM1249 647h1v1h-1zM1250 646h1v1h-1zM1251 645h1v1h-1zM1252 645h1v1h-1zM1253 645h1v1h-1zM1254 645h1v1h-1zM1255 645h1v1h-1zM1256 646h1v1h-1zM1257 647h1v1h-1zM1258 647h1v1h-1zM1259 648h1v1h-1zM1260 647h1v1h-1zM1261 647h1v1h-1zM1262 646h1v1h-1zM1263 645h1v1h-1zM1264 646h1v1h-1zM1265 646h1v1h-1zM1266 647h1v1h-1zM1267 647h1v1h-1z"/>
<path fill="#c0c0c0" d="M3 752h1v12h-1zM7 752h1v12h-1zM11 752h1v13h-1zM15 752h1v12h-1zM19 752h1v11h-1zM23 752h1v9h-1zM27 752h1v8h-1zM31 752h1v8h-1zM35 752h1v7h-1zM39 752h1v6h-1zM43 752h1v6h-1zM47 752h1v6h-1zM51 752h1v5h-1zM55 752h1v4h-1zM59 752h1v4h-1zM63 752h1v4h-1zM67 752h1v2h-1zM71 752h1v1h-1zM79 752h1v1h-1zM83 751h1v2h-1zM87 750h1v3h-1zM91 749h1v4h-1zM95 748h1v5h-1zM99 747h1v6h-1zM103 746h1v7h-1zM107 745h1v8h-1zM111 744h1v9h-1zM115 744h1v9h-1zM119 743h1v10h-1zM123 743h1v10h-1zM127 743h1v10h-1zM131 742h1v11h-1zM135 743h1v10h-1zM139 743h1v10h-1zM143 744h1v9h-1zM147 745h1v8h-1zM151 746h1v7h-1zM155 747h1v6h-1zM159 747h1v6h-1zM163 748h1v5h-1zM167 749h1v4h-1zM171 749h1v4h-1zM175 750h1v3h-1zM179 750h1v3h-1zM183 750h1v3h-1zM187 749h1v4h-1zM191 748h1v5h-1zM195 746h1v7h-1zM199 745h1v8h-1zM203 744h1v9h-1zM207 745h1v8h-1zM211 745h1v8h-1zM215 744h1v9h-1zM219 744h1v9h-1zM223 743h1v10h-1zM227 742h1v11h-1zM231 737h1v16h-1zM235 733h1v20h-1zM239 729h1v24h-1zM243 724h1v29h-1zM247 722h1v31h-1zM251 719h1v34h-1zM255 714h1v39h-1zM259 706h1v47h-1zM263 701h1v52h-1zM267 699h1v54h-1zM271 697h1v56h-1zM275 694h1v59h-1zM279 694h1v59h-1zM283 697h1v56h-1zM287 704h1v49h-1zM291 710h1v43h-1zM295 717h1v36h-1zM299 719h1v34h-1zM303 722h1v31h-1zM307 723h1v30h-1zM311 726h1v27h-1zM315 728h1v25h-1zM319 730h1v23h-1zM323 732h1v21h-1zM327 736h1v17h-1zM331 739h1v14h-1zM335 742h1v11h-1zM339 745h1v8h-1zM343 747h1v6h-1zM347 749h1v4h-1zM351 752h1v1h-1zM355 750h1v3h-1zM359 749h1v4h-1zM363 749h1v4h-1zM367 750h1v3h-1zM371 750h1v3h-1zM375 748h1v5h-1zM379 747h1v6h-1zM383 748h1v5h-1zM387 748h1v5h-1zM391 748h1v5h-1zM395 749h1v4h-1zM399 751h1v2h-1zM407 752h1v2h-1zM411 752h1v1h-1zM419 752h1v1h-1zM427 751h1v2h-1zM435 752h1v2h-1zM439 752h1v3h-1zM443 752h1v3h-1zM447 752h1v3h-1zM451 752h1v1h-1zM459 752h1v1h-1zM463 751h1v2h-1zM471 752h1v2h-1zM475 752h1v4h-1zM479 752h1v4h-1zM483 752h1v4h-1zM487 752h1v3h-1zM491 752h1v3h-1zM495 752h1v6h-1zM499 752h1v8h-1zM503 752h1v10h-1zM507 752h1v11h-1zM511 752h1v12h-1zM515 752h1v16h-1zM519 752h1v19h-1zM523 752h1v23h-1zM527 752h1v24h-1zM531 752h1v27h-1zM535 752h1v29h-1zM539 752h1v30h-1zM543 752h1v31h-1zM547 752h1v31h-1zM551 752h1v29h-1zM555 752h1v26h-1zM559 752h1v23h-1zM563 752h1v20h-1zM567 752h1v19h-1zM571 752h1v17h-1zM575 752h1v16h-1zM579 752h1v14h-1zM583 752h1v13h-1zM587 752h1v12h-1zM591 752h1v12h-1zM595 752h1v11h-1zM599 752h1v9h-1zM603 752h1v7h-1zM607 752h1v5h-1zM611 752h1v4h-1zM615 752h1v4h-1zM619 752h1v4h-1zM623 752h1v4h-1zM627 752h1v4h-1zM631 752h1v5h-1zM635 752h1v5h-1zM639 752h1v5h-1zM643 752h1v5h-1zM647 752h1v5h-1zM651 752h1v4h-1zM655 752h1v4h-1zM659 752h1v4h-1zM663 752h1v3h-1zM667 752h1v4h-1zM671 752h1v4h-1zM675 752h1v4h-1zM679 752h1v4h-1zM683 752h1v4h-1zM687 752h1v6h-1zM691 752h1v7h-1zM695 752h1v9h-1zM699 752h1v10h-1zM703 752h1v10h-1zM707 752h1v11h-1zM711 752h1v12h-1zM715 752h1v12h-1zM719 752h1v11h-1zM723 752h1v11h-1zM727 752h1v11h-1zM731 752h1v10h-1zM735 752h1v11h-1zM739 752h1v12h-1zM743 752h1v13h-1zM747 752h1v12h-1zM751 752h1v11h-1zM755 752h1v10h-1zM759 752h1v11h-1zM763 752h1v12h-1zM767 752h1v13h-1zM771 752h1v13h-1zM775 752h1v13h-1zM779 752h1v14h-1zM783 752h1v14h-1zM787 752h1v15h-1zM791 752h1v15h-1zM795 752h1v15h-1zM799 752h1v14h-1zM803 752h1v13h-1zM807 752h1v13h-1zM811 752h1v13h-1zM815 752h1v14h-1zM819 752h1v14h-1zM823 752h1v14h-1zM827 752h1v16h-1zM831 752h1v16h-1zM835 752h1v16h-1zM839 752h1v15h-1zM843 752h1v14h-1zM847 752h1v14h-1zM851 752h1v13h-1zM855 752h1v11h-1zM859 752h1v10h-1zM863 752h1v8h-1zM867 752h1v7h-1zM871 752h1v6h-1zM875 752h1v5h-1zM879 752h1v4h-1zM883 752h1v3h-1zM887 752h1v2h-1zM891 752h1v2h-1zM895 752h1v2h-1zM903 751h1v2h-1zM907 748h1v5h-1zM911 747h1v6h-1zM915 745h1v8h-1zM919 744h1v9h-1zM923 743h1v10h-1zM927 742h1v11h-1zM931 743h1v10h-1zM935 744h1v9h-1zM939 745h1v8h-1zM943 746h1v7h-1zM947 747h1v6h-1zM951 748h1v5h-1zM955 749h1v4h-1zM959 750h1v3h-1zM967 752h1v2h-1zM971 752h1v4h-1zM975 752h1v5h-1zM979 752h1v6h-1zM983 752h1v5h-1zM987 752h1v5h-1zM991 752h1v5h-1zM995 752h1v5h-1zM999 752h1v6h-1zM1003 752h1v6h-1zM1007 752h1v6h-1zM1011 752h1v7h-1zM1015 752h1v6h-1zM1019 752h1v5h-1zM1023 752h1v5h-1zM1027 752h1v2h-1zM1031 752h1v1h-1zM1035 751h1v2h-1zM1039 750h1v3h-1zM1043 749h1v4h-1zM1047 752h1v1h-1zM1051 752h1v1h-1zM1055 752h1v3h-1zM1059 752h1v6h-1zM1063 752h1v7h-1zM1067 752h1v10h-1zM1071 752h1v10h-1zM1075 752h1v10h-1zM1079 752h1v9h-1zM1083 752h1v7h-1zM1087 752h1v6h-1zM1091 752h1v7h-1zM1095 752h1v6h-1zM1099 752h1v6h-1zM1103 752h1v6h-1zM1107 752h1v6h-1zM1111 752h1v6h-1zM1115 752h1v5h-1zM1119 752h1v6h-1zM1123 752h1v6h-1zM1127 752h1v7h-1zM1131 752h1v8h-1zM1135 752h1v8h-1zM1139 752h1v9h-1zM1143 752h1v9h-1zM1147 752h1v10h-1zM1151 752h1v11h-1zM1155 752h1v13h-1zM1159 752h1v15h-1zM1163 752h1v16h-1zM1167 752h1v16h-1zM1171 752h1v17h-1zM1175 752h1v18h-1zM1179 752h1v18h-1zM1183 752h1v18h-1zM1187 752h1v17h-1zM1191 752h1v17h-1zM1195 752h1v17h-1zM1199 752h1v17h-1zM1203 752h1v16h-1zM1207 752h1v15h-1zM1211 752h1v12h-1zM1215 752h1v10h-1zM1219 752h1v8h-1zM1223 752h1v7h-1zM1227 752h1v7h-1zM1231 752h1v6h-1zM1235 752h1v6h-1zM1239 752h1v6h-1zM1243 752h1v7h-1zM1247 752h1v8h-1zM1251 752h1v8h-1zM1255 752h1v9h-1zM1259 752h1v9h-1zM1263 752h1v9h-1zM1267 752h1v10h-1z"/>
<path fill="#ff0000" d="M3 760h1v1h-1zM4 760h1v1h-1zM5 761h1v1h-1zM9 762h1v1h-1zM10 762h1v1h-1zM11 762h1v1h-1zM15 763h1v1h-1zM16 763h1v1h-1zM17 763h1v1h-1zM21 763h1v1h-1zM22 763h1v1h-1zM23 763h1v1h-1zM27 763h1v1h-1zM28 763h1v1h-1zM29 763h1v1h-1zM33 763h1v1h-1zM34 762h1v1h-1zM35 762h1v1h-1zM39 762h1v1h-1zM40 762h1v1h-1zM41 762h1v1h-1zM45 761h1v1h-1zM46 760h1v1h-1zM47 760h1v1h-1zM51 759h1v1h-1zM52 759h1v1h-1zM53 759h1v1h-1zM57 759h1v1h-1zM58 758h1v1h-1zM59 758h1v1h-1zM63 758h1v1h-1zM64 758h1v1h-1zM65 758h1v1h-1zM69 757h1v1h-1zM70 756h1v1h-1zM71 756h1v1h-1zM75 756h1v1h-1zM76 756h1v1h-1zM77 756h1v1h-1zM81 755h1v1h-1zM82 754h1v1h-1zM83 754h1v1h-1zM87 753h1v1h-1zM88 753h1v1h-1zM89 753h1v1h-1zM93 752h1v1h-1zM94 751h1v1h-1zM95 751h1v1h-1zM99 750h1v1h-1zM100 750h1v1h-1zM101 750h1v1h-1zM105 749h1v1h-1zM106 748h1v1h-1zM107 748h1v1h-1zM111 747h1v1h-1zM112 747h1v1h-1zM113 747h1v1h-1zM117 746h1v1h-1zM118 745h1v1h-1zM119 745h1v1h-1zM123 744h1v1h-1zM124 744h1v1h-1zM125 744h1v1h-1zM129 744h1v1h-1zM130 743h1v1h-1zM131 743h1v1h-1zM135 743h1v1h-1zM136 743h1v1h-1zM137 743h1v1h-1zM141 742h1v1h-1zM142 742h1v1h-1zM143 742h1v1h-1zM147 742h1v1h-1zM148 742h1v1h-1zM149 742h1v1h-1zM153 743h1v1h-1zM154 743h1v1h-1zM155 743h1v1h-1zM159 743h1v1h-1zM160 743h1v1h-1zM161 744h1v1h-1zM165 745h1v1h-1zM166 745h1v1h-1zM167 745h1v1h-1zM171 745h1v1h-1zM172 745h1v1h-1zM173 746h1v1h-1zM177 747h1v1h-1zM178 747h1v1h-1zM179 747h1v1h-1zM183 747h1v1h-1zM184 747h1v1h-1zM185 748h1v1h-1zM189 748h1v1h-1zM190 748h1v1h-1zM191 748h1v1h-1zM195 748h1v1h-1zM196 748h1v1h-1zM197 748h1v1h-1zM201 748h1v1h-1zM202 747h1v1h-1zM203 747h1v1h-1zM207 747h1v1h-1zM208 747h1v1h-1zM209 747h1v1h-1zM213 746h1v1h-1zM214 745h1v1h-1zM215 745h1v1h-1zM219 745h1v1h-1zM220 745h1v1h-1zM221 745h1v1h-1zM225 744h1v1h-1zM226 743h1v1h-1zM227 743h1v1h-1zM231 742h1v1h-1zM232 742h1v1h-1zM233 742h1v1h-1zM237 740h1v1h-1zM238 740h1v1h-1zM239 739h1v1h-1zM243 737h1v1h-1zM244 736h1v1h-1zM245 736h1v1h-1zM249 733h1v1h-1zM250 732h1v1h-1zM251 731h1v1h-1zM255 728h1v1h-1zM256 727h1v1h-1zM257 726h1v1h-1zM261 722h1v1h-1zM262 721h1v1h-1zM263 720h1v1h-1zM266 716h1v1h-1zM267 715h1v1h-1zM268 714h1v1h-1zM272 710h1v1h-1zM273 709h1v1h-1zM274 708h1v1h-1zM278 705h1v1h-1zM279 704h1v1h-1zM280 703h1v1h-1zM284 701h1v1h-1zM285 701h1v1h-1zM286 700h1v1h-1zM290 699h1v1h-1zM291 699h1v1h-1zM292 699h1v1h-1zM296 701h1v1h-1zM297 701h1v1h-1zM298 702h1v1h-1zM302 704h1v1h-1zM303 705h1v1h-1zM304 706h1v1h-1zM308 709h1v1h-1zM309 710h1v1h-1zM310 710h1v1h-1zM314 714h1v1h-1zM315 715h1v1h-1zM316 716h1v1h-1zM320 720h1v1h-1zM321 721h1v1h-1zM322 721h1v1h-1zM326 724h1v1h-1zM327 725h1v1h-1zM328 726h1v1h-1zM332 729h1v1h-1zM333 729h1v1h-1zM334 730h1v1h-1zM338 732h1v1h-1zM339 733h1v1h-1zM340 734h1v1h-1zM344 736h1v1h-1zM345 737h1v1h-1zM346 737h1v1h-1zM350 740h1v1h-1zM351 740h1v1h-1zM352 741h1v1h-1zM356 744h1v1h-1zM357 744h1v1h-1zM358 745h1v1h-1zM362 746h1v1h-1zM363 746h1v1h-1zM364 746h1v1h-1zM368 747h1v1h-1zM369 748h1v1h-1zM370 748h1v1h-1zM374 748h1v1h-1zM375 748h1v1h-1zM376 748h1v1h-1zM380 748h1v1h-1zM381 748h1v1h-1zM382 748h1v1h-1zM386 748h1v1h-1zM387 748h1v1h-1zM388 748h1v1h-1zM392 748h1v1h-1zM393 748h1v1h-1zM394 748h1v1h-1zM398 748h1v1h-1zM399 748h1v1h-1zM400 748h1v1h-1zM404 748h1v1h-1zM405 749h1v1h-1zM406 749h1v1h-1zM410 749h1v1h-1zM411 749h1v1h-1zM412 749h1v1h-1zM416 750h1v1h-1zM417 750h1v1h-1zM418 750h1v1h-1zM422 751h1v1h-1zM423 751h1v1h-1zM424 751h1v1h-1zM428 751h1v1h-1zM429 752h1v1h-1zM430 752h1v1h-1zM434 752h1v1h-1zM435 752h1v1h-1zM436 752h1v1h-1zM440 752h1v1h-1zM441 753h1v1h-1zM442 753h1v1h-1zM446 753h1v1h-1zM447 753h1v1h-1zM448 753h1v1h-1zM452 753h1v1h-1zM453 753h1v1h-1zM454 753h1v1h-1zM458 753h1v1h-1zM459 753h1v1h-1zM460 753h1v1h-1zM464 753h1v1h-1zM465 753h1v1h-1zM466 753h1v1h-1zM470 753h1v1h-1zM471 753h1v1h-1zM472 753h1v1h-1zM476 753h1v1h-1zM477 753h1v1h-1zM478 753h1v1h-1zM482 753h1v1h-1zM483 753h1v1h-1zM484 753h1v1h-1zM488 754h1v1h-1zM489 754h1v1h-1zM490 754h1v1h-1zM494 755h1v1h-1zM495 755h1v1h-1zM496 755h1v1h-1zM500 756h1v1h-1zM501 757h1v1h-1zM502 757h1v1h-1zM506 758h1v1h-1zM507 758h1v1h-1zM508 758h1v1h-1zM512 759h1v1h-1zM513 760h1v1h-1zM514 760h1v1h-1zM518 762h1v1h-1zM519 762h1v1h-1zM520 763h1v1h-1zM524 765h1v1h-1zM525 765h1v1h-1zM526 766h1v1h-1zM530 768h1v1h-1zM531 769h1v1h-1zM532 770h1v1h-1zM536 772h1v1h-1zM537 772h1v1h-1zM538 773h1v1h-1zM542 775h1v1h-1zM543 775h1v1h-1zM544 776h1v1h-1zM548 778h1v1h-1zM549 779h1v1h-1zM550 779h1v1h-1zM554 780h1v1h-1zM555 780h1v1h-1zM556 780h1v1h-1zM560 780h1v1h-1zM561 780h1v1h-1zM562 779h1v1h-1zM566 778h1v1h-1zM567 778h1v1h-1zM568 778h1v1h-1zM572 777h1v1h-1zM573 776h1v1h-1zM574 776h1v1h-1zM578 774h1v1h-1zM579 774h1v1h-1zM580 774h1v1h-1zM584 772h1v1h-1zM585 771h1v1h-1zM586 771h1v1h-1zM590 769h1v1h-1zM591 768h1v1h-1zM592 768h1v1h-1zM596 767h1v1h-1zM597 767h1v1h-1zM598 766h1v1h-1zM602 765h1v1h-1zM603 764h1v1h-1zM604 764h1v1h-1zM608 763h1v1h-1zM609 763h1v1h-1zM610 762h1v1h-1zM614 761h1v1h-1zM615 760h1v1h-1zM616 760h1v1h-1zM620 759h1v1h-1zM621 759h1v1h-1zM622 759h1v1h-1zM626 758h1v1h-1zM627 758h1v1h-1zM628 758h1v1h-1zM632 757h1v1h-1zM633 757h1v1h-1zM634 757h1v1h-1zM638 756h1v1h-1zM639 756h1v1h-1zM640 756h1v1h-1zM644 756h1v1h-1zM645 756h1v1h-1zM646 756h1v1h-1zM650 757h1v1h-1zM651 757h1v1h-1zM652 757h1v1h-1zM656 757h1v1h-1zM657 757h1v1h-1zM658 757h1v1h-1zM662 756h1v1h-1zM663 756h1v1h-1zM664 756h1v1h-1zM668 756h1v1h-1zM669 756h1v1h-1zM670 756h1v1h-1zM674 756h1v1h-1zM675 756h1v1h-1zM676 756h1v1h-1zM680 756h1v1h-1zM681 756h1v1h-1zM682 756h1v1h-1zM686 756h1v1h-1zM687 756h1v1h-1zM688 756h1v1h-1zM692 757h1v1h-1zM693 757h1v1h-1zM694 757h1v1h-1zM698 758h1v1h-1zM699 758h1v1h-1zM700 758h1v1h-1zM704 759h1v1h-1zM705 759h1v1h-1zM706 759h1v1h-1zM710 760h1v1h-1zM711 760h1v1h-1zM712 760h1v1h-1zM716 761h1v1h-1zM717 762h1v1h-1zM718 762h1v1h-1zM722 762h1v1h-1zM723 762h1v1h-1zM724 762h1v1h-1zM728 763h1v1h-1zM729 763h1v1h-1zM730 763h1v1h-1zM734 763h1v1h-1zM735 763h1v1h-1zM736 763h1v1h-1zM740 763h1v1h-1zM741 763h1v1h-1zM742 763h1v1h-1zM746 763h1v1h-1zM747 763h1v1h-1zM748 763h1v1h-1zM752 763h1v1h-1zM753 763h1v1h-1zM754 763h1v1h-1zM758 763h1v1h-1zM759 763h1v1h-1zM760 763h1v1h-1zM764 763h1v1h-1zM765 764h1v1h-1zM766 764h1v1h-1zM770 764h1v1h-1zM771 764h1v1h-1zM772 764h1v1h-1zM776 764h1v1h-1zM777 764h1v1h-1zM778 764h1v1h-1zM782 764h1v1h-1zM783 764h1v1h-1zM784 764h1v1h-1zM788 765h1v1h-1zM789 765h1v1h-1zM790 765h1v1h-1zM794 766h1v1h-1zM795 766h1v1h-1zM796 766h1v1h-1zM800 766h1v1h-1zM801 766h1v1h-1zM802 766h1v1h-1zM806 766h1v1h-1zM807 766h1v1h-1zM808 766h1v1h-1zM812 766h1v1h-1zM813 766h1v1h-1zM814 766h1v1h-1zM818 766h1v1h-1zM819 766h1v1h-1zM820 766h1v1h-1zM824 766h1v1h-1zM825 766h1v1h-1zM826 766h1v1h-1zM830 766h1v1h-1zM831 766h1v1h-1zM832 766h1v1h-1zM836 766h1v1h-1zM837 766h1v1h-1zM838 766h1v1h-1zM842 767h1v1h-1zM843 767h1v1h-1zM844 767h1v1h-1zM848 767h1v1h-1zM849 767h1v1h-1zM850 767h1v1h-1zM854 766h1v1h-1zM855 766h1v1h-1zM856 766h1v1h-1zM860 766h1v1h-1zM861 766h1v1h-1zM862 765h1v1h-1zM866 764h1v1h-1zM867 764h1v1h-1zM868 764h1v1h-1zM872 763h1v1h-1zM873 763h1v1h-1zM874 762h1v1h-1zM878 761h1v1h-1zM879 761h1v1h-1zM880 761h1v1h-1zM884 759h1v1h-1zM885 759h1v1h-1zM886 758h1v1h-1zM890 757h1v1h-1zM891 757h1v1h-1zM892 757h1v1h-1zM896 756h1v1h-1zM897 756h1v1h-1zM898 755h1v1h-1zM902 754h1v1h-1zM903 754h1v1h-1zM904 754h1v1h-1zM908 753h1v1h-1zM909 753h1v1h-1zM910 752h1v1h-1zM914 751h1v1h-1zM915 751h1v1h-1zM916 751h1v1h-1zM920 749h1v1h-1zM921 749h1v1h-1zM922 748h1v1h-1zM926 747h1v1h-1zM927 746h1v1h-1zM928 746h1v1h-1zM932 745h1v1h-1zM933 745h1v1h-1zM934 744h1v1h-1zM938 744h1v1h-1zM939 744h1v1h-1zM940 744h1v1h-1zM944 743h1v1h-1zM945 743h1v1h-1zM946 743h1v1h-1zM950 744h1v1h-1zM951 744h1v1h-1zM952 744h1v1h-1zM956 744h1v1h-1zM957 745h1v1h-1zM958 745h1v1h-1zM962 746h1v1h-1zM963 746h1v1h-1zM964 747h1v1h-1zM968 748h1v1h-1zM969 749h1v1h-1zM970 749h1v1h-1zM974 751h1v1h-1zM975 751h1v1h-1zM976 751h1v1h-1zM980 752h1v1h-1zM981 753h1v1h-1zM982 753h1v1h-1zM986 754h1v1h-1zM987 754h1v1h-1zM988 754h1v1h-1zM992 755h1v1h-1zM993 756h1v1h-1zM994 756h1v1h-1zM998 757h1v1h-1zM999 757h1v1h-1zM1000 757h1v1h-1zM1004 757h1v1h-1zM1005 757h1v1h-1zM1006 757h1v1h-1zM1010 758h1v1h-1zM1011 758h1v1h-1zM1012 758h1v1h-1zM1016 758h1v1h-1zM1017 758h1v1h-1zM1018 758h1v1h-1zM1022 758h1v1h-1zM1023 758h1v1h-1zM1024 758h1v1h-1zM1028 757h1v1h-1zM1029 757h1v1h-1zM1030 757h1v1h-1zM1034 756h1v1h-1zM1035 756h1v1h-1zM1036 756h1v1h-1zM1040 755h1v1h-1zM1041 755h1v1h-1zM1042 754h1v1h-1zM1046 753h1v1h-1zM1047 753h1v1h-1zM1048 753h1v1h-1zM1052 752h1v1h-1zM1053 752h1v1h-1zM1054 752h1v1h-1zM1058 752h1v1h-1zM1059 752h1v1h-1zM1060 752h1v1h-1zM1064 753h1v1h-1zM1065 754h1v1h-1zM1066 754h1v1h-1zM1070 755h1v1h-1zM1071 755h1v1h-1zM1072 756h1v1h-1zM1076 757h1v1h-1zM1077 758h1v1h-1zM1078 758h1v1h-1zM1082 759h1v1h-1zM1083 759h1v1h-1zM1084 759h1v1h-1zM1088 760h1v1h-1zM1089 760h1v1h-1zM1090 760h1v1h-1zM1094 760h1v1h-1zM1095 760h1v1h-1zM1096 760h1v1h-1zM1100 760h1v1h-1zM1101 760h1v1h-1zM1102 760h1v1h-1zM1106 759h1v1h-1zM1107 759h1v1h-1zM1108 759h1v1h-1zM1112 759h1v1h-1zM1113 759h1v1h-1zM1114 758h1v1h-1zM1118 758h1v1h-1zM1119 758h1v1h-1zM1120 758h1v1h-1zM1124 758h1v1h-1zM1125 758h1v1h-1zM1126 758h1v1h-1zM1130 758h1v1h-1zM1131 758h1v1h-1zM1132 758h1v1h-1zM1136 758h1v1h-1zM1137 759h1v1h-1zM1138 759h1v1h-1zM1142 759h1v1h-1zM1143 759h1v1h-1zM1144 759h1v1h-1zM1148 760h1v1h-1zM1149 760h1v1h-1zM1150 760h1v1h-1zM1154 761h1v1h-1zM1155 761h1v1h-1zM1156 761h1v1h-1zM1160 762h1v1h-1zM1161 763h1v1h-1zM1162 763h1v1h-1zM1166 764h1v1h-1zM1167 764h1v1h-1zM1168 764h1v1h-1zM1172 765h1v1h-1zM1173 766h1v1h-1zM1174 766h1v1h-1zM1178 767h1v1h-1zM1179 767h1v1h-1zM1180 767h1v1h-1zM1184 768h1v1h-1zM1185 768h1v1h-1zM1186 768h1v1h-1zM1190 769h1v1h-1zM1191 769h1v1h-1zM1192 769h1v1h-1zM1196 769h1v1h-1zM1197 769h1v1h-1zM1198 769h1v1h-1zM1202 769h1v1h-1zM1203 769h1v1h-1zM1204 769h1v1h-1zM1208 769h1v1h-1zM1209 769h1v1h-1zM1210 768h1v1h-1zM1214 767h1v1h-1zM1215 767h1v1h-1zM1216 767h1v1h-1zM1220 766h1v1h-1zM1221 766h1v1h-1zM1222 765h1v1h-1zM1226 764h1v1h-1zM1227 764h1v1h-1zM1228 764h1v1h-1zM1232 763h1v1h-1zM1233 763h1v1h-1zM1234 762h1v1h-1zM1238 761h1v1h-1zM1239 761h1v1h-1zM1240 761h1v1h-1zM1244 760h1v1h-1zM1245 760h1v1h-1zM1246 759h1v1h-1zM1250 759h1v1h-1zM1251 759h1v1h-1zM1252 759h1v1h-1zM1256 759h1v1h-1zM1257 759h1v1h-1zM1258 759h1v1h-1zM1262 760h1v1h-1zM1263 760h1v1h-1zM1264 760h1v1h-1z"/>
<rect x="2" y="25" width="1594" height="1" fill="#000"/>
<rect x="2" y="581" width="1594" height="1" fill="#000"/>
<rect x="2" y="25" width="1" height="557" fill="#000"/>
<rect x="1595" y="25" width="1" height="557" fill="#000"/>
<rect x="2" y="583" width="1594" height="1" fill="#000"/>
<rect x="2" y="685" width="1594" height="1" fill="#000"/>
<rect x="2" y="583" width="1" height="103" fill="#000"/>
<rect x="1595" y="583" width="1" height="103" fill="#000"/>
<rect x="2" y="687" width="1594" height="1" fill="#000"/>
<rect x="2" y="788" width="1594" height="1" fill="#000"/>
<rect x="2" y="687" width="1" height="102" fill="#000"/>
<rect x="1595" y="687" width="1" height="102" fill="#000"/>
<rect x="3" y="553" width="1592" height="1" fill="#c0c0c0"/>
<rect x="1597" y="548" width="41" height="11" fill="#000"/>
<text x="1600.54" y="557" font-size="9.9" fill="#fff" stroke="#fff" stroke-width="0.2" textLength="32.98" lengthAdjust="spacingAndGlyphs">1.26870</text>
<rect x="3" y="366" width="1594" height="2" fill="#ff0000"/>
<rect x="1597" y="361" width="41" height="11" fill="#ff0000"/>
<rect x="3" y="437" width="1594" height="2" fill="#ff0000"/>
<rect x="2" y="435" width="6" height="6" fill="#ff0000"/>
<rect x="4" y="437" width="2" height="2" fill="#fff"/>
<rect x="1589" y="435" width="6" height="6" fill="#ff0000"/>
<rect x="1591" y="437" width="2" height="2" fill="#fff"/>
<rect x="1597" y="432" width="41" height="11" fill="#ff0000"/>
<rect x="3" y="493" width="1594" height="2" fill="#00ff00"/>
<rect x="2" y="491" width="6" height="6" fill="#00ff00"/>
<rect x="4" y="493" width="2" height="2" fill="#fff"/>
<rect x="1589" y="491" width="6" height="6" fill="#00ff00"/>
<rect x="1591" y="493" width="2" height="2" fill="#fff"/>
<rect x="1597" y="488" width="41" height="11" fill="#00ff00"/>
<rect x="3" y="548" width="1594" height="2" fill="#0000ff"/>
<rect x="2" y="546" width="6" height="6" fill="#0000ff"/>
<rect x="4" y="548" width="2" height="2" fill="#fff"/>
<rect x="1589" y="546" width="6" height="6" fill="#0000ff"/>
<rect x="1591" y="548" width="2" height="2" fill="#fff"/>
<rect x="1597" y="543" width="41" height="11" fill="#0000ff"/>
<text x="1600.54" y="370" font-size="9.9" fill="#fff" stroke="#fff" stroke-width="0.2" textLength="32.96" lengthAdjust="spacingAndGlyphs">1.34206</text>
<text x="1600.53" y="441" font-size="9.9" fill="#fff" stroke="#fff" stroke-width="0.2" textLength="33.11" lengthAdjust="spacingAndGlyphs">1.31405</text>
<text x="1600.54" y="497" font-size="9.9" fill="#fff" stroke="#fff" stroke-width="0.2" textLength="33.01" lengthAdjust="spacingAndGlyphs">1.29208</text>
<text x="1600.53" y="552" font-size="9.9" fill="#fff" stroke="#fff" stroke-width="0.2" textLength="33.20" lengthAdjust="spacingAndGlyphs">1.27027</text>
<path d="M6 32h7l-3.5 4z" fill="#000" shape-rendering="auto"/>
<text x="17.55" y="37" font-size="9.9" fill="#000" stroke="#000" stroke-width="0.15" textLength="66.27" lengthAdjust="spacingAndGlyphs">USDCAD,Daily</text>
<text x="89.51" y="37" font-size="9.9" fill="#000" stroke="#000" stroke-width="0.15" textLength="33.54" lengthAdjust="spacingAndGlyphs">1.27205</text>
<text x="125.84" y="37" font-size="9.9" fill="#000" stroke="#000" stroke-width="0.15" textLength="33.01" lengthAdjust="spacingAndGlyphs">1.27315</text>
<text x="161.63" y="37" font-size="9.9" fill="#000" stroke="#000" stroke-width="0.15" textLength="33.15" lengthAdjust="spacingAndGlyphs">1.26733</text>
<text x="197.63" y="37" font-size="9.9" fill="#000" stroke="#000" stroke-width="0.15" textLength="33.08" lengthAdjust="spacingAndGlyphs">1.26870</text>
<text x="6.61" y="596" font-size="9.9" fill="#000" stroke="#000" stroke-width="0.15" textLength="68.40" lengthAdjust="spacingAndGlyphs">RSI(14) 36.8516</text>
<text x="6.81" y="700" font-size="9.9" fill="#000" stroke="#000" stroke-width="0.15" textLength="154.48" lengthAdjust="spacingAndGlyphs">MACD(12,26,9) -0.004805 -0.004004</text>
<rect x="3" y="789" width="1" height="3" fill="#000"/>
<rect x="67" y="789" width="1" height="3" fill="#000"/>
<rect x="131" y="789" width="1" height="3" fill="#000"/>
<rect x="195" y="789" width="1" height="3" fill="#000"/>
<rect x="259" y="789" width="1" height="3" fill="#000"/>
<rect x="323" y="789" width="1" height="3" fill="#000"/>
<rect x="387" y="789" width="1" height="3" fill="#000"/>
<rect x="451" y="789" width="1" height="3" fill="#000"/>
<rect x="515" y="789" width="1" height="3" fill="#000"/>
<rect x="579" y="789" width="1" height="3" fill="#000"/>
<rect x="643" y="789" width="1" height="3" fill="#000"/>
<rect x="707" y="789" width="1" height="3" fill="#000"/>
<rect x="771" y="789" width="1" height="3" fill="#000"/>
<rect x="835" y="789" width="1" height="3" fill="#000"/>
<rect x="899" y="789" width="1" height="3" fill="#000"/>
<rect x="963" y="789" width="1" height="3" fill="#000"/>
<rect x="1027" y="789" width="1" height="3" fill="#000"/>
<rect x="1091" y="789" width="1" height="3" fill="#000"/>
<rect x="1155" y="789" width="1" height="3" fill="#000"/>
<rect x="1219" y="789" width="1" height="3" fill="#000"/>
<text x="1.56" y="801" font-size="9.9" fill="#000" stroke="#000" stroke-width="0.15" textLength="45.71" lengthAdjust="spacingAndGlyphs">3 Jan 2020</text>
<text x="65.90" y="801" font-size="9.9" fill="#000" stroke="#000" stroke-width="0.15" textLength="50.09" lengthAdjust="spacingAndGlyphs">22 Jan 2020</text>
<text x="128.98" y="801" font-size="9.9" fill="#000" stroke="#000" stroke-width="0.15" textLength="52.67" lengthAdjust="spacingAndGlyphs">10 Feb 2020</text>
<text x="193.60" y="801" font-size="9.9" fill="#000" stroke="#000" stroke-width="0.15" textLength="52.19" lengthAdjust="spacingAndGlyphs">28 Feb 2020</text>
<text x="257.60" y="801" font-size="9.9" fill="#000" stroke="#000" stroke-width="0.15" textLength="53.92" lengthAdjust="spacingAndGlyphs">18 Mar 2020</text>
<text x="321.60" y="801" font-size="9.9" fill="#000" stroke="#000" stroke-width="0.15" textLength="46.97" lengthAdjust="spacingAndGlyphs">6 Apr 2020</text>
<text x="385.60" y="801" font-size="9.9" fill="#000" stroke="#000" stroke-width="0.15" textLength="52.19" lengthAdjust="spacingAndGlyphs">24 Apr 2020</text>
<text x="449.60" y="801" font-size="9.9" fill="#000" stroke="#000" stroke-width="0.15" textLength="55.67" lengthAdjust="spacingAndGlyphs">13 May 2020</text>
<text x="513.60" y="801" font-size="9.9" fill="#000" stroke="#000" stroke-width="0.15" textLength="45.81" lengthAdjust="spacingAndGlyphs">1 Jun 2020</text>
<text x="577.60" y="801" font-size="9.9" fill="#000" stroke="#000" stroke-width="0.15" textLength="51.03" lengthAdjust="spacingAndGlyphs">19 Jun 2020</text>
<text x="641.60" y="801" font-size="9.9" fill="#000" stroke="#000" stroke-width="0.15" textLength="43.50" lengthAdjust="spacingAndGlyphs">8 Jul 2020</text>
<text x="705.60" y="801" font-size="9.9" fill="#000" stroke="#000" stroke-width="0.15" textLength="48.72" lengthAdjust="spacingAndGlyphs">27 Jul 2020</text>
<text x="769.60" y="801" font-size="9.9" fill="#000" stroke="#000" stroke-width="0.15" textLength="53.94" lengthAdjust="spacingAndGlyphs">14 Aug 2020</text>
<text x="833.60" y="801" font-size="9.9" fill="#000" stroke="#000" stroke-width="0.15" textLength="46.97" lengthAdjust="spacingAndGlyphs">2 Sep 2020</text>
<text x="897.60" y="801" font-size="9.9" fill="#000" stroke="#000" stroke-width="0.15" textLength="52.19" lengthAdjust="spacingAndGlyphs">21 Sep 2020</text>
<text x="961.60" y="801" font-size="9.9" fill="#000" stroke="#000" stroke-width="0.15" textLength="46.39" lengthAdjust="spacingAndGlyphs">9 Oct 2020</text>
<text x="1025.60" y="801" font-size="9.9" fill="#000" stroke="#000" stroke-width="0.15" textLength="51.61" lengthAdjust="spacingAndGlyphs">28 Oct 2020</text>
<text x="1088.98" y="801" font-size="9.9" fill="#000" stroke="#000" stroke-width="0.15" textLength="55.01" lengthAdjust="spacingAndGlyphs">16 Nov 2020</text>
<text x="1153.52" y="801" font-size="9.9" fill="#000" stroke="#000" stroke-width="0.15" textLength="47.64" lengthAdjust="spacingAndGlyphs">4 Dec 2020</text>
<text x="1217.75" y="801" font-size="9.9" fill="#000" stroke="#000" stroke-width="0.15" textLength="52.74" lengthAdjust="spacingAndGlyphs">23 Dec 2020</text>
<rect x="0" y="809" width="1640" height="1" fill="#e3e3e3"/>
<rect x="0" y="813" width="1640" height="18" fill="#f0f0f0"/>
<rect x="0" y="832" width="1640" height="2" fill="#f0f0f0"/>
<rect x="0" y="811" width="1641" height="1" fill="#000"/>
<rect x="313" y="810" width="102" height="19" fill="#fff"/>
<rect x="312" y="811" width="1" height="19" fill="#000"/>
<rect x="415" y="811" width="1" height="19" fill="#000"/>
<rect x="312" y="829" width="104" height="1" fill="#000"/>
<rect x="108" y="814" width="1" height="14" fill="#7a7a7a"/>
<rect x="208" y="814" width="1" height="14" fill="#7a7a7a"/>
<rect x="520" y="814" width="1" height="14" fill="#7a7a7a"/>
<rect x="624" y="814" width="1" height="14" fill="#7a7a7a"/>
<rect x="716" y="814" width="1" height="14" fill="#7a7a7a"/>
<rect x="808" y="814" width="1" height="14" fill="#7a7a7a"/>
<rect x="880" y="814" width="1" height="14" fill="#7a7a7a"/>
<rect x="960" y="814" width="1" height="14" fill="#7a7a7a"/>
<rect x="1040" y="814" width="1" height="14" fill="#7a7a7a"/>
<rect x="1120" y="814" width="1" height="14" fill="#7a7a7a"/>
<rect x="1196" y="814" width="1" height="14" fill="#7a7a7a"/>
<rect x="1296" y="814" width="1" height="14" fill="#7a7a7a"/>
<rect x="1380" y="814" width="1" height="14" fill="#7a7a7a"/>
<rect x="1460" y="814" width="1" height="14" fill="#7a7a7a"/>
<rect x="1560" y="814" width="1" height="14" fill="#7a7a7a"/>
<text x="15.64" y="826" font-size="12.4" fill="#6a6a6a" textLength="81.07" lengthAdjust="spacingAndGlyphs">EURUSD,Daily</text>
<text x="117.35" y="826" font-size="12.4" fill="#6a6a6a" textLength="80.87" lengthAdjust="spacingAndGlyphs">USDCHF,Daily</text>
<text x="219.30" y="826" font-size="12.4" fill="#6a6a6a" textLength="82.22" lengthAdjust="spacingAndGlyphs">AUDUSD,Daily</text>
<text x="323.10" y="826" font-size="12.4" fill="#000" textLength="80.56" lengthAdjust="spacingAndGlyphs">USDCAD,Daily</text>
<text x="425.97" y="826" font-size="12.4" fill="#6a6a6a" textLength="83.10" lengthAdjust="spacingAndGlyphs">USDCNH,Daily</text>
<text x="532.10" y="826" font-size="12.4" fill="#6a6a6a" textLength="80.06" lengthAdjust="spacingAndGlyphs">EURUSD,Daily</text>
<text x="636.43" y="826" font-size="12.4" fill="#6a6a6a" textLength="67.66" lengthAdjust="spacingAndGlyphs">GBPUSD,H4</text>
<text x="727.33" y="826" font-size="12.4" fill="#6a6a6a" textLength="69.37" lengthAdjust="spacingAndGlyphs">XAUUSD,H1</text>
<text x="819.14" y="826" font-size="12.4" fill="#6a6a6a" textLength="51.40" lengthAdjust="spacingAndGlyphs">HK50,H1</text>
<text x="890.82" y="826" font-size="12.4" fill="#6a6a6a" textLength="58.12" lengthAdjust="spacingAndGlyphs">UK100,H1</text>
<text x="970.82" y="826" font-size="12.4" fill="#6a6a6a" textLength="58.22" lengthAdjust="spacingAndGlyphs">UK100,H1</text>
<text x="1051.41" y="826" font-size="12.4" fill="#6a6a6a" textLength="57.99" lengthAdjust="spacingAndGlyphs">GER30,H1</text>
<text x="1130.19" y="826" font-size="12.4" fill="#6a6a6a" textLength="55.40" lengthAdjust="spacingAndGlyphs">FRA40,H1</text>
<text x="1206.91" y="826" font-size="12.4" fill="#6a6a6a" textLength="77.60" lengthAdjust="spacingAndGlyphs">USOil,Weekly</text>
<text x="1305.85" y="826" font-size="12.4" fill="#6a6a6a" textLength="64.09" lengthAdjust="spacingAndGlyphs">USDJPY,H1</text>
<text x="1389.86" y="826" font-size="12.4" fill="#6a6a6a" textLength="59.34" lengthAdjust="spacingAndGlyphs">DJ30,Daily</text>
<text x="1470.40" y="826" font-size="12.4" fill="#6a6a6a" textLength="79.47" lengthAdjust="spacingAndGlyphs">CHINA300,H1</text>
<text x="1570.18" y="826" font-size="12.4" fill="#6a6a6a" textLength="34.80" lengthAdjust="spacingAndGlyphs">USOil,</text>
<path d="M1614.5 817v7l-4-3.5z" fill="#a0a0a0" shape-rendering="auto"/>
<path d="M1630 817v7l4-3.5z" fill="#000" shape-rendering="auto"/>
</svg>
</body></html>
